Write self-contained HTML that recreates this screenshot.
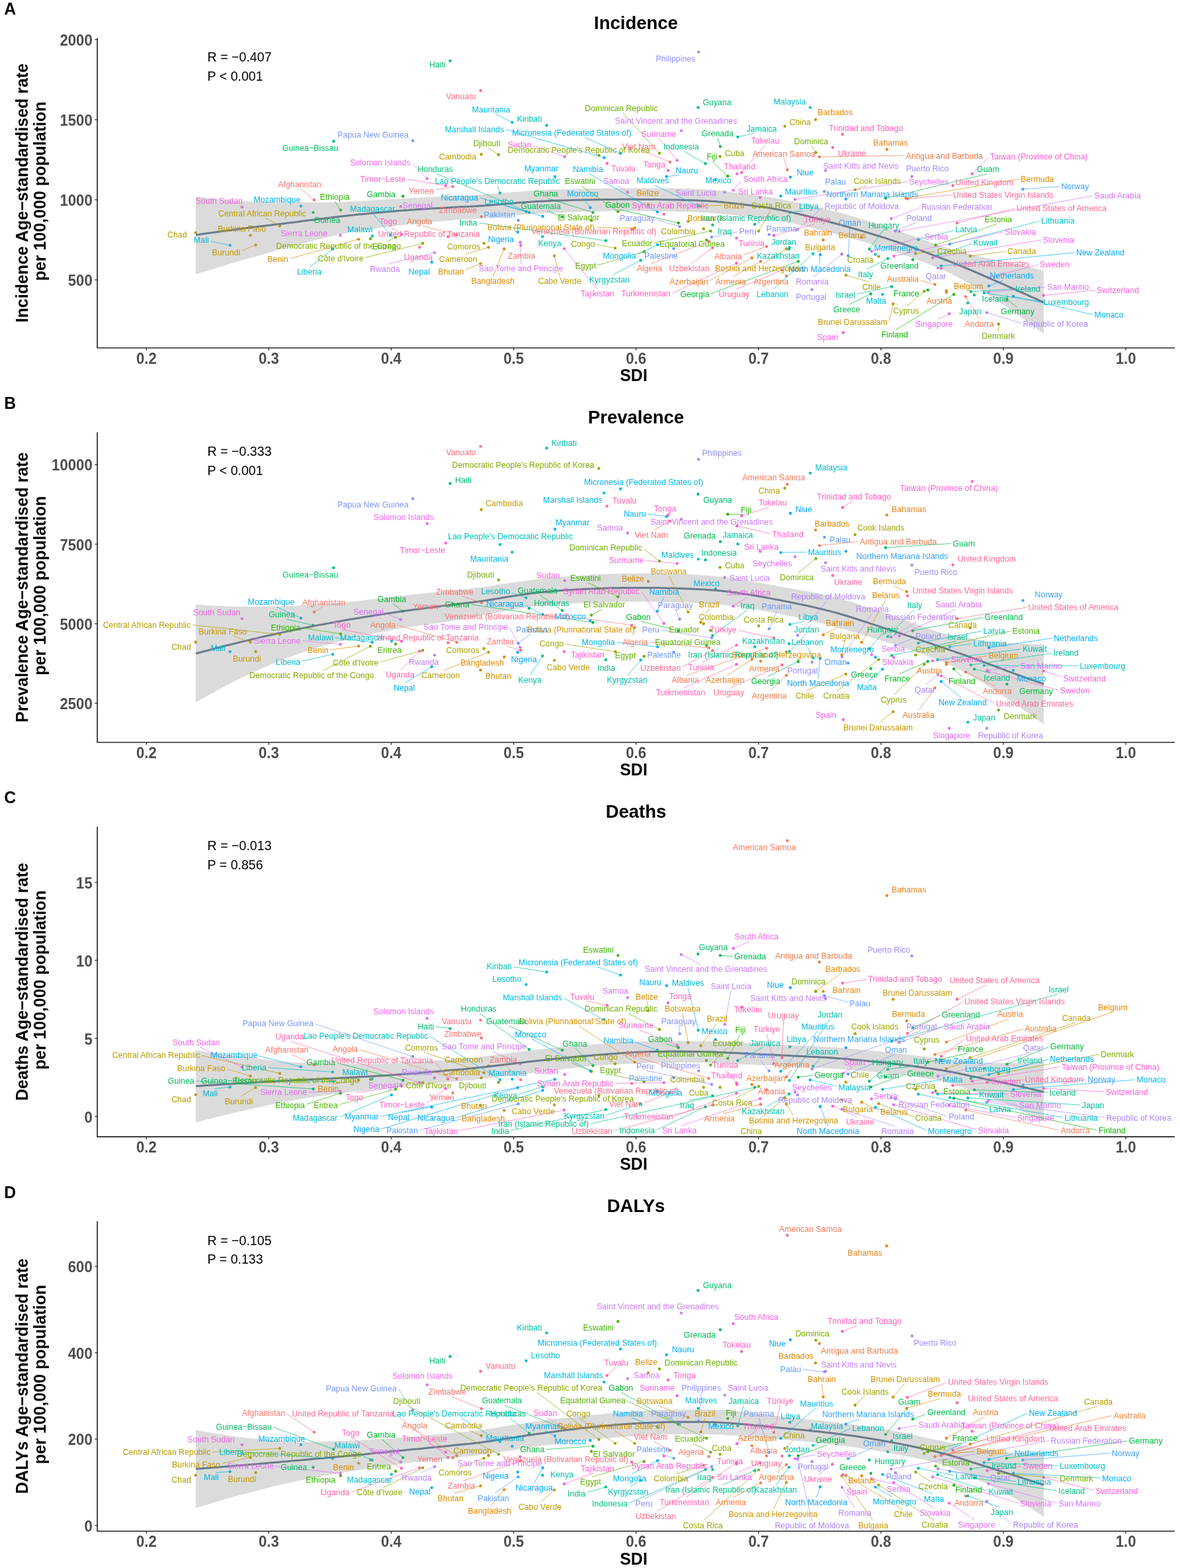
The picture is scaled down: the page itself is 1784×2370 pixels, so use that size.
<!DOCTYPE html>
<html lang="en"><head><meta charset="utf-8"><title>SDI vs age-standardised rates</title>
<style>html,body{margin:0;padding:0;background:#fff}svg{display:block}text{font-family:"Liberation Sans",Arial,Helvetica,sans-serif}.lb{font-size:12.38px}.ax{font-size:22.2px;font-weight:bold;fill:#4D4D4D}.tt{font-size:27.5px;font-weight:bold;text-anchor:middle}.at{font-size:25px;font-weight:bold;text-anchor:middle}.tg{font-size:24.8px;font-weight:bold}.an{font-size:19.6px}.sg{stroke-width:0.7;fill:none}</style></head><body>
<svg width="1784" height="2370" viewBox="0 0 1784 2370">
<rect width="1784" height="2370" fill="#fff"/>
<g id="panelA">
<g><circle cx="474.9" cy="302.2" r="2.2" fill="#F8766D"/><circle cx="1158.9" cy="372.4" r="2.2" fill="#F77768"/><circle cx="1071.6" cy="364.9" r="2.2" fill="#F67963"/><circle cx="1190.3" cy="256.8" r="2.2" fill="#F47A5E"/><circle cx="1460" cy="448.4" r="2.2" fill="#F37B59"/><circle cx="690.5" cy="354.9" r="2.2" fill="#F27D53"/><circle cx="1238.9" cy="237" r="2.2" fill="#F07E4E"/><circle cx="1188.9" cy="417" r="2.2" fill="#EF7F48"/><circle cx="1150" cy="395.1" r="2.2" fill="#ED8141"/><circle cx="1413.5" cy="430" r="2.2" fill="#EC823A"/><circle cx="1430.8" cy="441.9" r="2.2" fill="#EA8332"/><circle cx="1136.8" cy="389.7" r="2.2" fill="#E98429"/><circle cx="1340.8" cy="225.7" r="2.2" fill="#E7861D"/><circle cx="1244.6" cy="362.7" r="2.2" fill="#E5870A"/><circle cx="762.2" cy="376.2" r="2.2" fill="#E48800"/><circle cx="1233" cy="180.8" r="2.2" fill="#E28900"/><circle cx="1302.7" cy="358.6" r="2.2" fill="#E08B00"/><circle cx="1430.8" cy="439.5" r="2.2" fill="#DE8C00"/><circle cx="980" cy="308.9" r="2.2" fill="#DC8D00"/><circle cx="542.2" cy="361.6" r="2.2" fill="#DA8E00"/><circle cx="1369.7" cy="299.5" r="2.2" fill="#D88F00"/><circle cx="726.5" cy="398.4" r="2.2" fill="#D69100"/><circle cx="959.5" cy="344.6" r="2.2" fill="#D49200"/><circle cx="1188.9" cy="376.2" r="2.2" fill="#D29300"/><circle cx="1040.3" cy="334.6" r="2.2" fill="#D09400"/><circle cx="1058.6" cy="311.4" r="2.2" fill="#CD9500"/><circle cx="1350.3" cy="459.5" r="2.2" fill="#CB9600"/><circle cx="1272.7" cy="383.8" r="2.2" fill="#C99800"/><circle cx="378.6" cy="355.7" r="2.2" fill="#C69900"/><circle cx="386.5" cy="370.3" r="2.2" fill="#C49A00"/><circle cx="838.1" cy="386.8" r="2.2" fill="#C19B00"/><circle cx="727.6" cy="233.2" r="2.2" fill="#BE9C00"/><circle cx="738.6" cy="373.8" r="2.2" fill="#BC9D00"/><circle cx="1466.8" cy="387" r="2.2" fill="#B99E00"/><circle cx="423" cy="341.4" r="2.2" fill="#B69F00"/><circle cx="295.7" cy="351.6" r="2.2" fill="#B3A000"/><circle cx="1278.9" cy="415.9" r="2.2" fill="#B0A100"/><circle cx="1186.5" cy="190.8" r="2.2" fill="#ADA200"/><circle cx="1063.8" cy="345.7" r="2.2" fill="#AAA300"/><circle cx="731.6" cy="367.8" r="2.2" fill="#A7A400"/><circle cx="930" cy="374.9" r="2.2" fill="#A4A500"/><circle cx="1292.7" cy="286.8" r="2.2" fill="#A1A600"/><circle cx="1147" cy="349.2" r="2.2" fill="#9DA700"/><circle cx="1328.4" cy="387.6" r="2.2" fill="#9AA800"/><circle cx="1088.6" cy="236.5" r="2.2" fill="#96A900"/><circle cx="1397.3" cy="440.3" r="2.2" fill="#93AA00"/><circle cx="1384.3" cy="383" r="2.2" fill="#8FAA00"/><circle cx="639.2" cy="367.8" r="2.2" fill="#8BAB00"/><circle cx="905.4" cy="234.6" r="2.2" fill="#87AC00"/><circle cx="560" cy="360.8" r="2.2" fill="#82AD00"/><circle cx="1509.7" cy="489.7" r="2.2" fill="#7EAE00"/><circle cx="753.8" cy="233.8" r="2.2" fill="#79AF00"/><circle cx="1233.5" cy="230.5" r="2.2" fill="#74AF00"/><circle cx="997" cy="231.6" r="2.2" fill="#6FB000"/><circle cx="1074.3" cy="349.2" r="2.2" fill="#6AB100"/><circle cx="973.8" cy="380.3" r="2.2" fill="#64B200"/><circle cx="894.1" cy="333.2" r="2.2" fill="#5EB200"/><circle cx="1068.1" cy="362.7" r="2.2" fill="#58B300"/><circle cx="598.1" cy="358.6" r="2.2" fill="#51B400"/><circle cx="1414.6" cy="370.3" r="2.2" fill="#49B500"/><circle cx="934.3" cy="319.7" r="2.2" fill="#40B500"/><circle cx="514.9" cy="317.6" r="2.2" fill="#35B600"/><circle cx="1100.3" cy="266.2" r="2.2" fill="#27B700"/><circle cx="1442.2" cy="444.9" r="2.2" fill="#11B700"/><circle cx="1402.7" cy="438.4" r="2.2" fill="#00B816"/><circle cx="1025.7" cy="337" r="2.2" fill="#00B824"/><circle cx="609.2" cy="296.5" r="2.2" fill="#00B92E"/><circle cx="1206.8" cy="395.1" r="2.2" fill="#00B936"/><circle cx="1522.4" cy="452.7" r="2.2" fill="#00BA3D"/><circle cx="896.5" cy="321.1" r="2.2" fill="#00BB44"/><circle cx="1316.5" cy="444.3" r="2.2" fill="#00BB4A"/><circle cx="1380" cy="392.4" r="2.2" fill="#00BC4F"/><circle cx="1088.9" cy="221.4" r="2.2" fill="#00BC55"/><circle cx="1338.9" cy="299.5" r="2.2" fill="#00BC5A"/><circle cx="850" cy="327.8" r="2.2" fill="#00BD5F"/><circle cx="473.5" cy="321.1" r="2.2" fill="#00BD64"/><circle cx="504.3" cy="213.5" r="2.2" fill="#00BE69"/><circle cx="1055.4" cy="162.4" r="2.2" fill="#00BE6D"/><circle cx="680.5" cy="91.9" r="2.2" fill="#00BE71"/><circle cx="800" cy="321.1" r="2.2" fill="#00BF76"/><circle cx="1314.3" cy="376.5" r="2.2" fill="#00BF7A"/><circle cx="1473" cy="445.9" r="2.2" fill="#00BF7E"/><circle cx="915.9" cy="363.8" r="2.2" fill="#00C082"/><circle cx="1066.5" cy="247.3" r="2.2" fill="#00C086"/><circle cx="1141.1" cy="338.9" r="2.2" fill="#00C08A"/><circle cx="1077.3" cy="340" r="2.2" fill="#00C08E"/><circle cx="1467.8" cy="440.8" r="2.2" fill="#00C092"/><circle cx="1348.1" cy="433.2" r="2.2" fill="#00C095"/><circle cx="1342.2" cy="390.8" r="2.2" fill="#00C199"/><circle cx="1115.4" cy="207" r="2.2" fill="#00C19D"/><circle cx="1463.2" cy="457.8" r="2.2" fill="#00C1A0"/><circle cx="1193.5" cy="374.3" r="2.2" fill="#00C1A4"/><circle cx="1193" cy="376.5" r="2.2" fill="#00C1A7"/><circle cx="820.3" cy="357.6" r="2.2" fill="#00C1AB"/><circle cx="826.5" cy="189.5" r="2.2" fill="#00C0AE"/><circle cx="1417.6" cy="386.5" r="2.2" fill="#00C0B1"/><circle cx="968.6" cy="393.5" r="2.2" fill="#00C0B5"/><circle cx="755.9" cy="291.6" r="2.2" fill="#00C0B8"/><circle cx="1388.4" cy="362.2" r="2.2" fill="#00C0BB"/><circle cx="1229.2" cy="383.5" r="2.2" fill="#00C0BE"/><circle cx="795.4" cy="319.7" r="2.2" fill="#00BFC1"/><circle cx="503" cy="376.2" r="2.2" fill="#00BFC4"/><circle cx="1194.3" cy="321.1" r="2.2" fill="#00BFC7"/><circle cx="1435.9" cy="368.9" r="2.2" fill="#00BECA"/><circle cx="1487.8" cy="442.7" r="2.2" fill="#00BECD"/><circle cx="590.5" cy="354.9" r="2.2" fill="#00BDD0"/><circle cx="562.7" cy="356.8" r="2.2" fill="#00BDD3"/><circle cx="1224.9" cy="162.4" r="2.2" fill="#00BCD6"/><circle cx="1055.7" cy="311.1" r="2.2" fill="#00BCD8"/><circle cx="347.8" cy="370.8" r="2.2" fill="#00BBDB"/><circle cx="1334.3" cy="444.9" r="2.2" fill="#00BADE"/><circle cx="913.5" cy="238.4" r="2.2" fill="#00BAE0"/><circle cx="774.3" cy="184.9" r="2.2" fill="#00B9E3"/><circle cx="1180.3" cy="296.2" r="2.2" fill="#00B8E5"/><circle cx="1081.6" cy="271.1" r="2.2" fill="#00B7E7"/><circle cx="938.1" cy="231.9" r="2.2" fill="#00B6EA"/><circle cx="1531.9" cy="447.8" r="2.2" fill="#00B6EC"/><circle cx="994.1" cy="370" r="2.2" fill="#00B5EE"/><circle cx="1323.5" cy="384.6" r="2.2" fill="#00B4F0"/><circle cx="892.4" cy="313.8" r="2.2" fill="#00B2F2"/><circle cx="454.9" cy="311.4" r="2.2" fill="#00B1F4"/><circle cx="838.9" cy="267" r="2.2" fill="#00B0F6"/><circle cx="993.8" cy="320.3" r="2.2" fill="#00AFF8"/><circle cx="1007.8" cy="266.8" r="2.2" fill="#00AEFA"/><circle cx="652.7" cy="396.2" r="2.2" fill="#00ACFB"/><circle cx="1495.1" cy="432.2" r="2.2" fill="#00ABFD"/><circle cx="1423" cy="401.9" r="2.2" fill="#00AAFE"/><circle cx="820.5" cy="327" r="2.2" fill="#00A8FF"/><circle cx="782.7" cy="350.8" r="2.2" fill="#00A7FF"/><circle cx="1194.9" cy="267.6" r="2.2" fill="#00A5FF"/><circle cx="1240" cy="384.9" r="2.2" fill="#10A4FF"/><circle cx="1278.9" cy="300.8" r="2.2" fill="#2FA2FF"/><circle cx="1546.3" cy="285.9" r="2.2" fill="#41A0FF"/><circle cx="1282.2" cy="386.5" r="2.2" fill="#4F9FFF"/><circle cx="783.5" cy="333" r="2.2" fill="#5A9DFF"/><circle cx="1246.2" cy="289.5" r="2.2" fill="#649BFF"/><circle cx="1018.6" cy="375.7" r="2.2" fill="#6D9AFF"/><circle cx="1162.7" cy="354.6" r="2.2" fill="#7698FF"/><circle cx="624.1" cy="212.7" r="2.2" fill="#7E96FF"/><circle cx="1027.6" cy="342.4" r="2.2" fill="#8594FF"/><circle cx="1075.9" cy="358.4" r="2.2" fill="#8C92FF"/><circle cx="1056.2" cy="78.6" r="2.2" fill="#9290FF"/><circle cx="1353.8" cy="349.2" r="2.2" fill="#988EFF"/><circle cx="1227.6" cy="437.6" r="2.2" fill="#9E8CFF"/><circle cx="1378.6" cy="266.8" r="2.2" fill="#A48BFF"/><circle cx="1418.1" cy="405.1" r="2.2" fill="#A989FF"/><circle cx="1491.9" cy="472.4" r="2.2" fill="#AE87FF"/><circle cx="1205.9" cy="346.8" r="2.2" fill="#B385FF"/><circle cx="1272.7" cy="384.3" r="2.2" fill="#B883FF"/><circle cx="1347.3" cy="330.5" r="2.2" fill="#BD81FF"/><circle cx="657" cy="381.9" r="2.2" fill="#C17FFF"/><circle cx="1248.1" cy="257.8" r="2.2" fill="#C57DFF"/><circle cx="1095.7" cy="290.5" r="2.2" fill="#C97BFF"/><circle cx="1030" cy="197.6" r="2.2" fill="#CD79FF"/><circle cx="948.9" cy="290.5" r="2.2" fill="#D077FF"/><circle cx="1494.6" cy="441.6" r="2.2" fill="#D476FE"/><circle cx="786.5" cy="366.2" r="2.2" fill="#D774FD"/><circle cx="1359.5" cy="349.6" r="2.2" fill="#DA72FB"/><circle cx="605.9" cy="312.2" r="2.2" fill="#DD71FA"/><circle cx="1317.6" cy="379.7" r="2.2" fill="#E06FF8"/><circle cx="1201.9" cy="301.4" r="2.2" fill="#E36EF6"/><circle cx="514.6" cy="355.7" r="2.2" fill="#E66CF4"/><circle cx="1435.1" cy="474.3" r="2.2" fill="#E86BF2"/><circle cx="1351.4" cy="387" r="2.2" fill="#EA69F0"/><circle cx="1410" cy="389.7" r="2.2" fill="#ED68EE"/><circle cx="645.7" cy="270" r="2.2" fill="#EF67EC"/><circle cx="1108.6" cy="287.6" r="2.2" fill="#F166E9"/><circle cx="365.9" cy="313" r="2.2" fill="#F365E7"/><circle cx="1274.9" cy="502.7" r="2.2" fill="#F464E4"/><circle cx="1149.2" cy="298.4" r="2.2" fill="#F663E2"/><circle cx="853.8" cy="236.8" r="2.2" fill="#F763DF"/><circle cx="1023.8" cy="242.4" r="2.2" fill="#F962DC"/><circle cx="1494.6" cy="419.7" r="2.2" fill="#FA62DA"/><circle cx="1577.8" cy="446.5" r="2.2" fill="#FB61D7"/><circle cx="1003.8" cy="323.8" r="2.2" fill="#FC61D4"/><circle cx="1469.7" cy="262.7" r="2.2" fill="#FD61D1"/><circle cx="853" cy="375.9" r="2.2" fill="#FE61CE"/><circle cx="1114.1" cy="262.7" r="2.2" fill="#FF61CB"/><circle cx="673.8" cy="280.5" r="2.2" fill="#FF61C8"/><circle cx="607" cy="354.3" r="2.2" fill="#FF61C5"/><circle cx="1121.1" cy="260.8" r="2.2" fill="#FF61C2"/><circle cx="1010" cy="257.8" r="2.2" fill="#FF62BE"/><circle cx="1273.8" cy="203" r="2.2" fill="#FF62BB"/><circle cx="1113.5" cy="359.7" r="2.2" fill="#FF63B8"/><circle cx="1113.5" cy="397.8" r="2.2" fill="#FF63B4"/><circle cx="917.8" cy="247" r="2.2" fill="#FF64B1"/><circle cx="1170" cy="355.7" r="2.2" fill="#FF65AD"/><circle cx="634.3" cy="373.8" r="2.2" fill="#FF66AA"/><circle cx="1258.9" cy="223" r="2.2" fill="#FF66A6"/><circle cx="1423" cy="405.7" r="2.2" fill="#FF67A3"/><circle cx="1440.5" cy="280.5" r="2.2" fill="#FF689F"/><circle cx="677.3" cy="357.8" r="2.2" fill="#FF699B"/><circle cx="1371.9" cy="300.5" r="2.2" fill="#FF6A97"/><circle cx="1447" cy="337" r="2.2" fill="#FF6B93"/><circle cx="1182.4" cy="408.1" r="2.2" fill="#FF6D8F"/><circle cx="1077.3" cy="374.6" r="2.2" fill="#FE6E8B"/><circle cx="726.5" cy="137" r="2.2" fill="#FD6F87"/><circle cx="955.1" cy="346.8" r="2.2" fill="#FD7083"/><circle cx="1013" cy="244.9" r="2.2" fill="#FC717F"/><circle cx="684.6" cy="281.9" r="2.2" fill="#FB727A"/><circle cx="787.3" cy="370.8" r="2.2" fill="#FA7476"/><circle cx="727.8" cy="327.6" r="2.2" fill="#F97572"/></g>
<path d="M296 297 L299.1 297.3 L302.9 297.8 L307.3 298.3 L312.3 298.9 L317.7 299.6 L323.4 300.3 L329.5 301 L335.7 301.6 L342.1 302.3 L348.5 302.9 L354.8 303.4 L361 303.8 L367.2 304.1 L373.6 304.5 L380.2 304.7 L386.9 305 L393.7 305.2 L400.6 305.3 L407.6 305.5 L414.5 305.6 L421.5 305.7 L428.5 305.8 L435.4 305.8 L442.2 305.9 L449 305.9 L455.7 306 L462.5 306 L469.2 306 L476 306 L482.7 305.9 L489.5 305.9 L496.2 305.8 L502.9 305.6 L509.7 305.5 L516.4 305.3 L523.2 305.1 L530 304.8 L536.7 304.5 L543.5 304.2 L550.2 303.8 L557 303.3 L563.7 302.9 L570.5 302.5 L577.3 302 L584 301.5 L590.8 301.1 L597.5 300.7 L604.3 300.3 L611.2 299.9 L618.2 299.6 L625.4 299.2 L632.7 298.8 L639.9 298.4 L647.1 298.1 L654.2 297.7 L661.1 297.4 L667.7 297.1 L674 296.8 L679.9 296.5 L685.4 296.2 L690.3 296 L694.5 295.8 L698.3 295.6 L701.6 295.5 L704.7 295.4 L707.7 295.2 L710.7 295.1 L713.8 295 L717.1 294.8 L720.9 294.6 L725.1 294.3 L730 294 L735.5 293.6 L741.4 293.2 L747.7 292.6 L754.3 292.1 L761.2 291.5 L768.3 290.9 L775.5 290.3 L782.7 289.8 L790 289.2 L797.2 288.7 L804.2 288.2 L811.1 287.8 L817.9 287.4 L824.6 287.1 L831.4 286.8 L838.1 286.6 L844.9 286.3 L851.7 286.1 L858.4 285.9 L865.2 285.7 L871.9 285.5 L878.7 285.4 L885.4 285.2 L892.2 285.1 L899 285 L905.7 284.9 L912.5 284.8 L919.2 284.7 L926 284.7 L932.7 284.6 L939.4 284.6 L946.2 284.6 L952.9 284.6 L959.7 284.6 L966.4 284.6 L973.2 284.6 L980 284.6 L987 284.6 L994.1 284.7 L1001.2 284.7 L1008.4 284.8 L1015.4 284.8 L1022.4 284.9 L1029.3 285 L1035.9 285.1 L1042.3 285.3 L1048.5 285.5 L1054.3 285.7 L1059.7 286 L1064.7 286.2 L1069.3 286.5 L1073.7 286.8 L1077.9 287.1 L1081.9 287.5 L1086 287.9 L1090.1 288.3 L1094.3 288.8 L1098.7 289.3 L1103.4 289.9 L1108.4 290.5 L1113.7 291.2 L1119.2 291.8 L1124.8 292.5 L1130.6 293.3 L1136.5 294.1 L1142.5 294.9 L1148.6 295.8 L1154.8 296.7 L1161 297.7 L1167.3 298.7 L1173.6 299.8 L1180 301 L1186.4 302.2 L1193 303.5 L1199.6 304.9 L1206.3 306.3 L1213.1 307.7 L1220 309.2 L1226.8 310.8 L1233.7 312.4 L1240.6 314 L1247.5 315.7 L1254.3 317.4 L1261.1 319.2 L1267.9 321 L1274.6 322.8 L1281.4 324.8 L1288.1 326.7 L1294.9 328.7 L1301.7 330.7 L1308.4 332.8 L1315.2 334.9 L1321.9 337 L1328.7 339.1 L1335.4 341.3 L1342.2 343.5 L1349 345.8 L1356 348.2 L1363.1 350.6 L1370.2 353.2 L1377.3 355.7 L1384.4 358.3 L1391.4 360.8 L1398.2 363.3 L1404.8 365.7 L1411.3 367.9 L1417.4 370 L1423.2 371.9 L1428.7 373.6 L1433.8 375.2 L1438.6 376.7 L1443.2 378 L1447.6 379.2 L1451.9 380.4 L1456.1 381.5 L1460.3 382.6 L1464.4 383.6 L1468.6 384.7 L1472.9 385.7 L1477.3 386.8 L1481.8 387.9 L1486.4 388.9 L1491 389.9 L1495.6 390.8 L1500.2 391.8 L1504.8 392.7 L1509.4 393.6 L1513.9 394.5 L1518.4 395.4 L1522.8 396.3 L1527.2 397.2 L1531.4 398.1 L1535.7 399.1 L1540.1 400.1 L1544.7 401.1 L1549.2 402.2 L1553.7 403.3 L1558.1 404.4 L1562.3 405.4 L1566.2 406.3 L1569.8 407.2 L1573 408 L1575.8 408.7 L1578 409.2 L1578 504.6 L1575.8 503 L1573 500.9 L1569.8 498.5 L1566.2 495.8 L1562.3 492.9 L1558.1 489.7 L1553.7 486.5 L1549.2 483.2 L1544.7 479.9 L1540.1 476.6 L1535.7 473.5 L1531.4 470.5 L1527.2 467.6 L1522.8 464.6 L1518.4 461.6 L1513.9 458.6 L1509.4 455.6 L1504.8 452.6 L1500.2 449.6 L1495.6 446.6 L1491 443.7 L1486.4 440.9 L1481.8 438.1 L1477.3 435.4 L1472.9 432.8 L1468.6 430.3 L1464.4 427.9 L1460.3 425.5 L1456.1 423.2 L1451.9 420.9 L1447.6 418.6 L1443.2 416.4 L1438.6 414.1 L1433.8 411.8 L1428.7 409.4 L1423.2 407 L1417.4 404.5 L1411.3 402 L1404.8 399.4 L1398.2 396.8 L1391.4 394.2 L1384.4 391.6 L1377.3 389 L1370.2 386.5 L1363.1 383.9 L1356 381.5 L1349 379.1 L1342.2 376.8 L1335.4 374.6 L1328.7 372.4 L1321.9 370.3 L1315.2 368.2 L1308.4 366.2 L1301.7 364.2 L1294.9 362.3 L1288.1 360.3 L1281.4 358.5 L1274.6 356.6 L1267.9 354.8 L1261.1 353 L1254.3 351.2 L1247.5 349.4 L1240.6 347.7 L1233.7 345.9 L1226.8 344.2 L1220 342.6 L1213.1 341 L1206.3 339.4 L1199.6 337.9 L1193 336.5 L1186.4 335.2 L1180 334 L1173.6 332.9 L1167.3 331.9 L1161 331 L1154.8 330.1 L1148.6 329.3 L1142.5 328.6 L1136.5 328 L1130.6 327.4 L1124.8 326.8 L1119.2 326.2 L1113.7 325.6 L1108.4 325.1 L1103.4 324.6 L1098.7 324.1 L1094.3 323.6 L1090.1 323.2 L1086 322.9 L1081.9 322.5 L1077.9 322.2 L1073.7 321.9 L1069.3 321.6 L1064.7 321.3 L1059.7 321.1 L1054.3 320.8 L1048.5 320.5 L1042.3 320.3 L1035.9 320.1 L1029.3 319.9 L1022.4 319.7 L1015.4 319.5 L1008.4 319.4 L1001.2 319.2 L994.1 319.1 L987 319 L980 319 L973.2 318.9 L966.4 318.9 L959.7 318.8 L952.9 318.9 L946.2 318.9 L939.4 318.9 L932.7 319 L926 319.1 L919.2 319.1 L912.5 319.3 L905.7 319.4 L899 319.5 L892.2 319.7 L885.4 319.9 L878.7 320.1 L871.9 320.3 L865.2 320.5 L858.4 320.7 L851.7 321 L844.9 321.3 L838.1 321.5 L831.4 321.9 L824.6 322.2 L817.9 322.6 L811.1 323 L804.2 323.5 L797.2 324 L790 324.5 L782.7 325.2 L775.5 325.8 L768.3 326.4 L761.2 327.1 L754.3 327.7 L747.7 328.3 L741.4 328.9 L735.5 329.4 L730 329.8 L725.1 330.2 L720.9 330.4 L717.1 330.7 L713.8 330.9 L710.7 331 L707.7 331.2 L704.7 331.3 L701.6 331.5 L698.3 331.7 L694.5 332 L690.3 332.3 L685.4 332.7 L679.9 333.2 L674 333.7 L667.7 334.3 L661.1 334.9 L654.2 335.5 L647.1 336.2 L639.9 336.9 L632.7 337.6 L625.4 338.4 L618.2 339.2 L611.2 340 L604.3 340.8 L597.5 341.6 L590.8 342.4 L584 343.3 L577.3 344.1 L570.5 345 L563.7 345.9 L557 346.8 L550.2 347.8 L543.5 348.8 L536.7 350 L530 351.1 L523.2 352.4 L516.4 353.8 L509.7 355.2 L502.9 356.7 L496.2 358.3 L489.5 359.9 L482.7 361.6 L476 363.3 L469.2 365.1 L462.5 366.9 L455.7 368.6 L449 370.4 L442.2 372.2 L435.4 374 L428.5 375.9 L421.5 377.7 L414.5 379.7 L407.6 381.6 L400.6 383.6 L393.7 385.5 L386.9 387.4 L380.2 389.4 L373.6 391.3 L367.2 393.1 L361 394.9 L354.8 396.7 L348.5 398.6 L342.1 400.5 L335.7 402.4 L329.5 404.3 L323.4 406.2 L317.7 407.9 L312.3 409.6 L307.3 411.1 L302.9 412.5 L299.1 413.7 L296 414.6 Z" fill="#999999" fill-opacity="0.35"/>
<path d="M296 355.1 L299.1 354.7 L302.9 354.1 L307.3 353.5 L312.3 352.8 L317.7 352.1 L323.4 351.3 L329.5 350.4 L335.7 349.6 L342.1 348.7 L348.5 347.9 L354.8 347 L361 346.2 L367.2 345.4 L373.6 344.6 L380.2 343.8 L386.9 342.9 L393.7 342.1 L400.6 341.3 L407.6 340.4 L414.5 339.6 L421.5 338.7 L428.5 337.9 L435.4 337 L442.2 336.2 L449 335.4 L455.7 334.5 L462.5 333.6 L469.2 332.8 L476 331.9 L482.7 331 L489.5 330.2 L496.2 329.4 L502.9 328.5 L509.7 327.7 L516.4 326.9 L523.2 326.2 L530 325.5 L536.7 324.8 L543.5 324.1 L550.2 323.4 L557 322.8 L563.7 322.1 L570.5 321.5 L577.3 320.9 L584 320.3 L590.8 319.7 L597.5 319.1 L604.3 318.6 L611.2 318.1 L618.2 317.5 L625.4 317 L632.7 316.5 L639.9 316 L647.1 315.6 L654.2 315.1 L661.1 314.7 L667.7 314.3 L674 313.9 L679.9 313.5 L685.4 313.2 L690.3 312.9 L694.5 312.7 L698.3 312.5 L701.6 312.4 L704.7 312.3 L707.7 312.2 L710.7 312.1 L713.8 311.9 L717.1 311.8 L720.9 311.6 L725.1 311.3 L730 311 L735.5 310.6 L741.4 310.1 L747.7 309.6 L754.3 309 L761.2 308.4 L768.3 307.8 L775.5 307.2 L782.7 306.6 L790 306 L797.2 305.5 L804.2 305 L811.1 304.6 L817.9 304.2 L824.6 303.9 L831.4 303.6 L838.1 303.3 L844.9 303.1 L851.7 302.9 L858.4 302.7 L865.2 302.5 L871.9 302.3 L878.7 302.2 L885.4 302 L892.2 301.9 L899 301.8 L905.7 301.7 L912.5 301.6 L919.2 301.5 L926 301.4 L932.7 301.4 L939.4 301.3 L946.2 301.3 L952.9 301.3 L959.7 301.3 L966.4 301.4 L973.2 301.4 L980 301.5 L987 301.5 L994.1 301.6 L1001.2 301.7 L1008.4 301.8 L1015.4 301.9 L1022.4 302 L1029.3 302.2 L1035.9 302.4 L1042.3 302.6 L1048.5 302.8 L1054.3 303 L1059.7 303.2 L1064.7 303.5 L1069.3 303.7 L1073.7 304 L1077.9 304.3 L1081.9 304.6 L1086 305 L1090.1 305.3 L1094.3 305.8 L1098.7 306.2 L1103.4 306.7 L1108.4 307.3 L1113.7 307.9 L1119.2 308.5 L1124.8 309.2 L1130.6 309.9 L1136.5 310.6 L1142.5 311.4 L1148.6 312.2 L1154.8 313.1 L1161 314.1 L1167.3 315.1 L1173.6 316.2 L1180 317.4 L1186.4 318.7 L1193 320.1 L1199.6 321.6 L1206.3 323.2 L1213.1 324.8 L1220 326.5 L1226.8 328.2 L1233.7 330 L1240.6 331.8 L1247.5 333.6 L1254.3 335.5 L1261.1 337.3 L1267.9 339.1 L1274.6 341 L1281.4 342.8 L1288.1 344.7 L1294.9 346.7 L1301.7 348.6 L1308.4 350.6 L1315.2 352.6 L1321.9 354.7 L1328.7 356.8 L1335.4 358.9 L1342.2 361.1 L1349 363.4 L1356 365.7 L1363.1 368.2 L1370.2 370.7 L1377.3 373.2 L1384.4 375.8 L1391.4 378.4 L1398.2 380.9 L1404.8 383.4 L1411.3 385.8 L1417.4 388.1 L1423.2 390.3 L1428.7 392.4 L1433.8 394.4 L1438.6 396.3 L1443.2 398.1 L1447.6 399.9 L1451.9 401.7 L1456.1 403.4 L1460.3 405.2 L1464.4 406.9 L1468.6 408.7 L1472.9 410.5 L1477.3 412.4 L1481.8 414.3 L1486.4 416.3 L1491 418.3 L1495.6 420.3 L1500.2 422.3 L1504.8 424.4 L1509.4 426.4 L1513.9 428.4 L1518.4 430.4 L1522.8 432.4 L1527.2 434.3 L1531.4 436.2 L1535.7 438.1 L1540.1 440.1 L1544.7 442.1 L1549.2 444.1 L1553.7 446.1 L1558.1 448.1 L1562.3 450 L1566.2 451.7 L1569.8 453.3 L1573 454.8 L1575.8 456 L1578 457" fill="none" stroke="#6C7B8B" stroke-width="3.0" stroke-linejoin="round"/>
<g><line class="sg" x1="454.5" y1="285.1" x2="474.9" y2="302.2" stroke="#F8766D"/><line class="sg" x1="1124.2" y1="385.3" x2="1158.9" y2="372.4" stroke="#F77768"/><line class="sg" x1="983.9" y1="398.7" x2="1071.6" y2="364.9" stroke="#F67963"/><line class="sg" x1="1185.3" y1="239.4" x2="1190.3" y2="256.8" stroke="#F47A5E"/><line class="sg" x1="1480.3" y1="482.2" x2="1460" y2="448.4" stroke="#F37B59"/><line class="sg" x1="638.9" y1="341.6" x2="690.5" y2="354.9" stroke="#F27D53"/><line class="sg" x1="1367.1" y1="235.1" x2="1238.9" y2="237" stroke="#F07E4E"/><line class="sg" x1="1107.5" y1="418.4" x2="1150" y2="395.1" stroke="#ED8141"/><line class="sg" x1="1391.8" y1="423.8" x2="1413.5" y2="430" stroke="#EC823A"/><line class="sg" x1="1073.3" y1="424.1" x2="1136.8" y2="389.7" stroke="#E98429"/><line class="sg" x1="745.3" y1="417.9" x2="762.2" y2="376.2" stroke="#E48800"/><line class="sg" x1="438.6" y1="390.9" x2="542.2" y2="361.6" stroke="#DA8E00"/><line class="sg" x1="1540.6" y1="270.6" x2="1369.7" y2="299.5" stroke="#D88F00"/><line class="sg" x1="704" y1="407.8" x2="726.5" y2="398.4" stroke="#D69100"/><line class="sg" x1="901.7" y1="343.8" x2="959.5" y2="344.6" stroke="#D49200"/><line class="sg" x1="1153.4" y1="398.9" x2="1188.9" y2="376.2" stroke="#D29300"/><line class="sg" x1="1091.5" y1="310.3" x2="1058.6" y2="311.4" stroke="#CD9500"/><line class="sg" x1="1344.4" y1="484.7" x2="1350.3" y2="459.5" stroke="#CB9600"/><line class="sg" x1="365.8" y1="379" x2="386.5" y2="370.3" stroke="#C49A00"/><line class="sg" x1="846.2" y1="417.9" x2="838.1" y2="386.8" stroke="#C19B00"/><line class="sg" x1="703.6" y1="384.4" x2="738.6" y2="373.8" stroke="#BC9D00"/><line class="sg" x1="1520.4" y1="380.1" x2="1466.8" y2="387" stroke="#B99E00"/><line class="sg" x1="401" y1="329.4" x2="423" y2="341.4" stroke="#B69F00"/><line class="sg" x1="1314" y1="426.2" x2="1278.9" y2="415.9" stroke="#B0A100"/><line class="sg" x1="902.3" y1="369.7" x2="930" y2="374.9" stroke="#A4A500"/><line class="sg" x1="1309.7" y1="280.8" x2="1292.7" y2="286.8" stroke="#A1A600"/><line class="sg" x1="1165.6" y1="317.3" x2="1147" y2="349.2" stroke="#9DA700"/><line class="sg" x1="1371.2" y1="462.5" x2="1397.3" y2="440.3" stroke="#93AA00"/><line class="sg" x1="1414.2" y1="379.9" x2="1384.3" y2="383" stroke="#8FAA00"/><line class="sg" x1="552.2" y1="389.4" x2="639.2" y2="367.8" stroke="#8BAB00"/><line class="sg" x1="1509.4" y1="500.8" x2="1509.7" y2="489.7" stroke="#7EAE00"/><line class="sg" x1="738.1" y1="223.5" x2="753.8" y2="233.8" stroke="#79AF00"/><line class="sg" x1="1226.5" y1="220.2" x2="1233.5" y2="230.5" stroke="#74AF00"/><line class="sg" x1="941.6" y1="170.5" x2="997" y2="231.6" stroke="#6FB000"/><line class="sg" x1="989" y1="367.1" x2="1074.3" y2="349.2" stroke="#6AB100"/><line class="sg" x1="903.7" y1="400.8" x2="973.8" y2="380.3" stroke="#64B200"/><line class="sg" x1="584.1" y1="366" x2="598.1" y2="358.6" stroke="#51B400"/><line class="sg" x1="1506.9" y1="338.6" x2="1414.6" y2="370.3" stroke="#49B500"/><line class="sg" x1="878.6" y1="280.8" x2="934.3" y2="319.7" stroke="#40B500"/><line class="sg" x1="506.3" y1="304.3" x2="514.9" y2="317.6" stroke="#35B600"/><line class="sg" x1="1076.6" y1="244" x2="1100.3" y2="266.2" stroke="#27B700"/><line class="sg" x1="1353.8" y1="498.9" x2="1442.2" y2="444.9" stroke="#11B700"/><line class="sg" x1="936.5" y1="316.7" x2="1025.7" y2="337" stroke="#00B824"/><line class="sg" x1="1075" y1="443.7" x2="1206.8" y2="395.1" stroke="#00B936"/><line class="sg" x1="1537.1" y1="463.8" x2="1522.4" y2="452.7" stroke="#00BA3D"/><line class="sg" x1="828" y1="299.7" x2="896.5" y2="321.1" stroke="#00BB44"/><line class="sg" x1="1283.5" y1="460.3" x2="1316.5" y2="444.3" stroke="#00BB4A"/><line class="sg" x1="1084.9" y1="208.4" x2="1088.9" y2="221.4" stroke="#00BC55"/><line class="sg" x1="1492.4" y1="262.9" x2="1338.9" y2="299.5" stroke="#00BC5A"/><line class="sg" x1="827.2" y1="318.1" x2="850" y2="327.8" stroke="#00BD5F"/><line class="sg" x1="660.2" y1="262.7" x2="800" y2="321.1" stroke="#00BF76"/><line class="sg" x1="1335.6" y1="347.5" x2="1314.3" y2="376.5" stroke="#00BF7A"/><line class="sg" x1="724" y1="337" x2="915.9" y2="363.8" stroke="#00C082"/><line class="sg" x1="1033.8" y1="228.6" x2="1066.5" y2="247.3" stroke="#00C086"/><line class="sg" x1="1532.5" y1="436.8" x2="1467.8" y2="440.8" stroke="#00C092"/><line class="sg" x1="1295.6" y1="444.5" x2="1348.1" y2="433.2" stroke="#00C095"/><line class="sg" x1="1310" y1="407.3" x2="1342.2" y2="390.8" stroke="#00C199"/><line class="sg" x1="1139" y1="201.6" x2="1115.4" y2="207" stroke="#00C19D"/><line class="sg" x1="1468.8" y1="368.4" x2="1417.6" y2="386.5" stroke="#00C0B1"/><line class="sg" x1="926.2" y1="415.7" x2="968.6" y2="393.5" stroke="#00C0B5"/><line class="sg" x1="752" y1="280.8" x2="755.9" y2="291.6" stroke="#00C0B8"/><line class="sg" x1="1441.7" y1="348.3" x2="1388.4" y2="362.2" stroke="#00C0BB"/><line class="sg" x1="1168.9" y1="437.3" x2="1229.2" y2="383.5" stroke="#00C0BE"/><line class="sg" x1="763.1" y1="311.3" x2="795.4" y2="319.7" stroke="#00BFC1"/><line class="sg" x1="468.7" y1="403.5" x2="503" y2="376.2" stroke="#00BFC4"/><line class="sg" x1="1213.6" y1="318.6" x2="1194.3" y2="321.1" stroke="#00BFC7"/><line class="sg" x1="1571.7" y1="334.3" x2="1435.9" y2="368.9" stroke="#00BECA"/><line class="sg" x1="1575" y1="456.2" x2="1487.8" y2="442.7" stroke="#00BECD"/><line class="sg" x1="564.1" y1="322.9" x2="590.5" y2="354.9" stroke="#00BDD0"/><line class="sg" x1="989.6" y1="280" x2="1055.7" y2="311.1" stroke="#00BCD8"/><line class="sg" x1="318.3" y1="364.7" x2="347.8" y2="370.8" stroke="#00BBDB"/><line class="sg" x1="764.7" y1="195.9" x2="913.5" y2="238.4" stroke="#00BAE0"/><line class="sg" x1="748.8" y1="172.1" x2="774.3" y2="184.9" stroke="#00B9E3"/><line class="sg" x1="883.8" y1="207.5" x2="938.1" y2="231.9" stroke="#00B6EA"/><line class="sg" x1="1652" y1="475.4" x2="1531.9" y2="447.8" stroke="#00B6EC"/><line class="sg" x1="964.2" y1="384.6" x2="994.1" y2="370" stroke="#00B5EE"/><line class="sg" x1="881.4" y1="299.7" x2="892.4" y2="313.8" stroke="#00B2F2"/><line class="sg" x1="890.2" y1="262.1" x2="993.8" y2="320.3" stroke="#00AFF8"/><line class="sg" x1="1027.3" y1="264.6" x2="1007.8" y2="266.8" stroke="#00AEFA"/><line class="sg" x1="1516.4" y1="424" x2="1495.1" y2="432.2" stroke="#00ABFD"/><line class="sg" x1="1624.4" y1="381.8" x2="1423" y2="401.9" stroke="#00AAFE"/><line class="sg" x1="725.5" y1="298.9" x2="820.5" y2="327" stroke="#00A8FF"/><line class="sg" x1="1239" y1="399.2" x2="1240" y2="384.9" stroke="#10A4FF"/><line class="sg" x1="1601.8" y1="282" x2="1546.3" y2="285.9" stroke="#41A0FF"/><line class="sg" x1="1285" y1="343.8" x2="1282.2" y2="386.5" stroke="#4F9FFF"/><line class="sg" x1="992.6" y1="331.9" x2="1027.6" y2="342.4" stroke="#8594FF"/><line class="sg" x1="1115" y1="350.6" x2="1075.9" y2="358.4" stroke="#8C92FF"/><line class="sg" x1="1385.3" y1="336.2" x2="1353.8" y2="349.2" stroke="#988EFF"/><line class="sg" x1="1543.9" y1="488.4" x2="1491.9" y2="472.4" stroke="#AE87FF"/><line class="sg" x1="1244.2" y1="312.9" x2="1205.9" y2="346.8" stroke="#B385FF"/><line class="sg" x1="1229.6" y1="418.7" x2="1272.7" y2="384.3" stroke="#B883FF"/><line class="sg" x1="1390.1" y1="314.1" x2="1347.3" y2="330.5" stroke="#BD81FF"/><line class="sg" x1="586.9" y1="399.2" x2="657" y2="381.9" stroke="#C17FFF"/><line class="sg" x1="933.8" y1="280.8" x2="948.9" y2="290.5" stroke="#D077FF"/><line class="sg" x1="1580.6" y1="433.8" x2="1494.6" y2="441.6" stroke="#D476FE"/><line class="sg" x1="787.7" y1="398.9" x2="786.5" y2="366.2" stroke="#D774FD"/><line class="sg" x1="1652" y1="296" x2="1359.5" y2="349.6" stroke="#DA72FB"/><line class="sg" x1="1395" y1="358.2" x2="1317.6" y2="379.7" stroke="#E06FF8"/><line class="sg" x1="1371.7" y1="274.4" x2="1201.9" y2="301.4" stroke="#E36EF6"/><line class="sg" x1="1418" y1="482.2" x2="1435.1" y2="474.3" stroke="#E86BF2"/><line class="sg" x1="1516.6" y1="350.7" x2="1351.4" y2="387" stroke="#EA69F0"/><line class="sg" x1="1573.9" y1="362.8" x2="1410" y2="389.7" stroke="#ED68EE"/><line class="sg" x1="623.3" y1="247.2" x2="645.7" y2="270" stroke="#EF67EC"/><line class="sg" x1="1121.2" y1="273.2" x2="1108.6" y2="287.6" stroke="#F166E9"/><line class="sg" x1="806.2" y1="220.4" x2="853.8" y2="236.8" stroke="#F763DF"/><line class="sg" x1="996.8" y1="209.7" x2="1023.8" y2="242.4" stroke="#F962DC"/><line class="sg" x1="1569.5" y1="400.3" x2="1494.6" y2="419.7" stroke="#FA62DA"/><line class="sg" x1="1655.5" y1="438.5" x2="1577.8" y2="446.5" stroke="#FB61D7"/><line class="sg" x1="1494.2" y1="238.5" x2="1469.7" y2="262.7" stroke="#FD61D1"/><line class="sg" x1="902.6" y1="436.8" x2="853" y2="375.9" stroke="#FE61CE"/><line class="sg" x1="615.9" y1="271.1" x2="673.8" y2="280.5" stroke="#FF61C8"/><line class="sg" x1="588.4" y1="341.6" x2="607" y2="354.3" stroke="#FF61C5"/><line class="sg" x1="1156.3" y1="220" x2="1121.1" y2="260.8" stroke="#FF61C2"/><line class="sg" x1="1016.3" y1="443" x2="1113.5" y2="397.8" stroke="#FF63B4"/><line class="sg" x1="1231.5" y1="338.9" x2="1170" y2="355.7" stroke="#FF65AD"/><line class="sg" x1="1438.2" y1="294.6" x2="1371.9" y2="300.5" stroke="#FF6A97"/><line class="sg" x1="1534.2" y1="315.1" x2="1447" y2="337" stroke="#FF6B93"/><line class="sg" x1="1112.8" y1="437.3" x2="1182.4" y2="408.1" stroke="#FF6D8F"/><line class="sg" x1="1045" y1="398.9" x2="1077.3" y2="374.6" stroke="#FE6E8B"/><line class="sg" x1="971.3" y1="228.1" x2="1013" y2="244.9" stroke="#FC717F"/><line class="sg" x1="658.5" y1="287.1" x2="684.6" y2="281.9" stroke="#FB727A"/></g>
<g><text class="lb" x="420.3" y="282.5" fill="#F8766D">Afghanistan</text>
<text class="lb" x="1080.3" y="391.7" fill="#F77768">Albania</text>
<text class="lb" x="962.7" y="410.1" fill="#F67963">Algeria</text>
<text class="lb" x="1137.8" y="236.8" fill="#F47A5E">American Samoa</text>
<text class="lb" x="1458.6" y="493.6" fill="#F37B59">Andorra</text>
<text class="lb" x="614.9" y="339" fill="#F27D53">Angola</text>
<text class="lb" x="1369.7" y="239.5" fill="#F07E4E">Antigua and Barbuda</text>
<text class="lb" x="1139.2" y="429.8" fill="#EF7F48">Argentina</text>
<text class="lb" x="1081.6" y="429.8" fill="#ED8141">Armenia</text>
<text class="lb" x="1341.1" y="425.5" fill="#EC823A">Australia</text>
<text class="lb" x="1400.8" y="458.5" fill="#EA8332">Austria</text>
<text class="lb" x="1012.2" y="429.5" fill="#E98429">Azerbaijan</text>
<text class="lb" x="1320.3" y="220.3" fill="#E7861D">Bahamas</text>
<text class="lb" x="1215.4" y="356.3" fill="#E5870A">Bahrain</text>
<text class="lb" x="712.4" y="429.3" fill="#E48800">Bangladesh</text>
<text class="lb" x="1236.2" y="173.9" fill="#E28900">Barbados</text>
<text class="lb" x="1267.6" y="359.5" fill="#E08B00">Belarus</text>
<text class="lb" x="1441.9" y="436.6" fill="#DE8C00">Belgium</text>
<text class="lb" x="962.4" y="296.3" fill="#DC8D00">Belize</text>
<text class="lb" x="404.3" y="396" fill="#DA8E00">Benin</text>
<text class="lb" x="1543.2" y="274.7" fill="#D88F00">Bermuda</text>
<text class="lb" x="662.2" y="414.9" fill="#D69100">Bhutan</text>
<text class="lb" x="736.8" y="348.2" fill="#D49200">Bolivia (Plurinational State of)</text>
<text class="lb" x="1081.1" y="410.3" fill="#D29300">Bosnia and Herzegovina</text>
<text class="lb" x="1039.2" y="333.9" fill="#D09400">Botswana</text>
<text class="lb" x="1094.1" y="314.7" fill="#CD9500">Brazil</text>
<text class="lb" x="1236.5" y="490.9" fill="#CB9600">Brunei Darussalam</text>
<text class="lb" x="1217.3" y="377.9" fill="#C99800">Bulgaria</text>
<text class="lb" x="329.2" y="349.8" fill="#C69900">Burkina Faso</text>
<text class="lb" x="320.5" y="386.3" fill="#C49A00">Burundi</text>
<text class="lb" x="813.5" y="429.3" fill="#C19B00">Cabo Verde</text>
<text class="lb" x="663.8" y="240.6" fill="#BE9C00">Cambodia</text>
<text class="lb" x="663.8" y="395.8" fill="#BC9D00">Cameroon</text>
<text class="lb" x="1523" y="383.9" fill="#B99E00">Canada</text>
<text class="lb" x="330" y="326.8" fill="#B69F00">Central African Republic</text>
<text class="lb" x="253" y="358.5" fill="#B3A000">Chad</text>
<text class="lb" x="1303.5" y="437.6" fill="#B0A100">Chile</text>
<text class="lb" x="1193.5" y="189" fill="#ADA200">China</text>
<text class="lb" x="999.2" y="354.1" fill="#AAA300">Colombia</text>
<text class="lb" x="675.9" y="377.1" fill="#A7A400">Comoros</text>
<text class="lb" x="863.2" y="372.8" fill="#A4A500">Congo</text>
<text class="lb" x="1290.5" y="278.2" fill="#A1A600">Cook Islands</text>
<text class="lb" x="1135.7" y="314.7" fill="#9DA700">Costa Rica</text>
<text class="lb" x="1280.8" y="397.4" fill="#9AA800">Croatia</text>
<text class="lb" x="1095.9" y="236.3" fill="#96A900">Cuba</text>
<text class="lb" x="1350.3" y="473.9" fill="#93AA00">Cyprus</text>
<text class="lb" x="1416.8" y="384.1" fill="#8FAA00">Czechia</text>
<text class="lb" x="480.5" y="394.7" fill="#8BAB00">Côte d&#x27;Ivoire</text>
<text class="lb" x="767.6" y="230.9" fill="#87AC00">Democratic People&#x27;s Republic of Korea</text>
<text class="lb" x="417.6" y="376" fill="#82AD00">Democratic Republic of the Congo</text>
<text class="lb" x="1484.3" y="512.2" fill="#7EAE00">Denmark</text>
<text class="lb" x="715.4" y="220.9" fill="#79AF00">Djibouti</text>
<text class="lb" x="1200.5" y="217.6" fill="#74AF00">Dominica</text>
<text class="lb" x="884.3" y="167.9" fill="#6FB000">Dominican Republic</text>
<text class="lb" x="940.3" y="372.2" fill="#6AB100">Ecuador</text>
<text class="lb" x="869.5" y="406.3" fill="#64B200">Egypt</text>
<text class="lb" x="843.2" y="332.5" fill="#5EB200">El Salvador</text>
<text class="lb" x="996.8" y="372.8" fill="#58B300">Equatorial Guinea</text>
<text class="lb" x="562.7" y="377.4" fill="#51B400">Eritrea</text>
<text class="lb" x="1488.6" y="336" fill="#49B500">Estonia</text>
<text class="lb" x="854.1" y="278.2" fill="#40B500">Eswatini</text>
<text class="lb" x="483.8" y="301.7" fill="#35B600">Ethiopia</text>
<text class="lb" x="1068.4" y="241.4" fill="#27B700">Fiji</text>
<text class="lb" x="1332.4" y="510.3" fill="#11B700">Finland</text>
<text class="lb" x="1351.1" y="447.9" fill="#00B816">France</text>
<text class="lb" x="914.9" y="314.1" fill="#00B824">Gabon</text>
<text class="lb" x="554.6" y="297.9" fill="#00B92E">Gambia</text>
<text class="lb" x="1028.4" y="448.7" fill="#00B936">Georgia</text>
<text class="lb" x="1513" y="475.2" fill="#00BA3D">Germany</text>
<text class="lb" x="806.5" y="297.1" fill="#00BB44">Ghana</text>
<text class="lb" x="1259.7" y="471.7" fill="#00BB4A">Greece</text>
<text class="lb" x="1331.1" y="405.8" fill="#00BC4F">Greenland</text>
<text class="lb" x="1060.8" y="205.8" fill="#00BC55">Grenada</text>
<text class="lb" x="1477" y="260.3" fill="#00BC5A">Guam</text>
<text class="lb" x="787.3" y="315.5" fill="#00BD5F">Guatemala</text>
<text class="lb" x="474.6" y="337.4" fill="#00BD64">Guinea</text>
<text class="lb" x="427" y="228.2" fill="#00BE69">Guinea−Bissau</text>
<text class="lb" x="1062.4" y="159" fill="#00BE6D">Guyana</text>
<text class="lb" x="648.9" y="102" fill="#00BE71">Haiti</text>
<text class="lb" x="631.4" y="260.1" fill="#00BF76">Honduras</text>
<text class="lb" x="1312.7" y="344.9" fill="#00BF7A">Hungary</text>
<text class="lb" x="1484.6" y="456.3" fill="#00BF7E">Iceland</text>
<text class="lb" x="694.6" y="341.2" fill="#00C082">India</text>
<text class="lb" x="1003" y="226" fill="#00C086">Indonesia</text>
<text class="lb" x="1059.2" y="333.9" fill="#00C08A">Iran (Islamic Republic of)</text>
<text class="lb" x="1085.1" y="354.1" fill="#00C08E">Iraq</text>
<text class="lb" x="1535.1" y="441.2" fill="#00C092">Ireland</text>
<text class="lb" x="1262.7" y="450.1" fill="#00C095">Israel</text>
<text class="lb" x="1297.3" y="418.7" fill="#00C199">Italy</text>
<text class="lb" x="1128.4" y="199" fill="#00C19D">Jamaica</text>
<text class="lb" x="1450" y="474.7" fill="#00C1A0">Japan</text>
<text class="lb" x="1165.9" y="370.3" fill="#00C1A4">Jordan</text>
<text class="lb" x="1144.3" y="391.4" fill="#00C1A7">Kazakhstan</text>
<text class="lb" x="813.5" y="372.2" fill="#00C1AB">Kenya</text>
<text class="lb" x="781.6" y="184.1" fill="#00C0AE">Kiribati</text>
<text class="lb" x="1471.4" y="371.4" fill="#00C0B1">Kuwait</text>
<text class="lb" x="890.8" y="427.1" fill="#00C0B5">Kyrgyzstan</text>
<text class="lb" x="657.6" y="278.2" fill="#00C0B8">Lao People&#x27;s Democratic Republic</text>
<text class="lb" x="1444.3" y="351.4" fill="#00C0BB">Latvia</text>
<text class="lb" x="1143.8" y="448.7" fill="#00C0BE">Lebanon</text>
<text class="lb" x="732.4" y="308.7" fill="#00BFC1">Lesotho</text>
<text class="lb" x="448.9" y="414.9" fill="#00BFC4">Liberia</text>
<text class="lb" x="1208.1" y="316" fill="#00BFC7">Libya</text>
<text class="lb" x="1574.3" y="338.2" fill="#00BECA">Lithuania</text>
<text class="lb" x="1577.6" y="461.2" fill="#00BECD">Luxembourg</text>
<text class="lb" x="529.2" y="320.3" fill="#00BDD0">Madagascar</text>
<text class="lb" x="524.9" y="350.9" fill="#00BDD3">Malawi</text>
<text class="lb" x="1169.5" y="157.9" fill="#00BCD6">Malaysia</text>
<text class="lb" x="962.4" y="277.4" fill="#00BCD8">Maldives</text>
<text class="lb" x="293" y="367.4" fill="#00BBDB">Mali</text>
<text class="lb" x="1309.5" y="458.5" fill="#00BADE">Malta</text>
<text class="lb" x="672.7" y="199.8" fill="#00BAE0">Marshall Islands</text>
<text class="lb" x="713.5" y="169.5" fill="#00B9E3">Mauritania</text>
<text class="lb" x="1186.5" y="293.9" fill="#00B8E5">Mauritius</text>
<text class="lb" x="1066.5" y="276.8" fill="#00B7E7">Mexico</text>
<text class="lb" x="774.3" y="204.9" fill="#00B6EA">Micronesia (Federated States of)</text>
<text class="lb" x="1654.6" y="480.3" fill="#00B6EC">Monaco</text>
<text class="lb" x="911.4" y="391.2" fill="#00B5EE">Mongolia</text>
<text class="lb" x="1321.6" y="379" fill="#00B4F0">Montenegro</text>
<text class="lb" x="857.3" y="297.1" fill="#00B2F2">Morocco</text>
<text class="lb" x="383.5" y="306" fill="#00B1F4">Mozambique</text>
<text class="lb" x="792.7" y="259.3" fill="#00B0F6">Myanmar</text>
<text class="lb" x="866.2" y="259.5" fill="#00AFF8">Namibia</text>
<text class="lb" x="1021.6" y="262" fill="#00AEFA">Nauru</text>
<text class="lb" x="617.6" y="414.7" fill="#00ACFB">Nepal</text>
<text class="lb" x="1496.5" y="421.4" fill="#00ABFD">Netherlands</text>
<text class="lb" x="1627" y="386" fill="#00AAFE">New Zealand</text>
<text class="lb" x="666.5" y="302.5" fill="#00A8FF">Nicaragua</text>
<text class="lb" x="737.8" y="365.5" fill="#00A7FF">Nigeria</text>
<text class="lb" x="1204.6" y="265.2" fill="#00A5FF">Niue</text>
<text class="lb" x="1191.9" y="410.6" fill="#10A4FF">North Macedonia</text>
<text class="lb" x="1249.2" y="297.6" fill="#2FA2FF">Northern Mariana Islands</text>
<text class="lb" x="1604.4" y="286.3" fill="#41A0FF">Norway</text>
<text class="lb" x="1268.1" y="341.2" fill="#4F9FFF">Oman</text>
<text class="lb" x="731.6" y="329" fill="#5A9DFF">Pakistan</text>
<text class="lb" x="1247.3" y="278.5" fill="#649BFF">Palau</text>
<text class="lb" x="974.1" y="391.2" fill="#6D9AFF">Palestine</text>
<text class="lb" x="1158.6" y="350.3" fill="#7698FF">Panama</text>
<text class="lb" x="510.3" y="207.6" fill="#7E96FF">Papua New Guinea</text>
<text class="lb" x="937" y="334.4" fill="#8594FF">Paraguay</text>
<text class="lb" x="1117.6" y="353.6" fill="#8C92FF">Peru</text>
<text class="lb" x="991.6" y="93" fill="#9290FF">Philippines</text>
<text class="lb" x="1370.3" y="333.6" fill="#988EFF">Poland</text>
<text class="lb" x="1203.2" y="452.8" fill="#9E8CFF">Portugal</text>
<text class="lb" x="1369.7" y="259.3" fill="#A48BFF">Puerto Rico</text>
<text class="lb" x="1399.5" y="421.7" fill="#A989FF">Qatar</text>
<text class="lb" x="1546.5" y="494.1" fill="#AE87FF">Republic of Korea</text>
<text class="lb" x="1246.8" y="316" fill="#B385FF">Republic of Moldova</text>
<text class="lb" x="1203.2" y="430.1" fill="#B883FF">Romania</text>
<text class="lb" x="1392.7" y="316.8" fill="#BD81FF">Russian Federation</text>
<text class="lb" x="559.2" y="410.6" fill="#C17FFF">Rwanda</text>
<text class="lb" x="1244.6" y="255.2" fill="#C57DFF">Saint Kitts and Nevis</text>
<text class="lb" x="1021.6" y="296" fill="#C97BFF">Saint Lucia</text>
<text class="lb" x="929.5" y="186.6" fill="#CD79FF">Saint Vincent and the Grenadines</text>
<text class="lb" x="912.2" y="278.2" fill="#D077FF">Samoa</text>
<text class="lb" x="1583.2" y="437.9" fill="#D476FE">San Marino</text>
<text class="lb" x="723.8" y="410.3" fill="#D774FD">Sao Tome and Principe</text>
<text class="lb" x="1654.6" y="300.2" fill="#DA72FB">Saudi Arabia</text>
<text class="lb" x="608.6" y="315.2" fill="#DD71FA">Senegal</text>
<text class="lb" x="1397.6" y="361.7" fill="#E06FF8">Serbia</text>
<text class="lb" x="1374.3" y="278.5" fill="#E36EF6">Seychelles</text>
<text class="lb" x="424.3" y="356.6" fill="#E66CF4">Sierra Leone</text>
<text class="lb" x="1384.1" y="493.6" fill="#E86BF2">Singapore</text>
<text class="lb" x="1519.2" y="354.7" fill="#EA69F0">Slovakia</text>
<text class="lb" x="1576.5" y="366.8" fill="#ED68EE">Slovenia</text>
<text class="lb" x="529.2" y="249.8" fill="#EF67EC">Solomon Islands</text>
<text class="lb" x="1123.8" y="274.9" fill="#F166E9">South Africa</text>
<text class="lb" x="295.4" y="307.9" fill="#F365E7">South Sudan</text>
<text class="lb" x="1235.4" y="514.1" fill="#F464E4">Spain</text>
<text class="lb" x="1116.2" y="293.9" fill="#F663E2">Sri Lanka</text>
<text class="lb" x="767.8" y="223.3" fill="#F763DF">Sudan</text>
<text class="lb" x="969.5" y="207.1" fill="#F962DC">Suriname</text>
<text class="lb" x="1572.1" y="403.8" fill="#FA62DA">Sweden</text>
<text class="lb" x="1658.1" y="442.5" fill="#FB61D7">Switzerland</text>
<text class="lb" x="955.4" y="314.9" fill="#FC61D4">Syrian Arab Republic</text>
<text class="lb" x="1496.8" y="241.2" fill="#FD61D1">Taiwan (Province of China)</text>
<text class="lb" x="877.8" y="448.2" fill="#FE61CE">Tajikistan</text>
<text class="lb" x="1094.6" y="255.5" fill="#FF61CB">Thailand</text>
<text class="lb" x="544.6" y="274.7" fill="#FF61C8">Timor−Leste</text>
<text class="lb" x="573.5" y="339" fill="#FF61C5">Togo</text>
<text class="lb" x="1135.7" y="217.4" fill="#FF61C2">Tokelau</text>
<text class="lb" x="972.4" y="252.8" fill="#FF62BE">Tonga</text>
<text class="lb" x="1253.2" y="197.6" fill="#FF62BB">Trinidad and Tobago</text>
<text class="lb" x="1116.5" y="372.2" fill="#FF63B8">Tunisia</text>
<text class="lb" x="939.2" y="448.2" fill="#FF63B4">Turkmenistan</text>
<text class="lb" x="924.3" y="258.7" fill="#FF64B1">Tuvalu</text>
<text class="lb" x="1215.4" y="336.3" fill="#FF65AD">Türkiye</text>
<text class="lb" x="610.8" y="392.5" fill="#FF66AA">Uganda</text>
<text class="lb" x="1266.8" y="236" fill="#FF66A6">Ukraine</text>
<text class="lb" x="1440" y="403" fill="#FF67A3">United Arab Emirates</text>
<text class="lb" x="1444.3" y="280.1" fill="#FF689F">United Kingdom</text>
<text class="lb" x="571.6" y="357.9" fill="#FF699B">United Republic of Tanzania</text>
<text class="lb" x="1440.8" y="298.7" fill="#FF6A97">United States Virgin Islands</text>
<text class="lb" x="1536.8" y="318.7" fill="#FF6B93">United States of America</text>
<text class="lb" x="1086.5" y="448.7" fill="#FF6D8F">Uruguay</text>
<text class="lb" x="1011.6" y="410.3" fill="#FE6E8B">Uzbekistan</text>
<text class="lb" x="674.3" y="149.5" fill="#FD6F87">Vanuatu</text>
<text class="lb" x="803.2" y="353.6" fill="#FD7083">Venezuela (Bolivarian Republic of)</text>
<text class="lb" x="940.5" y="225.5" fill="#FC717F">Viet Nam</text>
<text class="lb" x="617.8" y="293.3" fill="#FB727A">Yemen</text>
<text class="lb" x="767.8" y="391.2" fill="#FA7476">Zambia</text>
<text class="lb" x="663.8" y="321.7" fill="#F97572">Zimbabwe</text></g>
<path d="M147.1 57.3 V525.9 H1776" fill="none" stroke="#000" stroke-width="1.4" stroke-linejoin="miter"/>
<line x1="221.3" y1="525.9" x2="221.3" y2="529.6" stroke="#333" stroke-width="1.4"/>
<text class="ax" text-anchor="middle" transform="translate(221.3 549.8) scale(1 1.05)">0.2</text>
<line x1="406.4" y1="525.9" x2="406.4" y2="529.6" stroke="#333" stroke-width="1.4"/>
<text class="ax" text-anchor="middle" transform="translate(406.4 549.8) scale(1 1.05)">0.3</text>
<line x1="591.5" y1="525.9" x2="591.5" y2="529.6" stroke="#333" stroke-width="1.4"/>
<text class="ax" text-anchor="middle" transform="translate(591.5 549.8) scale(1 1.05)">0.4</text>
<line x1="776.6" y1="525.9" x2="776.6" y2="529.6" stroke="#333" stroke-width="1.4"/>
<text class="ax" text-anchor="middle" transform="translate(776.6 549.8) scale(1 1.05)">0.5</text>
<line x1="961.7" y1="525.9" x2="961.7" y2="529.6" stroke="#333" stroke-width="1.4"/>
<text class="ax" text-anchor="middle" transform="translate(961.7 549.8) scale(1 1.05)">0.6</text>
<line x1="1146.8" y1="525.9" x2="1146.8" y2="529.6" stroke="#333" stroke-width="1.4"/>
<text class="ax" text-anchor="middle" transform="translate(1146.8 549.8) scale(1 1.05)">0.7</text>
<line x1="1331.9" y1="525.9" x2="1331.9" y2="529.6" stroke="#333" stroke-width="1.4"/>
<text class="ax" text-anchor="middle" transform="translate(1331.9 549.8) scale(1 1.05)">0.8</text>
<line x1="1517" y1="525.9" x2="1517" y2="529.6" stroke="#333" stroke-width="1.4"/>
<text class="ax" text-anchor="middle" transform="translate(1517 549.8) scale(1 1.05)">0.9</text>
<line x1="1702.1" y1="525.9" x2="1702.1" y2="529.6" stroke="#333" stroke-width="1.4"/>
<text class="ax" text-anchor="middle" transform="translate(1702.1 549.8) scale(1 1.05)">1.0</text>
<line x1="143.4" y1="59.8" x2="147.1" y2="59.8" stroke="#333" stroke-width="1.4"/>
<text class="ax" text-anchor="end" transform="translate(139.8 68.9) scale(1 1.05)">2000</text>
<line x1="143.4" y1="180.9" x2="147.1" y2="180.9" stroke="#333" stroke-width="1.4"/>
<text class="ax" text-anchor="end" transform="translate(139.8 190) scale(1 1.05)">1500</text>
<line x1="143.4" y1="301.9" x2="147.1" y2="301.9" stroke="#333" stroke-width="1.4"/>
<text class="ax" text-anchor="end" transform="translate(139.8 311) scale(1 1.05)">1000</text>
<line x1="143.4" y1="423" x2="147.1" y2="423" stroke="#333" stroke-width="1.4"/>
<text class="ax" text-anchor="end" transform="translate(139.8 432.1) scale(1 1.05)">500</text>
<text class="at" transform="translate(958 576) scale(1 1.04)">SDI</text>
<text class="tt" x="961.5" y="43.9">Incidence</text>
<text class="tg" transform="translate(6.2 22) scale(1 1.04)">A</text>
<text class="at" transform="translate(41.7 291.6) rotate(-90)">Incidence Age−standardised rate</text>
<text class="at" transform="translate(68.9 289) rotate(-90)">per 100,000 population</text>
<text class="an" transform="translate(313.6 93) scale(1 1.04)">R = −0.407</text>
<text class="an" transform="translate(313.6 121.5) scale(1 1.04)">P &lt; 0.001</text>
</g>
<g id="panelB">
<g><circle cx="474.9" cy="925.1" r="2.2" fill="#F8766D"/><circle cx="1158.9" cy="979.7" r="2.2" fill="#F77768"/><circle cx="1071.6" cy="979.2" r="2.2" fill="#F67963"/><circle cx="1190.3" cy="731.9" r="2.2" fill="#F47A5E"/><circle cx="1460" cy="1015.9" r="2.2" fill="#F37B59"/><circle cx="690.5" cy="970.8" r="2.2" fill="#F27D53"/><circle cx="1238.9" cy="824.6" r="2.2" fill="#F07E4E"/><circle cx="1188.9" cy="1020.8" r="2.2" fill="#EF7F48"/><circle cx="1150" cy="999.2" r="2.2" fill="#ED8141"/><circle cx="1413.5" cy="1039.7" r="2.2" fill="#EC823A"/><circle cx="1430.8" cy="1004.6" r="2.2" fill="#EA8332"/><circle cx="1136.8" cy="996.5" r="2.2" fill="#E98429"/><circle cx="1340.8" cy="778.4" r="2.2" fill="#E7861D"/><circle cx="1244.6" cy="959.5" r="2.2" fill="#E5870A"/><circle cx="762.2" cy="993" r="2.2" fill="#E48800"/><circle cx="1233" cy="801.1" r="2.2" fill="#E28900"/><circle cx="1302.7" cy="970.8" r="2.2" fill="#E08B00"/><circle cx="1430.8" cy="1001.6" r="2.2" fill="#DE8C00"/><circle cx="980" cy="878.6" r="2.2" fill="#DC8D00"/><circle cx="542.2" cy="976.5" r="2.2" fill="#DA8E00"/><circle cx="1370.8" cy="894.3" r="2.2" fill="#D88F00"/><circle cx="726.5" cy="1012.7" r="2.2" fill="#D69100"/><circle cx="959.5" cy="948.6" r="2.2" fill="#D49200"/><circle cx="1188.9" cy="985.4" r="2.2" fill="#D29300"/><circle cx="1040.3" cy="924.9" r="2.2" fill="#D09400"/><circle cx="1059.5" cy="940.5" r="2.2" fill="#CD9500"/><circle cx="1350.3" cy="1075.7" r="2.2" fill="#CB9600"/><circle cx="1272.7" cy="990" r="2.2" fill="#C99800"/><circle cx="378.6" cy="970.5" r="2.2" fill="#C69900"/><circle cx="386.5" cy="984.9" r="2.2" fill="#C49A00"/><circle cx="838.1" cy="998.1" r="2.2" fill="#C19B00"/><circle cx="727.6" cy="770.3" r="2.2" fill="#BE9C00"/><circle cx="738.6" cy="985.7" r="2.2" fill="#BC9D00"/><circle cx="1466.8" cy="948.9" r="2.2" fill="#B99E00"/><circle cx="423" cy="958.9" r="2.2" fill="#B69F00"/><circle cx="295.7" cy="970.5" r="2.2" fill="#B3A000"/><circle cx="1278.9" cy="1018.9" r="2.2" fill="#B0A100"/><circle cx="1186.5" cy="737.8" r="2.2" fill="#ADA200"/><circle cx="1063.8" cy="942.7" r="2.2" fill="#AAA300"/><circle cx="731.6" cy="980.3" r="2.2" fill="#A7A400"/><circle cx="930.3" cy="984.9" r="2.2" fill="#A4A500"/><circle cx="1292.7" cy="808.1" r="2.2" fill="#A1A600"/><circle cx="1147" cy="945.9" r="2.2" fill="#9DA700"/><circle cx="1328.4" cy="997" r="2.2" fill="#9AA800"/><circle cx="1088.6" cy="857.6" r="2.2" fill="#96A900"/><circle cx="1397.3" cy="1004.3" r="2.2" fill="#93AA00"/><circle cx="1384.3" cy="990" r="2.2" fill="#8FAA00"/><circle cx="639.2" cy="983" r="2.2" fill="#8BAB00"/><circle cx="905.4" cy="708.1" r="2.2" fill="#87AC00"/><circle cx="560" cy="976.8" r="2.2" fill="#82AD00"/><circle cx="1509.7" cy="1073.2" r="2.2" fill="#7EAE00"/><circle cx="753.8" cy="876.5" r="2.2" fill="#79AF00"/><circle cx="1233.5" cy="844.1" r="2.2" fill="#74AF00"/><circle cx="997" cy="848.1" r="2.2" fill="#6FB000"/><circle cx="1074.3" cy="952.7" r="2.2" fill="#6AB100"/><circle cx="973.8" cy="991.9" r="2.2" fill="#64B200"/><circle cx="894.1" cy="929.7" r="2.2" fill="#5EB200"/><circle cx="1068.1" cy="975.7" r="2.2" fill="#58B300"/><circle cx="598.1" cy="973.5" r="2.2" fill="#51B400"/><circle cx="1414.6" cy="979.5" r="2.2" fill="#49B500"/><circle cx="934.3" cy="901.9" r="2.2" fill="#40B500"/><circle cx="514.9" cy="958.1" r="2.2" fill="#35B600"/><circle cx="1100.3" cy="777.3" r="2.2" fill="#27B700"/><circle cx="1442.2" cy="1011.1" r="2.2" fill="#11B700"/><circle cx="1402.7" cy="999.7" r="2.2" fill="#00B816"/><circle cx="1025.7" cy="953.2" r="2.2" fill="#00B824"/><circle cx="609.2" cy="923.8" r="2.2" fill="#00B92E"/><circle cx="1206.8" cy="999.7" r="2.2" fill="#00B936"/><circle cx="1522.4" cy="1034.1" r="2.2" fill="#00BA3D"/><circle cx="896.5" cy="940.8" r="2.2" fill="#00BB44"/><circle cx="1316.5" cy="1010.5" r="2.2" fill="#00BB4A"/><circle cx="1380" cy="953.2" r="2.2" fill="#00BC4F"/><circle cx="1088.9" cy="818.6" r="2.2" fill="#00BC55"/><circle cx="1338.9" cy="827.8" r="2.2" fill="#00BC5A"/><circle cx="850" cy="922.7" r="2.2" fill="#00BD5F"/><circle cx="473.5" cy="944.9" r="2.2" fill="#00BD64"/><circle cx="504.3" cy="858.1" r="2.2" fill="#00BE69"/><circle cx="1055.4" cy="747" r="2.2" fill="#00BE6D"/><circle cx="680.5" cy="730.8" r="2.2" fill="#00BE71"/><circle cx="800" cy="919.5" r="2.2" fill="#00BF76"/><circle cx="1314.3" cy="980.5" r="2.2" fill="#00BF7A"/><circle cx="1473" cy="1011.4" r="2.2" fill="#00BF7E"/><circle cx="915.9" cy="997.3" r="2.2" fill="#00C082"/><circle cx="1066.5" cy="846.2" r="2.2" fill="#00C086"/><circle cx="1141.1" cy="977.6" r="2.2" fill="#00C08A"/><circle cx="1077.3" cy="960.8" r="2.2" fill="#00C08E"/><circle cx="1467.8" cy="1005.1" r="2.2" fill="#00C092"/><circle cx="1348.1" cy="990.8" r="2.2" fill="#00C095"/><circle cx="1342.2" cy="961.9" r="2.2" fill="#00C199"/><circle cx="1115.4" cy="822.2" r="2.2" fill="#00C19D"/><circle cx="1463.2" cy="1091.6" r="2.2" fill="#00C1A0"/><circle cx="1193.5" cy="984.6" r="2.2" fill="#00C1A4"/><circle cx="1193" cy="973" r="2.2" fill="#00C1A7"/><circle cx="820.3" cy="991.4" r="2.2" fill="#00C1AB"/><circle cx="826.5" cy="677.3" r="2.2" fill="#00C0AE"/><circle cx="1417.6" cy="997.3" r="2.2" fill="#00C0B1"/><circle cx="968.6" cy="997.8" r="2.2" fill="#00C0B5"/><circle cx="755.9" cy="823" r="2.2" fill="#00C0B8"/><circle cx="1388.4" cy="971.9" r="2.2" fill="#00C0BB"/><circle cx="1229.2" cy="994.3" r="2.2" fill="#00C0BE"/><circle cx="795.4" cy="903.5" r="2.2" fill="#00BFC1"/><circle cx="503" cy="988.9" r="2.2" fill="#00BFC4"/><circle cx="1194.3" cy="943.8" r="2.2" fill="#00BFC7"/><circle cx="1435.9" cy="977.6" r="2.2" fill="#00BECA"/><circle cx="1487.8" cy="1005.9" r="2.2" fill="#00BECD"/><circle cx="591.9" cy="968.9" r="2.2" fill="#00BDD0"/><circle cx="562.7" cy="970.8" r="2.2" fill="#00BDD3"/><circle cx="1224.9" cy="715.1" r="2.2" fill="#00BCD6"/><circle cx="1055.7" cy="845.1" r="2.2" fill="#00BCD8"/><circle cx="347.8" cy="984.9" r="2.2" fill="#00BBDB"/><circle cx="1334.3" cy="1011.4" r="2.2" fill="#00BADE"/><circle cx="913.2" cy="745.1" r="2.2" fill="#00BAE0"/><circle cx="774.3" cy="834.6" r="2.2" fill="#00B9E3"/><circle cx="1180.3" cy="835.1" r="2.2" fill="#00B8E5"/><circle cx="1081.6" cy="890" r="2.2" fill="#00B7E7"/><circle cx="938.1" cy="738.9" r="2.2" fill="#00B6EA"/><circle cx="1531.9" cy="1013" r="2.2" fill="#00B6EC"/><circle cx="994.1" cy="977.6" r="2.2" fill="#00B5EE"/><circle cx="1323.5" cy="993.2" r="2.2" fill="#00B4F0"/><circle cx="892.4" cy="938.1" r="2.2" fill="#00B2F2"/><circle cx="454.9" cy="934.3" r="2.2" fill="#00B1F4"/><circle cx="838.9" cy="799.7" r="2.2" fill="#00B0F6"/><circle cx="993.8" cy="923.8" r="2.2" fill="#00AFF8"/><circle cx="1007.8" cy="780.8" r="2.2" fill="#00AEFA"/><circle cx="652.7" cy="1007.8" r="2.2" fill="#00ACFB"/><circle cx="1495.1" cy="978.9" r="2.2" fill="#00ABFD"/><circle cx="1423" cy="1030" r="2.2" fill="#00AAFE"/><circle cx="820.5" cy="928.6" r="2.2" fill="#00A8FF"/><circle cx="782.7" cy="985.9" r="2.2" fill="#00A7FF"/><circle cx="1194.9" cy="775.7" r="2.2" fill="#00A5FF"/><circle cx="1240" cy="994.9" r="2.2" fill="#10A4FF"/><circle cx="1278.9" cy="833.2" r="2.2" fill="#2FA2FF"/><circle cx="1546.5" cy="907.6" r="2.2" fill="#41A0FF"/><circle cx="1282.2" cy="1002.2" r="2.2" fill="#4F9FFF"/><circle cx="783.5" cy="972.2" r="2.2" fill="#5A9DFF"/><circle cx="1246.5" cy="811.9" r="2.2" fill="#649BFF"/><circle cx="1018.6" cy="985.7" r="2.2" fill="#6D9AFF"/><circle cx="1162.7" cy="950.5" r="2.2" fill="#7698FF"/><circle cx="624.1" cy="753.8" r="2.2" fill="#7E96FF"/><circle cx="1027.6" cy="935.9" r="2.2" fill="#8594FF"/><circle cx="1075.9" cy="964.1" r="2.2" fill="#8C92FF"/><circle cx="1056.2" cy="694.3" r="2.2" fill="#9290FF"/><circle cx="1353.8" cy="975.4" r="2.2" fill="#988EFF"/><circle cx="1227.6" cy="1000.8" r="2.2" fill="#9E8CFF"/><circle cx="1378.6" cy="854.3" r="2.2" fill="#A48BFF"/><circle cx="1418.1" cy="1019.7" r="2.2" fill="#A989FF"/><circle cx="1491.9" cy="1100.8" r="2.2" fill="#AE87FF"/><circle cx="1205.9" cy="960.3" r="2.2" fill="#B385FF"/><circle cx="1273" cy="992.7" r="2.2" fill="#B883FF"/><circle cx="1347.3" cy="963" r="2.2" fill="#BD81FF"/><circle cx="657" cy="990.3" r="2.2" fill="#C17FFF"/><circle cx="1248.1" cy="850.5" r="2.2" fill="#C57DFF"/><circle cx="1095.7" cy="872.7" r="2.2" fill="#C97BFF"/><circle cx="1030" cy="784.6" r="2.2" fill="#CD79FF"/><circle cx="948.9" cy="805.7" r="2.2" fill="#D077FF"/><circle cx="1492.4" cy="1013.5" r="2.2" fill="#D476FE"/><circle cx="786.5" cy="978.6" r="2.2" fill="#D774FD"/><circle cx="1359.5" cy="961.1" r="2.2" fill="#DA72FB"/><circle cx="605.9" cy="936.5" r="2.2" fill="#DD71FA"/><circle cx="1317.6" cy="989.5" r="2.2" fill="#E06FF8"/><circle cx="1201.9" cy="841.4" r="2.2" fill="#E36EF6"/><circle cx="514.6" cy="973.8" r="2.2" fill="#E66CF4"/><circle cx="1435.1" cy="1100.8" r="2.2" fill="#E86BF2"/><circle cx="1351.1" cy="993.8" r="2.2" fill="#EA69F0"/><circle cx="1410" cy="998.6" r="2.2" fill="#ED68EE"/><circle cx="645.7" cy="791.4" r="2.2" fill="#EF67EC"/><circle cx="1108.6" cy="916.2" r="2.2" fill="#F166E9"/><circle cx="365.9" cy="935.1" r="2.2" fill="#F365E7"/><circle cx="1274.9" cy="1087.8" r="2.2" fill="#F464E4"/><circle cx="1149.2" cy="833.5" r="2.2" fill="#F663E2"/><circle cx="853.8" cy="877.6" r="2.2" fill="#F763DF"/><circle cx="1023.8" cy="851.6" r="2.2" fill="#F962DC"/><circle cx="1493.2" cy="1014.3" r="2.2" fill="#FA62DA"/><circle cx="1577.8" cy="1014.3" r="2.2" fill="#FB61D7"/><circle cx="1003.8" cy="942.2" r="2.2" fill="#FC61D4"/><circle cx="1469.7" cy="727.6" r="2.2" fill="#FD61D1"/><circle cx="853" cy="984.9" r="2.2" fill="#FE61CE"/><circle cx="1114.1" cy="794.9" r="2.2" fill="#FF61CB"/><circle cx="673.8" cy="820.8" r="2.2" fill="#FF61C8"/><circle cx="607" cy="969.2" r="2.2" fill="#FF61C5"/><circle cx="1121.1" cy="779.7" r="2.2" fill="#FF61C2"/><circle cx="1010" cy="778.4" r="2.2" fill="#FF62BE"/><circle cx="1273.8" cy="767" r="2.2" fill="#FF62BB"/><circle cx="1113.5" cy="975.1" r="2.2" fill="#FF63B8"/><circle cx="1113.5" cy="1004.3" r="2.2" fill="#FF63B4"/><circle cx="917.8" cy="765.1" r="2.2" fill="#FF64B1"/><circle cx="1170" cy="964.1" r="2.2" fill="#FF65AD"/><circle cx="634.3" cy="984.3" r="2.2" fill="#FF66AA"/><circle cx="1258.9" cy="869.7" r="2.2" fill="#FF66A6"/><circle cx="1423" cy="1021.6" r="2.2" fill="#FF67A3"/><circle cx="1440.5" cy="853.8" r="2.2" fill="#FF689F"/><circle cx="677.3" cy="971.6" r="2.2" fill="#FF699B"/><circle cx="1371.9" cy="900.5" r="2.2" fill="#FF6A97"/><circle cx="1447" cy="934.9" r="2.2" fill="#FF6B93"/><circle cx="1182.4" cy="1004.9" r="2.2" fill="#FF6D8F"/><circle cx="1077.3" cy="983.5" r="2.2" fill="#FE6E8B"/><circle cx="726.5" cy="674.6" r="2.2" fill="#FD6F87"/><circle cx="955.1" cy="944.9" r="2.2" fill="#FD7083"/><circle cx="1013" cy="787.8" r="2.2" fill="#FC717F"/><circle cx="684.6" cy="914.3" r="2.2" fill="#FB727A"/><circle cx="787.3" cy="983" r="2.2" fill="#FA7476"/><circle cx="727.8" cy="910.8" r="2.2" fill="#F97572"/></g>
<path d="M296 913.8 L299.1 914 L302.9 914.2 L307.3 914.5 L312.3 914.8 L317.7 915.1 L323.5 915.5 L329.5 915.8 L335.8 916.1 L342.2 916.4 L348.6 916.7 L354.9 916.9 L361.1 917 L367.3 917.1 L373.7 917.1 L380.3 917.1 L387 917.1 L393.8 917 L400.7 916.9 L407.6 916.8 L414.6 916.6 L421.6 916.4 L428.5 916.2 L435.4 916 L442.2 915.7 L449 915.4 L455.7 915.1 L462.5 914.7 L469.2 914.4 L476 913.9 L482.7 913.5 L489.4 913 L496.2 912.6 L502.9 912 L509.7 911.5 L516.4 910.9 L523.2 910.3 L530 909.6 L536.7 908.9 L543.5 908.2 L550.2 907.4 L557 906.6 L563.7 905.7 L570.5 904.9 L577.3 904.1 L584 903.2 L590.8 902.4 L597.5 901.6 L604.3 900.8 L611.2 900 L618.2 899.3 L625.4 898.5 L632.7 897.7 L639.9 897 L647.1 896.2 L654.2 895.5 L661.1 894.8 L667.7 894.1 L674 893.4 L679.9 892.8 L685.4 892.2 L690.3 891.7 L694.5 891.2 L698.3 890.8 L701.6 890.5 L704.7 890.2 L707.7 889.9 L710.7 889.6 L713.8 889.2 L717.1 888.8 L720.9 888.4 L725.1 887.8 L730 887.2 L735.5 886.5 L741.4 885.6 L747.7 884.7 L754.3 883.7 L761.2 882.6 L768.3 881.6 L775.5 880.5 L782.7 879.4 L790 878.4 L797.2 877.4 L804.2 876.5 L811.1 875.7 L817.9 875 L824.6 874.2 L831.4 873.6 L838.1 872.9 L844.9 872.3 L851.7 871.7 L858.4 871.2 L865.2 870.6 L871.9 870.2 L878.7 869.7 L885.4 869.3 L892.2 868.9 L899 868.5 L905.7 868.2 L912.5 867.9 L919.2 867.7 L926 867.5 L932.7 867.3 L939.4 867.1 L946.2 867 L952.9 866.9 L959.7 866.9 L966.4 866.8 L973.2 866.8 L980 866.8 L987 866.9 L994.1 867 L1001.2 867.1 L1008.4 867.2 L1015.4 867.4 L1022.4 867.6 L1029.3 867.8 L1035.9 868 L1042.3 868.3 L1048.5 868.6 L1054.3 868.9 L1059.7 869.2 L1064.7 869.5 L1069.3 869.9 L1073.7 870.2 L1077.9 870.6 L1081.9 871 L1086 871.4 L1090.1 871.9 L1094.3 872.4 L1098.7 873 L1103.4 873.6 L1108.4 874.3 L1113.7 875.1 L1119.2 875.9 L1124.8 876.8 L1130.6 877.8 L1136.5 878.8 L1142.5 879.8 L1148.6 880.9 L1154.8 882 L1161 883.1 L1167.3 884.3 L1173.6 885.4 L1180 886.6 L1186.4 887.8 L1193 888.9 L1199.6 890.1 L1206.3 891.2 L1213.1 892.4 L1220 893.7 L1226.8 894.9 L1233.7 896.3 L1240.6 897.7 L1247.5 899.2 L1254.3 900.7 L1261.1 902.4 L1267.9 904.2 L1274.6 906.1 L1281.4 908.1 L1288.1 910.1 L1294.9 912.3 L1301.7 914.5 L1308.4 916.7 L1315.2 919 L1321.9 921.3 L1328.7 923.5 L1335.4 925.8 L1342.2 928.1 L1349 930.4 L1356 932.9 L1363.1 935.4 L1370.2 938 L1377.3 940.7 L1384.4 943.3 L1391.4 945.8 L1398.2 948.3 L1404.8 950.6 L1411.3 952.8 L1417.4 954.8 L1423.2 956.5 L1428.7 958 L1433.8 959.3 L1438.6 960.5 L1443.2 961.5 L1447.6 962.3 L1451.9 963.1 L1456.1 963.8 L1460.3 964.4 L1464.4 965 L1468.6 965.6 L1472.9 966.2 L1477.3 966.8 L1481.8 967.4 L1486.4 968 L1491 968.6 L1495.6 969.1 L1500.2 969.6 L1504.8 970 L1509.4 970.5 L1513.9 970.8 L1518.4 971.2 L1522.8 971.6 L1527.2 971.9 L1531.4 972.2 L1535.7 972.5 L1540.1 972.7 L1544.7 972.9 L1549.2 973.1 L1553.7 973.3 L1558.1 973.4 L1562.3 973.6 L1566.2 973.7 L1569.8 973.8 L1573 973.8 L1575.8 973.9 L1578 974 L1578 1094.3 L1575.8 1092.7 L1573 1090.8 L1569.8 1088.5 L1566.2 1086 L1562.3 1083.2 L1558.1 1080.3 L1553.7 1077.2 L1549.2 1074.1 L1544.7 1070.9 L1540.1 1067.8 L1535.7 1064.8 L1531.4 1061.9 L1527.2 1059 L1522.8 1056.1 L1518.4 1053.1 L1513.9 1050.1 L1509.4 1047.1 L1504.8 1044 L1500.2 1041 L1495.6 1038 L1491 1035.1 L1486.4 1032.2 L1481.8 1029.5 L1477.3 1026.8 L1472.9 1024.3 L1468.6 1021.8 L1464.4 1019.5 L1460.3 1017.2 L1456.1 1015 L1451.9 1012.8 L1447.6 1010.7 L1443.2 1008.5 L1438.6 1006.4 L1433.8 1004.2 L1428.7 1002 L1423.2 999.7 L1417.4 997.4 L1411.3 995 L1404.8 992.6 L1398.2 990.2 L1391.4 987.8 L1384.4 985.4 L1377.3 983 L1370.2 980.6 L1363.1 978.2 L1356 975.9 L1349 973.6 L1342.2 971.4 L1335.4 969.2 L1328.7 967 L1321.9 964.9 L1315.2 962.8 L1308.4 960.7 L1301.7 958.6 L1294.9 956.6 L1288.1 954.6 L1281.4 952.6 L1274.6 950.7 L1267.9 948.8 L1261.1 947 L1254.3 945.2 L1247.5 943.5 L1240.6 941.7 L1233.7 940.1 L1226.8 938.4 L1220 936.8 L1213.1 935.3 L1206.3 933.8 L1199.6 932.3 L1193 930.9 L1186.4 929.5 L1180 928.2 L1173.6 926.9 L1167.3 925.7 L1161 924.5 L1154.8 923.4 L1148.6 922.3 L1142.5 921.3 L1136.5 920.3 L1130.6 919.4 L1124.8 918.5 L1119.2 917.7 L1113.7 916.9 L1108.4 916.2 L1103.4 915.5 L1098.7 915 L1094.3 914.5 L1090.1 914 L1086 913.6 L1081.9 913.3 L1077.9 913 L1073.7 912.7 L1069.3 912.4 L1064.7 912.1 L1059.7 911.9 L1054.3 911.6 L1048.5 911.3 L1042.3 911.1 L1035.9 910.8 L1029.3 910.6 L1022.4 910.4 L1015.4 910.2 L1008.4 910 L1001.2 909.9 L994.1 909.7 L987 909.6 L980 909.5 L973.2 909.5 L966.4 909.5 L959.7 909.5 L952.9 909.5 L946.2 909.5 L939.4 909.6 L932.7 909.7 L926 909.8 L919.2 909.9 L912.5 910.1 L905.7 910.3 L899 910.5 L892.2 910.8 L885.4 911.1 L878.7 911.4 L871.9 911.7 L865.2 912 L858.4 912.3 L851.7 912.7 L844.9 913.1 L838.1 913.6 L831.4 914.2 L824.6 914.8 L817.9 915.4 L811.1 916.2 L804.2 917.1 L797.2 918.1 L790 919.2 L782.7 920.4 L775.5 921.6 L768.3 922.9 L761.2 924.2 L754.3 925.5 L747.7 926.8 L741.4 927.9 L735.5 929 L730 930 L725.1 930.9 L720.9 931.6 L717.1 932.3 L713.8 933 L710.7 933.6 L707.7 934.2 L704.7 934.7 L701.6 935.3 L698.3 935.9 L694.5 936.6 L690.3 937.3 L685.4 938.1 L679.9 938.9 L674 939.8 L667.7 940.7 L661.1 941.6 L654.2 942.5 L647.1 943.5 L639.9 944.5 L632.7 945.5 L625.4 946.6 L618.2 947.7 L611.2 948.8 L604.3 950 L597.5 951.2 L590.8 952.5 L584 953.7 L577.3 955 L570.5 956.3 L563.7 957.7 L557 959.1 L550.2 960.6 L543.5 962.1 L536.7 963.7 L530 965.3 L523.2 967 L516.4 968.7 L509.7 970.5 L502.9 972.3 L496.2 974.2 L489.4 976.1 L482.7 978.1 L476 980.1 L469.2 982.2 L462.5 984.4 L455.7 986.6 L449 989 L442.2 991.4 L435.4 994 L428.5 996.6 L421.6 999.4 L414.6 1002.3 L407.6 1005.3 L400.7 1008.3 L393.8 1011.3 L387 1014.4 L380.3 1017.5 L373.7 1020.5 L367.3 1023.5 L361.1 1026.5 L354.9 1029.5 L348.6 1032.8 L342.2 1036.1 L335.8 1039.5 L329.5 1042.9 L323.5 1046.2 L317.7 1049.5 L312.3 1052.5 L307.3 1055.3 L302.9 1057.8 L299.1 1059.9 L296 1061.6 Z" fill="#999999" fill-opacity="0.35"/>
<path d="M296 987.8 L299.1 987 L302.9 986 L307.3 984.8 L312.3 983.5 L317.7 982.1 L323.5 980.6 L329.5 979 L335.8 977.4 L342.2 975.8 L348.6 974.2 L354.9 972.6 L361.1 971.1 L367.3 969.6 L373.7 968.1 L380.3 966.5 L387 965 L393.8 963.4 L400.7 961.8 L407.6 960.2 L414.6 958.7 L421.6 957.1 L428.5 955.6 L435.4 954.1 L442.2 952.7 L449 951.3 L455.7 949.9 L462.5 948.6 L469.2 947.2 L476 945.9 L482.7 944.6 L489.4 943.4 L496.2 942.1 L502.9 940.9 L509.7 939.7 L516.4 938.5 L523.2 937.3 L530 936.1 L536.7 935 L543.5 933.9 L550.2 932.8 L557 931.7 L563.7 930.7 L570.5 929.6 L577.3 928.6 L584 927.6 L590.8 926.6 L597.5 925.6 L604.3 924.6 L611.2 923.6 L618.2 922.6 L625.4 921.6 L632.7 920.7 L639.9 919.7 L647.1 918.8 L654.2 917.8 L661.1 916.9 L667.7 916.1 L674 915.3 L679.9 914.5 L685.4 913.8 L690.3 913.2 L694.5 912.6 L698.3 912.2 L701.6 911.8 L704.7 911.4 L707.7 911.1 L710.7 910.7 L713.8 910.4 L717.1 909.9 L720.9 909.5 L725.1 908.9 L730 908.2 L735.5 907.4 L741.4 906.5 L747.7 905.4 L754.3 904.4 L761.2 903.2 L768.3 902.1 L775.5 900.9 L782.7 899.8 L790 898.7 L797.2 897.7 L804.2 896.7 L811.1 895.9 L817.9 895.2 L824.6 894.5 L831.4 893.9 L838.1 893.3 L844.9 892.8 L851.7 892.3 L858.4 891.8 L865.2 891.4 L871.9 891 L878.7 890.7 L885.4 890.3 L892.2 890 L899 889.7 L905.7 889.4 L912.5 889.2 L919.2 889 L926 888.8 L932.7 888.7 L939.4 888.6 L946.2 888.5 L952.9 888.4 L959.7 888.4 L966.4 888.4 L973.2 888.4 L980 888.4 L987 888.5 L994.1 888.6 L1001.2 888.7 L1008.4 888.9 L1015.4 889 L1022.4 889.2 L1029.3 889.5 L1035.9 889.7 L1042.3 889.9 L1048.5 890.2 L1054.3 890.5 L1059.7 890.8 L1064.7 891.1 L1069.3 891.4 L1073.7 891.7 L1077.9 892 L1081.9 892.3 L1086 892.7 L1090.1 893.1 L1094.3 893.6 L1098.7 894.1 L1103.4 894.7 L1108.4 895.4 L1113.7 896.1 L1119.2 896.9 L1124.8 897.7 L1130.6 898.6 L1136.5 899.5 L1142.5 900.5 L1148.6 901.5 L1154.8 902.6 L1161 903.7 L1167.3 904.9 L1173.6 906.1 L1180 907.3 L1186.4 908.6 L1193 909.9 L1199.6 911.2 L1206.3 912.6 L1213.1 914 L1220 915.5 L1226.8 917 L1233.7 918.6 L1240.6 920.2 L1247.5 921.9 L1254.3 923.6 L1261.1 925.4 L1267.9 927.3 L1274.6 929.2 L1281.4 931.3 L1288.1 933.4 L1294.9 935.5 L1301.7 937.7 L1308.4 939.9 L1315.2 942.2 L1321.9 944.4 L1328.7 946.7 L1335.4 948.9 L1342.2 951.1 L1349 953.3 L1356 955.6 L1363.1 957.9 L1370.2 960.3 L1377.3 962.7 L1384.4 965 L1391.4 967.4 L1398.2 969.7 L1404.8 971.9 L1411.3 974.1 L1417.4 976.1 L1423.2 978.1 L1428.7 980 L1433.8 981.7 L1438.6 983.4 L1443.2 984.9 L1447.6 986.5 L1451.9 988 L1456.1 989.4 L1460.3 990.9 L1464.4 992.4 L1468.6 993.9 L1472.9 995.4 L1477.3 997 L1481.8 998.7 L1486.4 1000.3 L1491 1002.1 L1495.6 1003.8 L1500.2 1005.5 L1504.8 1007.3 L1509.4 1009 L1513.9 1010.7 L1518.4 1012.4 L1522.8 1014.1 L1527.2 1015.7 L1531.4 1017.3 L1535.7 1018.9 L1540.1 1020.5 L1544.7 1022.1 L1549.2 1023.8 L1553.7 1025.4 L1558.1 1026.9 L1562.3 1028.4 L1566.2 1029.8 L1569.8 1031.1 L1573 1032.2 L1575.8 1033.2 L1578 1034" fill="none" stroke="#6C7B8B" stroke-width="3.0" stroke-linejoin="round"/>
<g><line class="sg" x1="487.8" y1="917.3" x2="474.9" y2="925.1" stroke="#F8766D"/><line class="sg" x1="1037.9" y1="1020.8" x2="1158.9" y2="979.7" stroke="#F77768"/><line class="sg" x1="982.2" y1="970.9" x2="1071.6" y2="979.2" stroke="#F67963"/><line class="sg" x1="1504.5" y1="1037.3" x2="1460" y2="1015.9" stroke="#F37B59"/><line class="sg" x1="600.9" y1="944.9" x2="690.5" y2="970.8" stroke="#F27D53"/><line class="sg" x1="1297.4" y1="818.5" x2="1238.9" y2="824.6" stroke="#F07E4E"/><line class="sg" x1="1164.3" y1="1044.6" x2="1188.9" y2="1020.8" stroke="#EF7F48"/><line class="sg" x1="1389.3" y1="1073.3" x2="1413.5" y2="1039.7" stroke="#EC823A"/><line class="sg" x1="1099.3" y1="1020.8" x2="1136.8" y2="996.5" stroke="#E98429"/><line class="sg" x1="1265.9" y1="948.1" x2="1244.6" y2="959.5" stroke="#E5870A"/><line class="sg" x1="1339.1" y1="906.5" x2="1302.7" y2="970.8" stroke="#E08B00"/><line class="sg" x1="1492" y1="991.4" x2="1430.8" y2="1001.6" stroke="#DE8C00"/><line class="sg" x1="499.1" y1="982.3" x2="542.2" y2="976.5" stroke="#DA8E00"/><line class="sg" x1="1351.3" y1="885.4" x2="1370.8" y2="894.3" stroke="#D88F00"/><line class="sg" x1="1011.3" y1="870.2" x2="1040.3" y2="924.9" stroke="#D09400"/><line class="sg" x1="1072" y1="920.2" x2="1059.5" y2="940.5" stroke="#CD9500"/><line class="sg" x1="1329.3" y1="1092.2" x2="1350.3" y2="1075.7" stroke="#CB9600"/><line class="sg" x1="1277.3" y1="968.1" x2="1272.7" y2="990" stroke="#C99800"/><line class="sg" x1="352.3" y1="961.1" x2="378.6" y2="970.5" stroke="#C69900"/><line class="sg" x1="670.6" y1="1013.5" x2="738.6" y2="985.7" stroke="#BC9D00"/><line class="sg" x1="291.1" y1="944.6" x2="423" y2="958.9" stroke="#B69F00"/><line class="sg" x1="1218.3" y1="1044.1" x2="1278.9" y2="1018.9" stroke="#B0A100"/><line class="sg" x1="854.8" y1="973.6" x2="930.3" y2="984.9" stroke="#A4A500"/><line class="sg" x1="1265.5" y1="1044.1" x2="1328.4" y2="997" stroke="#9AA800"/><line class="sg" x1="1351.7" y1="1050.6" x2="1397.3" y2="1004.3" stroke="#93AA00"/><line class="sg" x1="575" y1="1000.5" x2="639.2" y2="983" stroke="#8BAB00"/><line class="sg" x1="488.4" y1="1013.5" x2="560" y2="976.8" stroke="#82AD00"/><line class="sg" x1="1206.7" y1="866" x2="1233.5" y2="844.1" stroke="#74AF00"/><line class="sg" x1="973.5" y1="829.9" x2="997" y2="848.1" stroke="#6FB000"/><line class="sg" x1="910.3" y1="920.8" x2="894.1" y2="929.7" stroke="#5EB200"/><line class="sg" x1="1527.9" y1="953.9" x2="1414.6" y2="979.5" stroke="#49B500"/><line class="sg" x1="888.7" y1="880.5" x2="934.3" y2="901.9" stroke="#40B500"/><line class="sg" x1="456.8" y1="948.9" x2="514.9" y2="958.1" stroke="#35B600"/><line class="sg" x1="1123.9" y1="777.3" x2="1100.3" y2="777.3" stroke="#27B700"/><line class="sg" x1="1453.8" y1="1022.5" x2="1442.2" y2="1011.1" stroke="#11B700"/><line class="sg" x1="1359.6" y1="1018.7" x2="1402.7" y2="999.7" stroke="#00B816"/><line class="sg" x1="969.4" y1="939.2" x2="1025.7" y2="953.2" stroke="#00B824"/><line class="sg" x1="594" y1="912.7" x2="609.2" y2="923.8" stroke="#00B92E"/><line class="sg" x1="1160.6" y1="1022.5" x2="1206.8" y2="999.7" stroke="#00B936"/><line class="sg" x1="712.2" y1="913.6" x2="896.5" y2="940.8" stroke="#00BB44"/><line class="sg" x1="1486" y1="933.3" x2="1380" y2="953.2" stroke="#00BC4F"/><line class="sg" x1="1437.7" y1="821.5" x2="1338.9" y2="827.8" stroke="#00BC5A"/><line class="sg" x1="815.9" y1="899.2" x2="850" y2="922.7" stroke="#00BD5F"/><line class="sg" x1="433.1" y1="935.9" x2="473.5" y2="944.9" stroke="#00BD64"/><line class="sg" x1="1333.5" y1="958.4" x2="1314.3" y2="980.5" stroke="#00BF7A"/><line class="sg" x1="1497.5" y1="1017.1" x2="1473" y2="1011.4" stroke="#00BF7E"/><line class="sg" x1="1129.7" y1="922.1" x2="1077.3" y2="960.8" stroke="#00C08E"/><line class="sg" x1="1590.1" y1="987.5" x2="1467.8" y2="1005.1" stroke="#00C092"/><line class="sg" x1="1445.6" y1="969.2" x2="1348.1" y2="990.8" stroke="#00C095"/><line class="sg" x1="1382.4" y1="921.1" x2="1342.2" y2="961.9" stroke="#00C199"/><line class="sg" x1="1218.6" y1="958.6" x2="1193.5" y2="984.6" stroke="#00C1A4"/><line class="sg" x1="801.4" y1="1020.6" x2="820.3" y2="991.4" stroke="#00C1AB"/><line class="sg" x1="1543.3" y1="981.2" x2="1417.6" y2="997.3" stroke="#00C0B1"/><line class="sg" x1="948.9" y1="1020.8" x2="968.6" y2="997.8" stroke="#00C0B5"/><line class="sg" x1="1483.9" y1="953.9" x2="1388.4" y2="971.9" stroke="#00C0BB"/><line class="sg" x1="1220.7" y1="977.8" x2="1229.2" y2="994.3" stroke="#00C0BE"/><line class="sg" x1="773.9" y1="896.3" x2="795.4" y2="903.5" stroke="#00BFC1"/><line class="sg" x1="456.8" y1="999.2" x2="503" y2="988.9" stroke="#00BFC4"/><line class="sg" x1="1214.6" y1="939.4" x2="1194.3" y2="943.8" stroke="#00BFC7"/><line class="sg" x1="1469" y1="973.2" x2="1435.9" y2="977.6" stroke="#00BECA"/><line class="sg" x1="1629.8" y1="1006.2" x2="1487.8" y2="1005.9" stroke="#00BECD"/><line class="sg" x1="506.8" y1="964.1" x2="562.7" y2="970.8" stroke="#00BDD3"/><line class="sg" x1="1311.5" y1="1031.1" x2="1334.3" y2="1011.4" stroke="#00BADE"/><line class="sg" x1="1218.8" y1="834.6" x2="1180.3" y2="835.1" stroke="#00B8E5"/><line class="sg" x1="932.3" y1="971" x2="994.1" y2="977.6" stroke="#00B5EE"/><line class="sg" x1="417.9" y1="917" x2="454.9" y2="934.3" stroke="#00B1F4"/><line class="sg" x1="1004" y1="901.9" x2="993.8" y2="923.8" stroke="#00AFF8"/><line class="sg" x1="979.3" y1="776.8" x2="1007.8" y2="780.8" stroke="#00AEFA"/><line class="sg" x1="612.5" y1="1032.2" x2="652.7" y2="1007.8" stroke="#00ACFB"/><line class="sg" x1="1590.6" y1="964.6" x2="1495.1" y2="978.9" stroke="#00ABFD"/><line class="sg" x1="1453" y1="1054.4" x2="1423" y2="1030" stroke="#00AAFE"/><line class="sg" x1="794.2" y1="915" x2="820.5" y2="928.6" stroke="#00A8FF"/><line class="sg" x1="1236.9" y1="1025.7" x2="1240" y2="994.9" stroke="#10A4FF"/><line class="sg" x1="802.3" y1="958.1" x2="783.5" y2="972.2" stroke="#5A9DFF"/><line class="sg" x1="1174.3" y1="924" x2="1162.7" y2="950.5" stroke="#7698FF"/><line class="sg" x1="1021.1" y1="921.3" x2="1027.6" y2="935.9" stroke="#8594FF"/><line class="sg" x1="999.6" y1="952.5" x2="1075.9" y2="964.1" stroke="#8C92FF"/><line class="sg" x1="1381.7" y1="964.2" x2="1353.8" y2="975.4" stroke="#988EFF"/><line class="sg" x1="1399.3" y1="1035.7" x2="1418.1" y2="1019.7" stroke="#A989FF"/><line class="sg" x1="1250.5" y1="908.1" x2="1205.9" y2="960.3" stroke="#B385FF"/><line class="sg" x1="1318.3" y1="927.5" x2="1273" y2="992.7" stroke="#B883FF"/><line class="sg" x1="1386.1" y1="939.7" x2="1347.3" y2="963" stroke="#BD81FF"/><line class="sg" x1="1539.8" y1="1007" x2="1492.4" y2="1013.5" stroke="#D476FE"/><line class="sg" x1="770.9" y1="949.1" x2="786.5" y2="978.6" stroke="#D774FD"/><line class="sg" x1="1445" y1="920.8" x2="1359.5" y2="961.1" stroke="#DA72FB"/><line class="sg" x1="582.6" y1="927" x2="605.9" y2="936.5" stroke="#DD71FA"/><line class="sg" x1="457" y1="968.6" x2="514.6" y2="973.8" stroke="#E66CF4"/><line class="sg" x1="1435.2" y1="996.6" x2="1410" y2="998.6" stroke="#ED68EE"/><line class="sg" x1="1129.3" y1="902.4" x2="1108.6" y2="916.2" stroke="#F166E9"/><line class="sg" x1="976.1" y1="847.2" x2="1023.8" y2="851.6" stroke="#F962DC"/><line class="sg" x1="1600.1" y1="1043.1" x2="1493.2" y2="1014.3" stroke="#FA62DA"/><line class="sg" x1="1605" y1="1022.8" x2="1577.8" y2="1014.3" stroke="#FB61D7"/><line class="sg" x1="969.6" y1="894.2" x2="1003.8" y2="942.2" stroke="#FC61D4"/><line class="sg" x1="1164.7" y1="806.6" x2="1114.1" y2="794.9" stroke="#FF61CB"/><line class="sg" x1="518.6" y1="951.6" x2="607" y2="969.2" stroke="#FF61C5"/><line class="sg" x1="1162.9" y1="766.5" x2="1121.1" y2="779.7" stroke="#FF61C2"/><line class="sg" x1="1289" y1="757.5" x2="1273.8" y2="767" stroke="#FF62BB"/><line class="sg" x1="1062.2" y1="1001.1" x2="1113.5" y2="975.1" stroke="#FF63B8"/><line class="sg" x1="1034.2" y1="1039.5" x2="1113.5" y2="1004.3" stroke="#FF63B4"/><line class="sg" x1="1116.4" y1="952.8" x2="1170" y2="964.1" stroke="#FF65AD"/><line class="sg" x1="606" y1="1012.7" x2="634.3" y2="984.3" stroke="#FF66AA"/><line class="sg" x1="1503.1" y1="1062.7" x2="1423" y2="1021.6" stroke="#FF67A3"/><line class="sg" x1="1552" y1="918.1" x2="1447" y2="934.9" stroke="#FF6B93"/><line class="sg" x1="1104.2" y1="1040" x2="1182.4" y2="1004.9" stroke="#FF6D8F"/><line class="sg" x1="1031.9" y1="1007.8" x2="1077.3" y2="983.5" stroke="#FE6E8B"/><line class="sg" x1="863.7" y1="932.1" x2="955.1" y2="944.9" stroke="#FD7083"/><line class="sg" x1="989.2" y1="801.1" x2="1013" y2="787.8" stroke="#FC717F"/><line class="sg" x1="664.7" y1="916.1" x2="684.6" y2="914.3" stroke="#FB727A"/><line class="sg" x1="765.5" y1="976.5" x2="787.3" y2="983" stroke="#FA7476"/><line class="sg" x1="698.4" y1="901.1" x2="727.8" y2="910.8" stroke="#F97572"/></g>
<g><text class="lb" x="457" y="914.7" fill="#F8766D">Afghanistan</text>
<text class="lb" x="1015.4" y="1032.2" fill="#F77768">Albania</text>
<text class="lb" x="941.1" y="974.9" fill="#F67963">Algeria</text>
<text class="lb" x="1122.2" y="726.3" fill="#F47A5E">American Samoa</text>
<text class="lb" x="1485.7" y="1048.7" fill="#F37B59">Andorra</text>
<text class="lb" x="559.7" y="948.5" fill="#F27D53">Angola</text>
<text class="lb" x="1300" y="822.5" fill="#F07E4E">Antigua and Barbuda</text>
<text class="lb" x="1136.5" y="1056" fill="#EF7F48">Argentina</text>
<text class="lb" x="1132.4" y="1014.7" fill="#ED8141">Armenia</text>
<text class="lb" x="1364.6" y="1084.7" fill="#EC823A">Australia</text>
<text class="lb" x="1385.9" y="1017.9" fill="#EA8332">Austria</text>
<text class="lb" x="1066.8" y="1032.2" fill="#E98429">Azerbaijan</text>
<text class="lb" x="1348.1" y="774.1" fill="#E7861D">Bahamas</text>
<text class="lb" x="1248.6" y="945.5" fill="#E5870A">Bahrain</text>
<text class="lb" x="696.5" y="1006.3" fill="#E48800">Bangladesh</text>
<text class="lb" x="1231.4" y="795.8" fill="#E28900">Barbados</text>
<text class="lb" x="1318.4" y="903.9" fill="#E08B00">Belarus</text>
<text class="lb" x="1494.6" y="994.9" fill="#DE8C00">Belgium</text>
<text class="lb" x="940" y="878.5" fill="#DC8D00">Belize</text>
<text class="lb" x="464.9" y="987.4" fill="#DA8E00">Benin</text>
<text class="lb" x="1319.7" y="882.8" fill="#D88F00">Bermuda</text>
<text class="lb" x="733.8" y="1025.5" fill="#D69100">Bhutan</text>
<text class="lb" x="797.3" y="956" fill="#D49200">Bolivia (Plurinational State of)</text>
<text class="lb" x="1106.5" y="994.4" fill="#D29300">Bosnia and Herzegovina</text>
<text class="lb" x="983.8" y="867.6" fill="#D09400">Botswana</text>
<text class="lb" x="1056.8" y="917.6" fill="#CD9500">Brazil</text>
<text class="lb" x="1274.9" y="1103.6" fill="#CB9600">Brunei Darussalam</text>
<text class="lb" x="1254.6" y="965.5" fill="#C99800">Bulgaria</text>
<text class="lb" x="300.3" y="958.5" fill="#C69900">Burkina Faso</text>
<text class="lb" x="351.9" y="999.5" fill="#C49A00">Burundi</text>
<text class="lb" x="826.5" y="1013" fill="#C19B00">Cabo Verde</text>
<text class="lb" x="734.1" y="764.7" fill="#BE9C00">Cambodia</text>
<text class="lb" x="637.3" y="1024.9" fill="#BC9D00">Cameroon</text>
<text class="lb" x="1433.5" y="948.7" fill="#B99E00">Canada</text>
<text class="lb" x="155.7" y="948.7" fill="#B69F00">Central African Republic</text>
<text class="lb" x="259.2" y="982" fill="#B3A000">Chad</text>
<text class="lb" x="1202.7" y="1055.5" fill="#B0A100">Chile</text>
<text class="lb" x="1146.8" y="745.8" fill="#ADA200">China</text>
<text class="lb" x="1056.5" y="936.6" fill="#AAA300">Colombia</text>
<text class="lb" x="674.6" y="987.1" fill="#A7A400">Comoros</text>
<text class="lb" x="815.7" y="977.4" fill="#A4A500">Congo</text>
<text class="lb" x="1295.9" y="802.2" fill="#A1A600">Cook Islands</text>
<text class="lb" x="1124.3" y="940.6" fill="#9DA700">Costa Rica</text>
<text class="lb" x="1244.6" y="1055.5" fill="#9AA800">Croatia</text>
<text class="lb" x="1095.9" y="859" fill="#96A900">Cuba</text>
<text class="lb" x="1331.4" y="1062" fill="#93AA00">Cyprus</text>
<text class="lb" x="1384.3" y="985.8" fill="#8FAA00">Czechia</text>
<text class="lb" x="503.2" y="1006" fill="#8BAB00">Côte d&#x27;Ivoire</text>
<text class="lb" x="683.5" y="706.8" fill="#87AC00">Democratic People&#x27;s Republic of Korea</text>
<text class="lb" x="377" y="1024.9" fill="#82AD00">Democratic Republic of the Congo</text>
<text class="lb" x="1517.6" y="1087.1" fill="#7EAE00">Denmark</text>
<text class="lb" x="705.9" y="873" fill="#79AF00">Djibouti</text>
<text class="lb" x="1178.9" y="877.4" fill="#74AF00">Dominica</text>
<text class="lb" x="860.8" y="832.2" fill="#6FB000">Dominican Republic</text>
<text class="lb" x="1011.4" y="956.3" fill="#6AB100">Ecuador</text>
<text class="lb" x="929.7" y="994.7" fill="#64B200">Egypt</text>
<text class="lb" x="881.9" y="918.2" fill="#5EB200">El Salvador</text>
<text class="lb" x="990.3" y="974.9" fill="#58B300">Equatorial Guinea</text>
<text class="lb" x="570.8" y="987.1" fill="#51B400">Eritrea</text>
<text class="lb" x="1530.5" y="957.6" fill="#49B500">Estonia</text>
<text class="lb" x="862.2" y="877.9" fill="#40B500">Eswatini</text>
<text class="lb" x="409.5" y="952.5" fill="#35B600">Ethiopia</text>
<text class="lb" x="1120" y="774.7" fill="#27B700">Fiji</text>
<text class="lb" x="1434.1" y="1033.9" fill="#11B700">Finland</text>
<text class="lb" x="1337.3" y="1030.1" fill="#00B816">France</text>
<text class="lb" x="946.5" y="936.6" fill="#00B824">Gabon</text>
<text class="lb" x="570.8" y="910.1" fill="#00B92E">Gambia</text>
<text class="lb" x="1135.7" y="1033.9" fill="#00B936">Georgia</text>
<text class="lb" x="1541.1" y="1048.5" fill="#00BA3D">Germany</text>
<text class="lb" x="672.4" y="917.6" fill="#00BB44">Ghana</text>
<text class="lb" x="1286.5" y="1023.9" fill="#00BB4A">Greece</text>
<text class="lb" x="1488.6" y="937.1" fill="#00BC4F">Greenland</text>
<text class="lb" x="1033.8" y="814.1" fill="#00BC55">Grenada</text>
<text class="lb" x="1440.3" y="825.8" fill="#00BC5A">Guam</text>
<text class="lb" x="782.4" y="896.6" fill="#00BD5F">Guatemala</text>
<text class="lb" x="406.2" y="933.3" fill="#00BD64">Guinea</text>
<text class="lb" x="427" y="873" fill="#00BE69">Guinea−Bissau</text>
<text class="lb" x="1063.2" y="760.3" fill="#00BE6D">Guyana</text>
<text class="lb" x="688.1" y="729.8" fill="#00BE71">Haiti</text>
<text class="lb" x="807.3" y="916.3" fill="#00BF76">Honduras</text>
<text class="lb" x="1310.8" y="955.8" fill="#00BF7A">Hungary</text>
<text class="lb" x="1487.3" y="1028.5" fill="#00BF7E">Iceland</text>
<text class="lb" x="903.2" y="1013.6" fill="#00C082">India</text>
<text class="lb" x="1060.3" y="839.5" fill="#00C086">Indonesia</text>
<text class="lb" x="1040.3" y="994.4" fill="#00C08A">Iran (Islamic Republic of)</text>
<text class="lb" x="1119.5" y="919.5" fill="#00C08E">Iraq</text>
<text class="lb" x="1592.7" y="991.4" fill="#00C092">Ireland</text>
<text class="lb" x="1432.4" y="966.6" fill="#00C095">Israel</text>
<text class="lb" x="1371.4" y="918.5" fill="#00C199">Italy</text>
<text class="lb" x="1092.4" y="812.5" fill="#00C19D">Jamaica</text>
<text class="lb" x="1471.1" y="1089" fill="#00C1A0">Japan</text>
<text class="lb" x="1200.5" y="956" fill="#00C1A4">Jordan</text>
<text class="lb" x="1121.9" y="973" fill="#00C1A7">Kazakhstan</text>
<text class="lb" x="783.5" y="1032" fill="#00C1AB">Kenya</text>
<text class="lb" x="834.1" y="674.1" fill="#00C0AE">Kiribati</text>
<text class="lb" x="1545.9" y="985.2" fill="#00C0B1">Kuwait</text>
<text class="lb" x="917.6" y="1032.2" fill="#00C0B5">Kyrgyzstan</text>
<text class="lb" x="677.3" y="814.7" fill="#00C0B8">Lao People&#x27;s Democratic Republic</text>
<text class="lb" x="1486.5" y="957.6" fill="#00C0BB">Latvia</text>
<text class="lb" x="1196.5" y="975.2" fill="#00C0BE">Lebanon</text>
<text class="lb" x="727.3" y="897.9" fill="#00BFC1">Lesotho</text>
<text class="lb" x="417" y="1004.9" fill="#00BFC4">Liberia</text>
<text class="lb" x="1207.3" y="936.8" fill="#00BFC7">Libya</text>
<text class="lb" x="1471.6" y="977.1" fill="#00BECA">Lithuania</text>
<text class="lb" x="1632.4" y="1010.6" fill="#00BECD">Luxembourg</text>
<text class="lb" x="514.1" y="968.2" fill="#00BDD0">Madagascar</text>
<text class="lb" x="465.7" y="967.9" fill="#00BDD3">Malawi</text>
<text class="lb" x="1232.4" y="710.6" fill="#00BCD6">Malaysia</text>
<text class="lb" x="1000" y="842.5" fill="#00BCD8">Maldives</text>
<text class="lb" x="318.4" y="983.9" fill="#00BBDB">Mali</text>
<text class="lb" x="1295.4" y="1042.5" fill="#00BADE">Malta</text>
<text class="lb" x="821.1" y="760.1" fill="#00BAE0">Marshall Islands</text>
<text class="lb" x="710.8" y="849.3" fill="#00B9E3">Mauritania</text>
<text class="lb" x="1221.4" y="839" fill="#00B8E5">Mauritius</text>
<text class="lb" x="1048.6" y="886.3" fill="#00B7E7">Mexico</text>
<text class="lb" x="883" y="733.3" fill="#00B6EA">Micronesia (Federated States of)</text>
<text class="lb" x="1537.3" y="1029.5" fill="#00B6EC">Monaco</text>
<text class="lb" x="879.5" y="974.9" fill="#00B5EE">Mongolia</text>
<text class="lb" x="1255.4" y="985.8" fill="#00B4F0">Montenegro</text>
<text class="lb" x="838.4" y="936.3" fill="#00B2F2">Morocco</text>
<text class="lb" x="374.6" y="914.4" fill="#00B1F4">Mozambique</text>
<text class="lb" x="839.7" y="794.4" fill="#00B0F6">Myanmar</text>
<text class="lb" x="981.4" y="899.3" fill="#00AFF8">Namibia</text>
<text class="lb" x="943" y="780.6" fill="#00AEFA">Nauru</text>
<text class="lb" x="594.9" y="1043.6" fill="#00ACFB">Nepal</text>
<text class="lb" x="1593.2" y="968.5" fill="#00ABFD">Netherlands</text>
<text class="lb" x="1418.9" y="1065.8" fill="#00AAFE">New Zealand</text>
<text class="lb" x="735.1" y="917.1" fill="#00A8FF">Nicaragua</text>
<text class="lb" x="772.4" y="1001.2" fill="#00A7FF">Nigeria</text>
<text class="lb" x="1202.4" y="774.4" fill="#00A5FF">Niue</text>
<text class="lb" x="1189.7" y="1037.1" fill="#10A4FF">North Macedonia</text>
<text class="lb" x="1294.6" y="844.7" fill="#2FA2FF">Northern Mariana Islands</text>
<text class="lb" x="1564.6" y="902.5" fill="#41A0FF">Norway</text>
<text class="lb" x="1246.5" y="1005.2" fill="#4F9FFF">Oman</text>
<text class="lb" x="780.3" y="955.5" fill="#5A9DFF">Pakistan</text>
<text class="lb" x="1254.3" y="820.3" fill="#649BFF">Palau</text>
<text class="lb" x="978.4" y="994.4" fill="#6D9AFF">Palestine</text>
<text class="lb" x="1151.4" y="921.4" fill="#7698FF">Panama</text>
<text class="lb" x="510.3" y="766.8" fill="#7E96FF">Papua New Guinea</text>
<text class="lb" x="994.6" y="918.7" fill="#8594FF">Paraguay</text>
<text class="lb" x="970.8" y="956.3" fill="#8C92FF">Peru</text>
<text class="lb" x="1061.6" y="689" fill="#9290FF">Philippines</text>
<text class="lb" x="1384.3" y="966.3" fill="#988EFF">Poland</text>
<text class="lb" x="1190.3" y="1017.9" fill="#9E8CFF">Portugal</text>
<text class="lb" x="1382.4" y="869" fill="#A48BFF">Puerto Rico</text>
<text class="lb" x="1382.7" y="1047.1" fill="#A989FF">Qatar</text>
<text class="lb" x="1478.4" y="1115.8" fill="#AE87FF">Republic of Korea</text>
<text class="lb" x="1195.9" y="905.5" fill="#B385FF">Republic of Moldova</text>
<text class="lb" x="1294.1" y="924.9" fill="#B883FF">Romania</text>
<text class="lb" x="1338.6" y="937.1" fill="#BD81FF">Russian Federation</text>
<text class="lb" x="618.1" y="1004.9" fill="#C17FFF">Rwanda</text>
<text class="lb" x="1240.8" y="863.6" fill="#C57DFF">Saint Kitts and Nevis</text>
<text class="lb" x="1102.7" y="878.2" fill="#C97BFF">Saint Lucia</text>
<text class="lb" x="983.5" y="793.3" fill="#CD79FF">Saint Vincent and the Grenadines</text>
<text class="lb" x="902.7" y="802" fill="#D077FF">Samoa</text>
<text class="lb" x="1542.4" y="1010.6" fill="#D476FE">San Marino</text>
<text class="lb" x="640.5" y="952" fill="#D774FD">Sao Tome and Principe</text>
<text class="lb" x="1414.1" y="918.2" fill="#DA72FB">Saudi Arabia</text>
<text class="lb" x="534.6" y="928.7" fill="#DD71FA">Senegal</text>
<text class="lb" x="1332.4" y="985.2" fill="#E06FF8">Serbia</text>
<text class="lb" x="1137.6" y="856" fill="#E36EF6">Seychelles</text>
<text class="lb" x="383.5" y="972.8" fill="#E66CF4">Sierra Leone</text>
<text class="lb" x="1410.5" y="1115.5" fill="#E86BF2">Singapore</text>
<text class="lb" x="1333.8" y="1004.7" fill="#EA69F0">Slovakia</text>
<text class="lb" x="1437.8" y="1000.9" fill="#ED68EE">Slovenia</text>
<text class="lb" x="564.6" y="785.8" fill="#EF67EC">Solomon Islands</text>
<text class="lb" x="1098.4" y="899.8" fill="#F166E9">South Africa</text>
<text class="lb" x="291.9" y="929.8" fill="#F365E7">South Sudan</text>
<text class="lb" x="1233" y="1084.9" fill="#F464E4">Spain</text>
<text class="lb" x="1124.9" y="830.9" fill="#F663E2">Sri Lanka</text>
<text class="lb" x="810.8" y="873.6" fill="#F763DF">Sudan</text>
<text class="lb" x="920.5" y="851.4" fill="#F962DC">Suriname</text>
<text class="lb" x="1602.7" y="1048.2" fill="#FA62DA">Sweden</text>
<text class="lb" x="1607.6" y="1029.5" fill="#FB61D7">Switzerland</text>
<text class="lb" x="851.4" y="897.6" fill="#FC61D4">Syrian Arab Republic</text>
<text class="lb" x="1360.8" y="742" fill="#FD61D1">Taiwan (Province of China)</text>
<text class="lb" x="863" y="994.4" fill="#FE61CE">Tajikistan</text>
<text class="lb" x="1167.3" y="812.2" fill="#FF61CB">Thailand</text>
<text class="lb" x="604.6" y="835.5" fill="#FF61C8">Timor−Leste</text>
<text class="lb" x="503.2" y="949" fill="#FF61C5">Togo</text>
<text class="lb" x="1147" y="763.9" fill="#FF61C2">Tokelau</text>
<text class="lb" x="988.6" y="773" fill="#FF62BE">Tonga</text>
<text class="lb" x="1235.1" y="754.9" fill="#FF62BB">Trinidad and Tobago</text>
<text class="lb" x="1040.3" y="1012.5" fill="#FF63B8">Tunisia</text>
<text class="lb" x="991.6" y="1050.9" fill="#FF63B4">Turkmenistan</text>
<text class="lb" x="925.7" y="761.4" fill="#FF64B1">Tuvalu</text>
<text class="lb" x="1073.2" y="956" fill="#FF65AD">Türkiye</text>
<text class="lb" x="583.2" y="1024.1" fill="#FF66AA">Uganda</text>
<text class="lb" x="1261.1" y="884.4" fill="#FF66A6">Ukraine</text>
<text class="lb" x="1505.7" y="1067.9" fill="#FF67A3">United Arab Emirates</text>
<text class="lb" x="1447.8" y="848.5" fill="#FF689F">United Kingdom</text>
<text class="lb" x="569.7" y="967.6" fill="#FF699B">United Republic of Tanzania</text>
<text class="lb" x="1379.7" y="897.1" fill="#FF6A97">United States Virgin Islands</text>
<text class="lb" x="1554.6" y="922" fill="#FF6B93">United States of America</text>
<text class="lb" x="1078.4" y="1051.4" fill="#FF6D8F">Uruguay</text>
<text class="lb" x="968.1" y="1013.6" fill="#FE6E8B">Uzbekistan</text>
<text class="lb" x="674.3" y="687.6" fill="#FD6F87">Vanuatu</text>
<text class="lb" x="671.9" y="936" fill="#FD7083">Venezuela (Bolivarian Republic of)</text>
<text class="lb" x="959.5" y="812.5" fill="#FC717F">Viet Nam</text>
<text class="lb" x="624.1" y="920.6" fill="#FB727A">Yemen</text>
<text class="lb" x="735.7" y="973.9" fill="#FA7476">Zambia</text>
<text class="lb" x="658.9" y="898.5" fill="#F97572">Zimbabwe</text></g>
<path d="M147.1 653.5 V1122.1 H1776" fill="none" stroke="#000" stroke-width="1.4" stroke-linejoin="miter"/>
<line x1="221.3" y1="1122.1" x2="221.3" y2="1125.8" stroke="#333" stroke-width="1.4"/>
<text class="ax" text-anchor="middle" transform="translate(221.3 1146) scale(1 1.05)">0.2</text>
<line x1="406.4" y1="1122.1" x2="406.4" y2="1125.8" stroke="#333" stroke-width="1.4"/>
<text class="ax" text-anchor="middle" transform="translate(406.4 1146) scale(1 1.05)">0.3</text>
<line x1="591.5" y1="1122.1" x2="591.5" y2="1125.8" stroke="#333" stroke-width="1.4"/>
<text class="ax" text-anchor="middle" transform="translate(591.5 1146) scale(1 1.05)">0.4</text>
<line x1="776.6" y1="1122.1" x2="776.6" y2="1125.8" stroke="#333" stroke-width="1.4"/>
<text class="ax" text-anchor="middle" transform="translate(776.6 1146) scale(1 1.05)">0.5</text>
<line x1="961.7" y1="1122.1" x2="961.7" y2="1125.8" stroke="#333" stroke-width="1.4"/>
<text class="ax" text-anchor="middle" transform="translate(961.7 1146) scale(1 1.05)">0.6</text>
<line x1="1146.8" y1="1122.1" x2="1146.8" y2="1125.8" stroke="#333" stroke-width="1.4"/>
<text class="ax" text-anchor="middle" transform="translate(1146.8 1146) scale(1 1.05)">0.7</text>
<line x1="1331.9" y1="1122.1" x2="1331.9" y2="1125.8" stroke="#333" stroke-width="1.4"/>
<text class="ax" text-anchor="middle" transform="translate(1331.9 1146) scale(1 1.05)">0.8</text>
<line x1="1517" y1="1122.1" x2="1517" y2="1125.8" stroke="#333" stroke-width="1.4"/>
<text class="ax" text-anchor="middle" transform="translate(1517 1146) scale(1 1.05)">0.9</text>
<line x1="1702.1" y1="1122.1" x2="1702.1" y2="1125.8" stroke="#333" stroke-width="1.4"/>
<text class="ax" text-anchor="middle" transform="translate(1702.1 1146) scale(1 1.05)">1.0</text>
<line x1="143.4" y1="702.3" x2="147.1" y2="702.3" stroke="#333" stroke-width="1.4"/>
<text class="ax" text-anchor="end" transform="translate(139.8 711.4) scale(1 1.05)">10000</text>
<line x1="143.4" y1="822.5" x2="147.1" y2="822.5" stroke="#333" stroke-width="1.4"/>
<text class="ax" text-anchor="end" transform="translate(139.8 831.6) scale(1 1.05)">7500</text>
<line x1="143.4" y1="942.7" x2="147.1" y2="942.7" stroke="#333" stroke-width="1.4"/>
<text class="ax" text-anchor="end" transform="translate(139.8 951.8) scale(1 1.05)">5000</text>
<line x1="143.4" y1="1062.9" x2="147.1" y2="1062.9" stroke="#333" stroke-width="1.4"/>
<text class="ax" text-anchor="end" transform="translate(139.8 1072) scale(1 1.05)">2500</text>
<text class="at" transform="translate(958 1172.2) scale(1 1.04)">SDI</text>
<text class="tt" x="961.5" y="640.1">Prevalence</text>
<text class="tg" transform="translate(6.2 618.2) scale(1 1.04)">B</text>
<text class="at" transform="translate(41.7 887.8) rotate(-90)">Prevalence Age−standardised rate</text>
<text class="at" transform="translate(68.9 885.2) rotate(-90)">per 100,000 population</text>
<text class="an" transform="translate(313.6 689.2) scale(1 1.04)">R = −0.333</text>
<text class="an" transform="translate(313.6 717.7) scale(1 1.04)">P &lt; 0.001</text>
</g>
<g id="panelC">
<g><circle cx="474.9" cy="1609.5" r="2.2" fill="#F8766D"/><circle cx="1158.9" cy="1647.3" r="2.2" fill="#F77768"/><circle cx="1071.6" cy="1630" r="2.2" fill="#F67963"/><circle cx="1190.3" cy="1270.8" r="2.2" fill="#F47A5E"/><circle cx="1460" cy="1677.8" r="2.2" fill="#F37B59"/><circle cx="690.5" cy="1630.5" r="2.2" fill="#F27D53"/><circle cx="1238.9" cy="1454.1" r="2.2" fill="#F07E4E"/><circle cx="1188.9" cy="1627.8" r="2.2" fill="#EF7F48"/><circle cx="1150" cy="1669.2" r="2.2" fill="#ED8141"/><circle cx="1413.5" cy="1593.8" r="2.2" fill="#EC823A"/><circle cx="1430.8" cy="1575.1" r="2.2" fill="#EA8332"/><circle cx="1136.8" cy="1639.2" r="2.2" fill="#E98429"/><circle cx="1340.8" cy="1353.8" r="2.2" fill="#E7861D"/><circle cx="1244.6" cy="1498.4" r="2.2" fill="#E5870A"/><circle cx="762.2" cy="1678.4" r="2.2" fill="#E48800"/><circle cx="1233" cy="1498.1" r="2.2" fill="#E28900"/><circle cx="1302.7" cy="1665.9" r="2.2" fill="#E08B00"/><circle cx="1430.8" cy="1615.1" r="2.2" fill="#DE8C00"/><circle cx="980" cy="1527.6" r="2.2" fill="#DC8D00"/><circle cx="542.2" cy="1632.7" r="2.2" fill="#DA8E00"/><circle cx="1370.8" cy="1543" r="2.2" fill="#D88F00"/><circle cx="726.5" cy="1670.5" r="2.2" fill="#D69100"/><circle cx="959.5" cy="1605.4" r="2.2" fill="#D49200"/><circle cx="1188.9" cy="1668.9" r="2.2" fill="#D29300"/><circle cx="1040.3" cy="1575.9" r="2.2" fill="#D09400"/><circle cx="1059.5" cy="1580.8" r="2.2" fill="#CD9500"/><circle cx="1350.3" cy="1510.5" r="2.2" fill="#CB9600"/><circle cx="1272.7" cy="1662.4" r="2.2" fill="#C99800"/><circle cx="378.6" cy="1626.5" r="2.2" fill="#C69900"/><circle cx="386.5" cy="1643.8" r="2.2" fill="#C49A00"/><circle cx="838.1" cy="1670" r="2.2" fill="#C19B00"/><circle cx="727.6" cy="1629.2" r="2.2" fill="#BE9C00"/><circle cx="738.6" cy="1611.1" r="2.2" fill="#BC9D00"/><circle cx="1466.8" cy="1598.6" r="2.2" fill="#B99E00"/><circle cx="423" cy="1622.4" r="2.2" fill="#B69F00"/><circle cx="295.7" cy="1654.6" r="2.2" fill="#B3A000"/><circle cx="1278.9" cy="1635.7" r="2.2" fill="#B0A100"/><circle cx="1186.5" cy="1659.5" r="2.2" fill="#ADA200"/><circle cx="1063.8" cy="1643.5" r="2.2" fill="#AAA300"/><circle cx="731.6" cy="1621.4" r="2.2" fill="#A7A400"/><circle cx="930" cy="1607.8" r="2.2" fill="#A4A500"/><circle cx="1292.7" cy="1562.2" r="2.2" fill="#A1A600"/><circle cx="1147" cy="1641.9" r="2.2" fill="#9DA700"/><circle cx="1328.4" cy="1668.1" r="2.2" fill="#9AA800"/><circle cx="1088.6" cy="1643.5" r="2.2" fill="#96A900"/><circle cx="1397.3" cy="1585.4" r="2.2" fill="#93AA00"/><circle cx="1384.3" cy="1646.2" r="2.2" fill="#8FAA00"/><circle cx="639.2" cy="1636.2" r="2.2" fill="#8BAB00"/><circle cx="905.4" cy="1655.9" r="2.2" fill="#87AC00"/><circle cx="560" cy="1631.4" r="2.2" fill="#82AD00"/><circle cx="1509.7" cy="1623" r="2.2" fill="#7EAE00"/><circle cx="753.8" cy="1635.9" r="2.2" fill="#79AF00"/><circle cx="1233.5" cy="1498.6" r="2.2" fill="#74AF00"/><circle cx="997" cy="1555.9" r="2.2" fill="#6FB000"/><circle cx="1074.3" cy="1609.7" r="2.2" fill="#6AB100"/><circle cx="973.8" cy="1635.1" r="2.2" fill="#64B200"/><circle cx="894.1" cy="1619.5" r="2.2" fill="#5EB200"/><circle cx="1068.1" cy="1603" r="2.2" fill="#58B300"/><circle cx="598.1" cy="1646.2" r="2.2" fill="#51B400"/><circle cx="1414.6" cy="1648.9" r="2.2" fill="#49B500"/><circle cx="934.3" cy="1444.1" r="2.2" fill="#40B500"/><circle cx="514.9" cy="1652.4" r="2.2" fill="#35B600"/><circle cx="1100.3" cy="1599.7" r="2.2" fill="#27B700"/><circle cx="1442.2" cy="1660" r="2.2" fill="#11B700"/><circle cx="1402.7" cy="1605.4" r="2.2" fill="#00B816"/><circle cx="1025.7" cy="1583.5" r="2.2" fill="#00B824"/><circle cx="609.2" cy="1632.7" r="2.2" fill="#00B92E"/><circle cx="1206.8" cy="1628.1" r="2.2" fill="#00B936"/><circle cx="1522.4" cy="1608.4" r="2.2" fill="#00BA3D"/><circle cx="896.5" cy="1610.5" r="2.2" fill="#00BB44"/><circle cx="1316.5" cy="1643" r="2.2" fill="#00BB4A"/><circle cx="1380" cy="1553.5" r="2.2" fill="#00BC4F"/><circle cx="1088.9" cy="1444.1" r="2.2" fill="#00BC55"/><circle cx="1338.9" cy="1627.6" r="2.2" fill="#00BC5A"/><circle cx="850" cy="1587.3" r="2.2" fill="#00BD5F"/><circle cx="473.5" cy="1645.9" r="2.2" fill="#00BD64"/><circle cx="504.3" cy="1634.6" r="2.2" fill="#00BE69"/><circle cx="1055.4" cy="1441.9" r="2.2" fill="#00BE6D"/><circle cx="680.5" cy="1554.6" r="2.2" fill="#00BE71"/><circle cx="800" cy="1586.2" r="2.2" fill="#00BF76"/><circle cx="1314.3" cy="1634.3" r="2.2" fill="#00BF7A"/><circle cx="1473" cy="1647.3" r="2.2" fill="#00BF7E"/><circle cx="915.9" cy="1677" r="2.2" fill="#00C082"/><circle cx="1066.5" cy="1673" r="2.2" fill="#00C086"/><circle cx="1141.1" cy="1643.5" r="2.2" fill="#00C08A"/><circle cx="1077.3" cy="1656.2" r="2.2" fill="#00C08E"/><circle cx="1467.8" cy="1630" r="2.2" fill="#00C092"/><circle cx="1348.1" cy="1573.8" r="2.2" fill="#00C095"/><circle cx="1342.2" cy="1616.2" r="2.2" fill="#00C199"/><circle cx="1115.4" cy="1603" r="2.2" fill="#00C19D"/><circle cx="1463.2" cy="1659.5" r="2.2" fill="#00C1A0"/><circle cx="1193.5" cy="1633" r="2.2" fill="#00C1A4"/><circle cx="1193" cy="1653.5" r="2.2" fill="#00C1A7"/><circle cx="820.3" cy="1642.7" r="2.2" fill="#00C1AB"/><circle cx="826.5" cy="1469.2" r="2.2" fill="#00C0AE"/><circle cx="1417.6" cy="1653.5" r="2.2" fill="#00C0B1"/><circle cx="968.6" cy="1668.6" r="2.2" fill="#00C0B5"/><circle cx="755.9" cy="1631.9" r="2.2" fill="#00C0B8"/><circle cx="1388.4" cy="1653.8" r="2.2" fill="#00C0BB"/><circle cx="1229.2" cy="1611.6" r="2.2" fill="#00C0BE"/><circle cx="795.4" cy="1488.1" r="2.2" fill="#00BFC1"/><circle cx="503" cy="1620.3" r="2.2" fill="#00BFC4"/><circle cx="1194.3" cy="1582.2" r="2.2" fill="#00BFC7"/><circle cx="1435.9" cy="1658.9" r="2.2" fill="#00BECA"/><circle cx="1487.8" cy="1614.9" r="2.2" fill="#00BECD"/><circle cx="591.9" cy="1654.9" r="2.2" fill="#00BDD0"/><circle cx="562.7" cy="1630.8" r="2.2" fill="#00BDD3"/><circle cx="1224.9" cy="1632.2" r="2.2" fill="#00BCD6"/><circle cx="1055.7" cy="1557.3" r="2.2" fill="#00BCD8"/><circle cx="347.8" cy="1643" r="2.2" fill="#00BBDB"/><circle cx="1334.3" cy="1646.5" r="2.2" fill="#00BADE"/><circle cx="913.2" cy="1541.1" r="2.2" fill="#00BAE0"/><circle cx="774.3" cy="1631.1" r="2.2" fill="#00B9E3"/><circle cx="1180.3" cy="1619.2" r="2.2" fill="#00B8E5"/><circle cx="1081.6" cy="1571.1" r="2.2" fill="#00B7E7"/><circle cx="938.1" cy="1473.8" r="2.2" fill="#00B6EA"/><circle cx="1531.9" cy="1646.7" r="2.2" fill="#00B6EC"/><circle cx="994.1" cy="1649.2" r="2.2" fill="#00B5EE"/><circle cx="1323.5" cy="1673.8" r="2.2" fill="#00B4F0"/><circle cx="892.4" cy="1618.4" r="2.2" fill="#00B2F2"/><circle cx="454.9" cy="1612.4" r="2.2" fill="#00B1F4"/><circle cx="838.9" cy="1631.4" r="2.2" fill="#00B0F6"/><circle cx="993.8" cy="1587.3" r="2.2" fill="#00AFF8"/><circle cx="1007.8" cy="1489.7" r="2.2" fill="#00AEFA"/><circle cx="652.7" cy="1673.2" r="2.2" fill="#00ACFB"/><circle cx="1495.1" cy="1624.1" r="2.2" fill="#00ABFD"/><circle cx="1423" cy="1603" r="2.2" fill="#00AAFE"/><circle cx="820.5" cy="1648.1" r="2.2" fill="#00A8FF"/><circle cx="782.7" cy="1644.1" r="2.2" fill="#00A7FF"/><circle cx="1194.9" cy="1492.7" r="2.2" fill="#00A5FF"/><circle cx="1240" cy="1672.2" r="2.2" fill="#10A4FF"/><circle cx="1278.9" cy="1583.5" r="2.2" fill="#2FA2FF"/><circle cx="1546.5" cy="1640" r="2.2" fill="#41A0FF"/><circle cx="1282.2" cy="1623.5" r="2.2" fill="#4F9FFF"/><circle cx="783.5" cy="1668.4" r="2.2" fill="#5A9DFF"/><circle cx="1246.2" cy="1504.9" r="2.2" fill="#649BFF"/><circle cx="1018.6" cy="1629.2" r="2.2" fill="#6D9AFF"/><circle cx="1162.7" cy="1618.6" r="2.2" fill="#7698FF"/><circle cx="624.1" cy="1597" r="2.2" fill="#7E96FF"/><circle cx="1027.6" cy="1562.4" r="2.2" fill="#8594FF"/><circle cx="1075.9" cy="1638.9" r="2.2" fill="#8C92FF"/><circle cx="1056.2" cy="1618.6" r="2.2" fill="#9290FF"/><circle cx="1353.8" cy="1660.8" r="2.2" fill="#988EFF"/><circle cx="1227.6" cy="1615.7" r="2.2" fill="#9E8CFF"/><circle cx="1378.6" cy="1444.9" r="2.2" fill="#A48BFF"/><circle cx="1418.1" cy="1626.5" r="2.2" fill="#A989FF"/><circle cx="1491.9" cy="1665.9" r="2.2" fill="#AE87FF"/><circle cx="1205.9" cy="1654.9" r="2.2" fill="#B385FF"/><circle cx="1273" cy="1676.5" r="2.2" fill="#B883FF"/><circle cx="1347.3" cy="1658.9" r="2.2" fill="#BD81FF"/><circle cx="657" cy="1629.2" r="2.2" fill="#C17FFF"/><circle cx="1248.1" cy="1509.2" r="2.2" fill="#C57DFF"/><circle cx="1095.7" cy="1548.4" r="2.2" fill="#C97BFF"/><circle cx="1030" cy="1442.7" r="2.2" fill="#CD79FF"/><circle cx="948.9" cy="1507.8" r="2.2" fill="#D077FF"/><circle cx="1494.6" cy="1663.2" r="2.2" fill="#D476FE"/><circle cx="786.5" cy="1608.4" r="2.2" fill="#D774FD"/><circle cx="1359.5" cy="1575.7" r="2.2" fill="#DA72FB"/><circle cx="605.9" cy="1639.5" r="2.2" fill="#DD71FA"/><circle cx="1317.6" cy="1660.8" r="2.2" fill="#E06FF8"/><circle cx="1201.9" cy="1650.8" r="2.2" fill="#E36EF6"/><circle cx="514.6" cy="1649.5" r="2.2" fill="#E66CF4"/><circle cx="1435.1" cy="1670.5" r="2.2" fill="#E86BF2"/><circle cx="1351.1" cy="1669.7" r="2.2" fill="#EA69F0"/><circle cx="1410" cy="1651.6" r="2.2" fill="#ED68EE"/><circle cx="645.7" cy="1539.2" r="2.2" fill="#EF67EC"/><circle cx="1108.6" cy="1433.5" r="2.2" fill="#F166E9"/><circle cx="365.9" cy="1613" r="2.2" fill="#F365E7"/><circle cx="1274.6" cy="1622.2" r="2.2" fill="#F464E4"/><circle cx="1149.2" cy="1660.5" r="2.2" fill="#F663E2"/><circle cx="853.8" cy="1624.1" r="2.2" fill="#F763DF"/><circle cx="1023.8" cy="1580" r="2.2" fill="#F962DC"/><circle cx="1492.4" cy="1635.9" r="2.2" fill="#FA62DA"/><circle cx="1577.8" cy="1645.1" r="2.2" fill="#FB61D7"/><circle cx="1003.8" cy="1636.5" r="2.2" fill="#FC61D4"/><circle cx="1469.7" cy="1634.3" r="2.2" fill="#FD61D1"/><circle cx="853" cy="1677.8" r="2.2" fill="#FE61CE"/><circle cx="1114.1" cy="1639.2" r="2.2" fill="#FF61CB"/><circle cx="673.8" cy="1645.4" r="2.2" fill="#FF61C8"/><circle cx="607" cy="1641.6" r="2.2" fill="#FF61C5"/><circle cx="1121.1" cy="1522.2" r="2.2" fill="#FF61C2"/><circle cx="1010" cy="1515.7" r="2.2" fill="#FF62BE"/><circle cx="1273.8" cy="1485.9" r="2.2" fill="#FF62BB"/><circle cx="1113.5" cy="1636.8" r="2.2" fill="#FF63B8"/><circle cx="1113.5" cy="1652.4" r="2.2" fill="#FF63B4"/><circle cx="917.8" cy="1519.5" r="2.2" fill="#FF64B1"/><circle cx="1170" cy="1607.6" r="2.2" fill="#FF65AD"/><circle cx="634.3" cy="1636.2" r="2.2" fill="#FF66AA"/><circle cx="1258.9" cy="1671.9" r="2.2" fill="#FF66A6"/><circle cx="1423" cy="1596.5" r="2.2" fill="#FF67A3"/><circle cx="1440.5" cy="1640.8" r="2.2" fill="#FF689F"/><circle cx="677.3" cy="1630.8" r="2.2" fill="#FF699B"/><circle cx="1371.9" cy="1561.9" r="2.2" fill="#FF6A97"/><circle cx="1447" cy="1510.3" r="2.2" fill="#FF6B93"/><circle cx="1182.4" cy="1598.6" r="2.2" fill="#FF6D8F"/><circle cx="1077.3" cy="1670.5" r="2.2" fill="#FE6E8B"/><circle cx="726.5" cy="1541.9" r="2.2" fill="#FD6F87"/><circle cx="955.1" cy="1637.6" r="2.2" fill="#FD7083"/><circle cx="1013" cy="1651.6" r="2.2" fill="#FC717F"/><circle cx="684.6" cy="1651.9" r="2.2" fill="#FB727A"/><circle cx="787.3" cy="1631.9" r="2.2" fill="#FA7476"/><circle cx="727.8" cy="1568.9" r="2.2" fill="#F97572"/></g>
<path d="M296 1587.6 L299.1 1588 L302.9 1588.6 L307.3 1589.2 L312.3 1589.9 L317.7 1590.7 L323.5 1591.5 L329.5 1592.3 L335.8 1593.2 L342.2 1594 L348.6 1594.9 L354.9 1595.7 L361.1 1596.5 L367.3 1597.3 L373.7 1598.1 L380.3 1598.9 L387 1599.8 L393.8 1600.7 L400.7 1601.5 L407.6 1602.4 L414.6 1603.1 L421.6 1603.9 L428.5 1604.6 L435.4 1605.2 L442.2 1605.7 L449 1606.1 L455.7 1606.5 L462.5 1606.8 L469.2 1607.1 L476 1607.3 L482.7 1607.4 L489.4 1607.5 L496.2 1607.6 L502.9 1607.7 L509.7 1607.7 L516.4 1607.8 L523.2 1607.8 L530 1607.8 L536.7 1607.8 L543.5 1607.8 L550.2 1607.8 L557 1607.7 L563.7 1607.6 L570.5 1607.5 L577.3 1607.4 L584 1607.2 L590.8 1607 L597.5 1606.8 L604.3 1606.5 L611.2 1606.2 L618.2 1605.8 L625.4 1605.4 L632.7 1605 L639.9 1604.5 L647.1 1604 L654.2 1603.5 L661.1 1603 L667.7 1602.5 L674 1602 L679.9 1601.5 L685.4 1601.1 L690.3 1600.7 L694.5 1600.4 L698.3 1600.1 L701.6 1599.8 L704.7 1599.6 L707.7 1599.3 L710.7 1599 L713.8 1598.7 L717.1 1598.4 L720.9 1597.9 L725.1 1597.5 L730 1596.9 L735.5 1596.2 L741.4 1595.5 L747.7 1594.7 L754.3 1593.8 L761.2 1592.8 L768.3 1591.9 L775.5 1590.9 L782.7 1590 L790 1589 L797.2 1588.1 L804.2 1587.3 L811.1 1586.5 L817.9 1585.8 L824.6 1585.1 L831.4 1584.4 L838.1 1583.8 L844.9 1583.1 L851.7 1582.5 L858.4 1582 L865.2 1581.4 L871.9 1580.8 L878.7 1580.3 L885.4 1579.7 L892.2 1579.2 L899 1578.7 L905.7 1578.1 L912.5 1577.6 L919.2 1577.1 L926 1576.5 L932.7 1576 L939.4 1575.6 L946.2 1575.1 L952.9 1574.7 L959.7 1574.4 L966.4 1574.1 L973.2 1573.8 L980 1573.6 L987 1573.5 L994.1 1573.4 L1001.2 1573.4 L1008.4 1573.4 L1015.4 1573.4 L1022.4 1573.4 L1029.3 1573.5 L1035.9 1573.6 L1042.3 1573.7 L1048.5 1573.7 L1054.3 1573.8 L1059.7 1573.9 L1064.7 1573.9 L1069.3 1574 L1073.7 1574 L1077.9 1574.1 L1081.9 1574.2 L1086 1574.3 L1090.1 1574.4 L1094.3 1574.5 L1098.7 1574.7 L1103.4 1574.9 L1108.4 1575.1 L1113.7 1575.3 L1119.2 1575.6 L1124.8 1575.9 L1130.6 1576.3 L1136.5 1576.6 L1142.5 1577 L1148.6 1577.4 L1154.8 1577.8 L1161 1578.1 L1167.3 1578.5 L1173.6 1578.9 L1180 1579.2 L1186.4 1579.5 L1193 1579.8 L1199.6 1580.1 L1206.3 1580.4 L1213.1 1580.6 L1220 1580.9 L1226.8 1581.2 L1233.7 1581.5 L1240.6 1581.8 L1247.5 1582.2 L1254.3 1582.6 L1261.1 1583 L1267.9 1583.5 L1274.6 1584 L1281.4 1584.6 L1288.1 1585.2 L1294.9 1585.8 L1301.7 1586.4 L1308.4 1587 L1315.2 1587.7 L1321.9 1588.4 L1328.7 1589.1 L1335.4 1589.8 L1342.2 1590.5 L1349 1591.2 L1356 1592 L1363.1 1592.8 L1370.2 1593.7 L1377.3 1594.5 L1384.4 1595.4 L1391.4 1596.2 L1398.2 1597.1 L1404.8 1597.9 L1411.3 1598.6 L1417.4 1599.3 L1423.2 1600 L1428.7 1600.6 L1433.8 1601.2 L1438.6 1601.7 L1443.2 1602.3 L1447.6 1602.7 L1451.9 1603.2 L1456.1 1603.6 L1460.3 1604 L1464.4 1604.4 L1468.6 1604.8 L1472.9 1605.1 L1477.3 1605.4 L1481.8 1605.7 L1486.4 1605.9 L1491 1606.1 L1495.6 1606.3 L1500.2 1606.4 L1504.8 1606.5 L1509.4 1606.6 L1513.9 1606.7 L1518.4 1606.7 L1522.8 1606.8 L1527.2 1606.8 L1531.4 1606.8 L1535.7 1606.8 L1540.1 1606.7 L1544.7 1606.7 L1549.2 1606.5 L1553.7 1606.4 L1558.1 1606.3 L1562.3 1606.1 L1566.2 1606 L1569.8 1605.9 L1573 1605.8 L1575.8 1605.7 L1578 1605.6 L1578 1695.4 L1575.8 1694.3 L1573 1693 L1569.8 1691.4 L1566.2 1689.6 L1562.3 1687.6 L1558.1 1685.5 L1553.7 1683.4 L1549.2 1681.2 L1544.7 1679.1 L1540.1 1676.9 L1535.7 1674.9 L1531.4 1673 L1527.2 1671.2 L1522.8 1669.3 L1518.4 1667.5 L1513.9 1665.6 L1509.4 1663.7 L1504.8 1661.9 L1500.2 1660.1 L1495.6 1658.3 L1491 1656.5 L1486.4 1654.8 L1481.8 1653.1 L1477.3 1651.4 L1472.9 1649.8 L1468.6 1648.2 L1464.4 1646.6 L1460.3 1645 L1456.1 1643.5 L1451.9 1642 L1447.6 1640.5 L1443.2 1639.1 L1438.6 1637.7 L1433.8 1636.3 L1428.7 1635 L1423.2 1633.8 L1417.4 1632.6 L1411.3 1631.5 L1404.8 1630.4 L1398.2 1629.4 L1391.4 1628.4 L1384.4 1627.4 L1377.3 1626.5 L1370.2 1625.6 L1363.1 1624.8 L1356 1624 L1349 1623.2 L1342.2 1622.4 L1335.4 1621.7 L1328.7 1620.9 L1321.9 1620.3 L1315.2 1619.6 L1308.4 1619 L1301.7 1618.5 L1294.9 1617.9 L1288.1 1617.4 L1281.4 1616.9 L1274.6 1616.4 L1267.9 1615.9 L1261.1 1615.4 L1254.3 1614.9 L1247.5 1614.5 L1240.6 1614.1 L1233.7 1613.8 L1226.8 1613.4 L1220 1613.1 L1213.1 1612.7 L1206.3 1612.4 L1199.6 1612.1 L1193 1611.8 L1186.4 1611.5 L1180 1611.2 L1173.6 1610.9 L1167.3 1610.6 L1161 1610.3 L1154.8 1610 L1148.6 1609.8 L1142.5 1609.5 L1136.5 1609.3 L1130.6 1609 L1124.8 1608.8 L1119.2 1608.5 L1113.7 1608.3 L1108.4 1608.1 L1103.4 1607.9 L1098.7 1607.7 L1094.3 1607.5 L1090.1 1607.3 L1086 1607.1 L1081.9 1606.9 L1077.9 1606.7 L1073.7 1606.6 L1069.3 1606.5 L1064.7 1606.3 L1059.7 1606.3 L1054.3 1606.2 L1048.5 1606.2 L1042.3 1606.1 L1035.9 1606.1 L1029.3 1606.1 L1022.4 1606.1 L1015.4 1606.2 L1008.4 1606.3 L1001.2 1606.4 L994.1 1606.5 L987 1606.6 L980 1606.8 L973.2 1607 L966.4 1607.2 L959.7 1607.5 L952.9 1607.8 L946.2 1608.1 L939.4 1608.4 L932.7 1608.8 L926 1609.1 L919.2 1609.6 L912.5 1610 L905.7 1610.5 L899 1611 L892.2 1611.6 L885.4 1612.2 L878.7 1612.9 L871.9 1613.6 L865.2 1614.4 L858.4 1615.2 L851.7 1616 L844.9 1616.9 L838.1 1617.8 L831.4 1618.6 L824.6 1619.5 L817.9 1620.3 L811.1 1621.1 L804.2 1621.9 L797.2 1622.7 L790 1623.6 L782.7 1624.5 L775.5 1625.3 L768.3 1626.2 L761.2 1627 L754.3 1627.8 L747.7 1628.6 L741.4 1629.3 L735.5 1630 L730 1630.6 L725.1 1631.1 L720.9 1631.6 L717.1 1632 L713.8 1632.3 L710.7 1632.6 L707.7 1632.8 L704.7 1633.1 L701.6 1633.4 L698.3 1633.7 L694.5 1634 L690.3 1634.4 L685.4 1634.9 L679.9 1635.4 L674 1636 L667.7 1636.6 L661.1 1637.3 L654.2 1638 L647.1 1638.7 L639.9 1639.4 L632.7 1640.1 L625.4 1640.9 L618.2 1641.6 L611.2 1642.3 L604.3 1643 L597.5 1643.7 L590.8 1644.4 L584 1645 L577.3 1645.7 L570.5 1646.4 L563.7 1647.1 L557 1647.8 L550.2 1648.5 L543.5 1649.2 L536.7 1650 L530 1650.8 L523.2 1651.6 L516.4 1652.4 L509.7 1653.3 L502.9 1654.2 L496.2 1655 L489.4 1655.9 L482.7 1656.9 L476 1657.8 L469.2 1658.8 L462.5 1659.8 L455.7 1660.9 L449 1662 L442.2 1663.2 L435.4 1664.4 L428.5 1665.7 L421.6 1667.1 L414.6 1668.5 L407.6 1670 L400.7 1671.5 L393.8 1673 L387 1674.5 L380.3 1676 L373.7 1677.4 L367.3 1678.9 L361.1 1680.3 L354.9 1681.7 L348.6 1683.2 L342.2 1684.8 L335.8 1686.4 L329.5 1687.9 L323.5 1689.5 L317.7 1690.9 L312.3 1692.3 L307.3 1693.6 L302.9 1694.7 L299.1 1695.7 L296 1696.5 Z" fill="#999999" fill-opacity="0.35"/>
<path d="M296 1641.6 L299.1 1641.4 L302.9 1641.2 L307.3 1640.9 L312.3 1640.6 L317.7 1640.2 L323.5 1639.9 L329.5 1639.5 L335.8 1639.1 L342.2 1638.7 L348.6 1638.3 L354.9 1638 L361.1 1637.6 L367.3 1637.2 L373.7 1636.9 L380.3 1636.5 L387 1636.1 L393.8 1635.7 L400.7 1635.3 L407.6 1634.9 L414.6 1634.5 L421.6 1634.1 L428.5 1633.7 L435.4 1633.4 L442.2 1633 L449 1632.6 L455.7 1632.3 L462.5 1632 L469.2 1631.6 L476 1631.3 L482.7 1631 L489.4 1630.6 L496.2 1630.3 L502.9 1630 L509.7 1629.6 L516.4 1629.3 L523.2 1628.9 L530 1628.5 L536.7 1628.2 L543.5 1627.8 L550.2 1627.4 L557 1627.1 L563.7 1626.7 L570.5 1626.3 L577.3 1625.9 L584 1625.5 L590.8 1625 L597.5 1624.6 L604.3 1624.1 L611.2 1623.6 L618.2 1623.1 L625.4 1622.5 L632.7 1621.9 L639.9 1621.3 L647.1 1620.7 L654.2 1620.1 L661.1 1619.4 L667.7 1618.9 L674 1618.3 L679.9 1617.8 L685.4 1617.3 L690.3 1616.9 L694.5 1616.5 L698.3 1616.2 L701.6 1615.9 L704.7 1615.6 L707.7 1615.4 L710.7 1615.1 L713.8 1614.8 L717.1 1614.5 L720.9 1614.1 L725.1 1613.6 L730 1613.1 L735.5 1612.5 L741.4 1611.8 L747.7 1611 L754.3 1610.2 L761.2 1609.4 L768.3 1608.5 L775.5 1607.7 L782.7 1606.8 L790 1605.9 L797.2 1605.1 L804.2 1604.3 L811.1 1603.5 L817.9 1602.8 L824.6 1602 L831.4 1601.3 L838.1 1600.6 L844.9 1599.9 L851.7 1599.2 L858.4 1598.5 L865.2 1597.8 L871.9 1597.2 L878.7 1596.6 L885.4 1596 L892.2 1595.4 L899 1594.8 L905.7 1594.3 L912.5 1593.7 L919.2 1593.2 L926 1592.7 L932.7 1592.2 L939.4 1591.8 L946.2 1591.3 L952.9 1590.9 L959.7 1590.6 L966.4 1590.3 L973.2 1590 L980 1589.8 L987 1589.6 L994.1 1589.5 L1001.2 1589.4 L1008.4 1589.3 L1015.4 1589.3 L1022.4 1589.3 L1029.3 1589.3 L1035.9 1589.3 L1042.3 1589.4 L1048.5 1589.4 L1054.3 1589.5 L1059.7 1589.6 L1064.7 1589.7 L1069.3 1589.8 L1073.7 1589.9 L1077.9 1590 L1081.9 1590.2 L1086 1590.4 L1090.1 1590.6 L1094.3 1590.7 L1098.7 1591 L1103.4 1591.2 L1108.4 1591.4 L1113.7 1591.6 L1119.2 1591.9 L1124.8 1592.2 L1130.6 1592.5 L1136.5 1592.7 L1142.5 1593.1 L1148.6 1593.4 L1154.8 1593.7 L1161 1594 L1167.3 1594.3 L1173.6 1594.7 L1180 1595 L1186.4 1595.3 L1193 1595.6 L1199.6 1595.9 L1206.3 1596.2 L1213.1 1596.5 L1220 1596.9 L1226.8 1597.2 L1233.7 1597.5 L1240.6 1597.9 L1247.5 1598.3 L1254.3 1598.7 L1261.1 1599.2 L1267.9 1599.7 L1274.6 1600.2 L1281.4 1600.8 L1288.1 1601.4 L1294.9 1602 L1301.7 1602.6 L1308.4 1603.2 L1315.2 1603.9 L1321.9 1604.6 L1328.7 1605.3 L1335.4 1606 L1342.2 1606.8 L1349 1607.6 L1356 1608.4 L1363.1 1609.3 L1370.2 1610.2 L1377.3 1611.1 L1384.4 1612 L1391.4 1612.9 L1398.2 1613.9 L1404.8 1614.8 L1411.3 1615.8 L1417.4 1616.7 L1423.2 1617.6 L1428.7 1618.5 L1433.8 1619.4 L1438.6 1620.3 L1443.2 1621.2 L1447.6 1622.1 L1451.9 1623 L1456.1 1623.9 L1460.3 1624.8 L1464.4 1625.7 L1468.6 1626.6 L1472.9 1627.5 L1477.3 1628.4 L1481.8 1629.3 L1486.4 1630.3 L1491 1631.2 L1495.6 1632.2 L1500.2 1633.1 L1504.8 1634.1 L1509.4 1635 L1513.9 1636 L1518.4 1636.9 L1522.8 1637.8 L1527.2 1638.8 L1531.4 1639.7 L1535.7 1640.6 L1540.1 1641.6 L1544.7 1642.7 L1549.2 1643.7 L1553.7 1644.7 L1558.1 1645.8 L1562.3 1646.7 L1566.2 1647.6 L1569.8 1648.5 L1573 1649.2 L1575.8 1649.9 L1578 1650.4" fill="none" stroke="#6C7B8B" stroke-width="3.0" stroke-linejoin="round"/>
<g><line class="sg" x1="441.2" y1="1593.8" x2="474.9" y2="1609.5" stroke="#F8766D"/><line class="sg" x1="966.6" y1="1599.2" x2="1071.6" y2="1630" stroke="#F67963"/><line class="sg" x1="1600.9" y1="1708.1" x2="1460" y2="1677.8" stroke="#F37B59"/><line class="sg" x1="543.8" y1="1586.5" x2="690.5" y2="1630.5" stroke="#F27D53"/><line class="sg" x1="1197.1" y1="1616.2" x2="1188.9" y2="1627.8" stroke="#EF7F48"/><line class="sg" x1="1093.8" y1="1683.3" x2="1150" y2="1669.2" stroke="#ED8141"/><line class="sg" x1="1546.6" y1="1555.4" x2="1413.5" y2="1593.8" stroke="#EC823A"/><line class="sg" x1="1525.5" y1="1540" x2="1430.8" y2="1575.1" stroke="#EA8332"/><line class="sg" x1="1271.8" y1="1471.3" x2="1233" y2="1498.1" stroke="#E28900"/><line class="sg" x1="1328.2" y1="1678.1" x2="1302.7" y2="1665.9" stroke="#E08B00"/><line class="sg" x1="1681.3" y1="1530" x2="1430.8" y2="1615.1" stroke="#DE8C00"/><line class="sg" x1="977.9" y1="1513.2" x2="980" y2="1527.6" stroke="#DC8D00"/><line class="sg" x1="502.2" y1="1638.9" x2="542.2" y2="1632.7" stroke="#DA8E00"/><line class="sg" x1="875" y1="1550.5" x2="959.5" y2="1605.4" stroke="#D49200"/><line class="sg" x1="1199.7" y1="1686.5" x2="1188.9" y2="1668.9" stroke="#D29300"/><line class="sg" x1="1032.1" y1="1531.3" x2="1040.3" y2="1575.9" stroke="#D09400"/><line class="sg" x1="1083.7" y1="1546.7" x2="1059.5" y2="1580.8" stroke="#CD9500"/><line class="sg" x1="1289.9" y1="1669.8" x2="1272.7" y2="1662.4" stroke="#C99800"/><line class="sg" x1="343.4" y1="1615.9" x2="378.6" y2="1626.5" stroke="#C69900"/><line class="sg" x1="364.3" y1="1657.1" x2="386.5" y2="1643.8" stroke="#C49A00"/><line class="sg" x1="1625.8" y1="1545.6" x2="1466.8" y2="1598.6" stroke="#B99E00"/><line class="sg" x1="305.1" y1="1595.5" x2="423" y2="1622.4" stroke="#B69F00"/><line class="sg" x1="1136.3" y1="1702.2" x2="1186.5" y2="1659.5" stroke="#ADA200"/><line class="sg" x1="640.7" y1="1590.2" x2="731.6" y2="1621.4" stroke="#A7A400"/><line class="sg" x1="1112.6" y1="1659.5" x2="1147" y2="1641.9" stroke="#9DA700"/><line class="sg" x1="1380.9" y1="1687.8" x2="1328.4" y2="1668.1" stroke="#9AA800"/><line class="sg" x1="1661.7" y1="1593.7" x2="1509.7" y2="1623" stroke="#7EAE00"/><line class="sg" x1="950" y1="1531.9" x2="997" y2="1555.9" stroke="#6FB000"/><line class="sg" x1="1099.5" y1="1583.5" x2="1074.3" y2="1609.7" stroke="#6AB100"/><line class="sg" x1="927.1" y1="1624.8" x2="973.8" y2="1635.1" stroke="#64B200"/><line class="sg" x1="864.3" y1="1606.5" x2="894.1" y2="1619.5" stroke="#5EB200"/><line class="sg" x1="513.4" y1="1669.4" x2="598.1" y2="1646.2" stroke="#51B400"/><line class="sg" x1="463.6" y1="1669.1" x2="514.9" y2="1652.4" stroke="#35B600"/><line class="sg" x1="1119.2" y1="1563.8" x2="1100.3" y2="1599.7" stroke="#27B700"/><line class="sg" x1="1658.5" y1="1708.3" x2="1442.2" y2="1660" stroke="#11B700"/><line class="sg" x1="1462.7" y1="1592.1" x2="1402.7" y2="1605.4" stroke="#00B816"/><line class="sg" x1="1006.9" y1="1577.8" x2="1025.7" y2="1583.5" stroke="#00B824"/><line class="sg" x1="509.2" y1="1606.4" x2="609.2" y2="1632.7" stroke="#00B92E"/><line class="sg" x1="1228.8" y1="1625.2" x2="1206.8" y2="1628.1" stroke="#00B936"/><line class="sg" x1="1585.2" y1="1582.8" x2="1522.4" y2="1608.4" stroke="#00BA3D"/><line class="sg" x1="870.1" y1="1584.6" x2="896.5" y2="1610.5" stroke="#00BB44"/><line class="sg" x1="1368.8" y1="1623.8" x2="1316.5" y2="1643" stroke="#00BB4A"/><line class="sg" x1="1421.2" y1="1534.9" x2="1380" y2="1553.5" stroke="#00BC4F"/><line class="sg" x1="1107.4" y1="1445.4" x2="1088.9" y2="1444.1" stroke="#00BC55"/><line class="sg" x1="769" y1="1550.5" x2="850" y2="1587.3" stroke="#00BD5F"/><line class="sg" x1="296.3" y1="1633.9" x2="473.5" y2="1645.9" stroke="#00BD64"/><line class="sg" x1="391" y1="1633.2" x2="504.3" y2="1634.6" stroke="#00BE69"/><line class="sg" x1="659" y1="1551.7" x2="680.5" y2="1554.6" stroke="#00BE71"/><line class="sg" x1="725" y1="1531.6" x2="800" y2="1586.2" stroke="#00BF76"/><line class="sg" x1="1340.1" y1="1612.1" x2="1314.3" y2="1634.3" stroke="#00BF7A"/><line class="sg" x1="1583.9" y1="1651.1" x2="1473" y2="1647.3" stroke="#00BF7E"/><line class="sg" x1="772.1" y1="1708.7" x2="915.9" y2="1677" stroke="#00C082"/><line class="sg" x1="992.8" y1="1707.7" x2="1066.5" y2="1673" stroke="#00C086"/><line class="sg" x1="892.7" y1="1698.6" x2="1141.1" y2="1643.5" stroke="#00C08A"/><line class="sg" x1="1041.9" y1="1663.3" x2="1077.3" y2="1656.2" stroke="#00C08E"/><line class="sg" x1="1554.2" y1="1609.7" x2="1467.8" y2="1630" stroke="#00C092"/><line class="sg" x1="1599.9" y1="1502.4" x2="1348.1" y2="1573.8" stroke="#00C095"/><line class="sg" x1="1389.2" y1="1610.2" x2="1342.2" y2="1616.2" stroke="#00C199"/><line class="sg" x1="1153.2" y1="1583.2" x2="1115.4" y2="1603" stroke="#00C19D"/><line class="sg" x1="1633.1" y1="1670.1" x2="1463.2" y2="1659.5" stroke="#00C1A0"/><line class="sg" x1="1254.6" y1="1540.5" x2="1193.5" y2="1633" stroke="#00C1A4"/><line class="sg" x1="1159" y1="1672.5" x2="1193" y2="1653.5" stroke="#00C1A7"/><line class="sg" x1="784.2" y1="1654.1" x2="820.3" y2="1642.7" stroke="#00C1AB"/><line class="sg" x1="776.1" y1="1461.4" x2="826.5" y2="1469.2" stroke="#00C0AE"/><line class="sg" x1="1477.7" y1="1654.3" x2="1417.6" y2="1653.5" stroke="#00C0B1"/><line class="sg" x1="916.5" y1="1685.4" x2="968.6" y2="1668.6" stroke="#00C0B5"/><line class="sg" x1="649.8" y1="1566.3" x2="755.9" y2="1631.9" stroke="#00C0B8"/><line class="sg" x1="1492.8" y1="1675.8" x2="1388.4" y2="1653.8" stroke="#00C0BB"/><line class="sg" x1="1242.5" y1="1596.5" x2="1229.2" y2="1611.6" stroke="#00C0BE"/><line class="sg" x1="405.4" y1="1613.7" x2="503" y2="1620.3" stroke="#00BFC4"/><line class="sg" x1="1606.9" y1="1688.8" x2="1435.9" y2="1658.9" stroke="#00BECA"/><line class="sg" x1="513.2" y1="1688.5" x2="591.9" y2="1654.9" stroke="#00BDD0"/><line class="sg" x1="1265" y1="1641.9" x2="1224.9" y2="1632.2" stroke="#00BCD6"/><line class="sg" x1="1040.1" y1="1492.4" x2="1055.7" y2="1557.3" stroke="#00BCD8"/><line class="sg" x1="323.6" y1="1645.7" x2="347.8" y2="1643" stroke="#00BBDB"/><line class="sg" x1="1422.5" y1="1632" x2="1334.3" y2="1646.5" stroke="#00BADE"/><line class="sg" x1="852.3" y1="1508.7" x2="913.2" y2="1541.1" stroke="#00BAE0"/><line class="sg" x1="1235.7" y1="1558.9" x2="1180.3" y2="1619.2" stroke="#00B8E5"/><line class="sg" x1="903.5" y1="1461.3" x2="938.1" y2="1473.8" stroke="#00B6EA"/><line class="sg" x1="1715.6" y1="1632.1" x2="1531.9" y2="1646.7" stroke="#00B6EC"/><line class="sg" x1="1400.4" y1="1708.3" x2="1323.5" y2="1673.8" stroke="#00B4F0"/><line class="sg" x1="803.8" y1="1570.2" x2="892.4" y2="1618.4" stroke="#00B2F2"/><line class="sg" x1="392.1" y1="1596" x2="454.9" y2="1612.4" stroke="#00B1F4"/><line class="sg" x1="575.3" y1="1687.6" x2="838.9" y2="1631.4" stroke="#00B0F6"/><line class="sg" x1="960.2" y1="1575" x2="993.8" y2="1587.3" stroke="#00AFF8"/><line class="sg" x1="607.8" y1="1681.4" x2="652.7" y2="1673.2" stroke="#00ACFB"/><line class="sg" x1="1584.7" y1="1601.3" x2="1495.1" y2="1624.1" stroke="#00ABFD"/><line class="sg" x1="690.1" y1="1689.4" x2="820.5" y2="1648.1" stroke="#00A8FF"/><line class="sg" x1="576.1" y1="1706.4" x2="782.7" y2="1644.1" stroke="#00A7FF"/><line class="sg" x1="1251.6" y1="1702.2" x2="1240" y2="1672.2" stroke="#10A4FF"/><line class="sg" x1="1641.7" y1="1632.1" x2="1546.5" y2="1640" stroke="#41A0FF"/><line class="sg" x1="1353" y1="1593.5" x2="1282.2" y2="1623.5" stroke="#4F9FFF"/><line class="sg" x1="634.4" y1="1708.4" x2="783.5" y2="1668.4" stroke="#5A9DFF"/><line class="sg" x1="1281.7" y1="1514.7" x2="1246.2" y2="1504.9" stroke="#649BFF"/><line class="sg" x1="1148.9" y1="1601.9" x2="1162.7" y2="1618.6" stroke="#7698FF"/><line class="sg" x1="476.4" y1="1547.6" x2="624.1" y2="1597" stroke="#7E96FF"/><line class="sg" x1="1026" y1="1550.2" x2="1027.6" y2="1562.4" stroke="#8594FF"/><line class="sg" x1="976.6" y1="1618.1" x2="1075.9" y2="1638.9" stroke="#8C92FF"/><line class="sg" x1="1431.7" y1="1686.9" x2="1353.8" y2="1660.8" stroke="#988EFF"/><line class="sg" x1="1391.7" y1="1558.4" x2="1227.6" y2="1615.7" stroke="#9E8CFF"/><line class="sg" x1="1560.9" y1="1590.8" x2="1418.1" y2="1626.5" stroke="#A989FF"/><line class="sg" x1="1669.8" y1="1688.9" x2="1491.9" y2="1665.9" stroke="#AE87FF"/><line class="sg" x1="1353.2" y1="1702.2" x2="1273" y2="1676.5" stroke="#B883FF"/><line class="sg" x1="1105.2" y1="1497.3" x2="1095.7" y2="1548.4" stroke="#C97BFF"/><line class="sg" x1="1059.9" y1="1457.6" x2="1030" y2="1442.7" stroke="#CD79FF"/><line class="sg" x1="1538.5" y1="1669.9" x2="1494.6" y2="1663.2" stroke="#D476FE"/><line class="sg" x1="744.9" y1="1588.9" x2="786.5" y2="1608.4" stroke="#D774FD"/><line class="sg" x1="1423.9" y1="1553" x2="1359.5" y2="1575.7" stroke="#DA72FB"/><line class="sg" x1="466.7" y1="1650.8" x2="514.6" y2="1649.5" stroke="#E66CF4"/><line class="sg" x1="1535.2" y1="1689.1" x2="1435.1" y2="1670.5" stroke="#E86BF2"/><line class="sg" x1="1476" y1="1707.5" x2="1351.1" y2="1669.7" stroke="#EA69F0"/><line class="sg" x1="1524.4" y1="1653.8" x2="1410" y2="1651.6" stroke="#ED68EE"/><line class="sg" x1="1133.8" y1="1422.7" x2="1108.6" y2="1433.5" stroke="#F166E9"/><line class="sg" x1="301.9" y1="1582.4" x2="365.9" y2="1613" stroke="#F365E7"/><line class="sg" x1="1289.9" y1="1612.4" x2="1274.6" y2="1622.2" stroke="#F464E4"/><line class="sg" x1="1030" y1="1701.9" x2="1149.2" y2="1660.5" stroke="#F663E2"/><line class="sg" x1="965.8" y1="1556.5" x2="1023.8" y2="1580" stroke="#F962DC"/><line class="sg" x1="1669" y1="1650.2" x2="1577.8" y2="1645.1" stroke="#FB61D7"/><line class="sg" x1="930.4" y1="1637.3" x2="1003.8" y2="1636.5" stroke="#FC61D4"/><line class="sg" x1="1602.3" y1="1612.6" x2="1469.7" y2="1634.3" stroke="#FD61D1"/><line class="sg" x1="695.1" y1="1708.8" x2="853" y2="1677.8" stroke="#FE61CE"/><line class="sg" x1="644.8" y1="1668" x2="673.8" y2="1645.4" stroke="#FF61C8"/><line class="sg" x1="538.7" y1="1651.6" x2="607" y2="1641.6" stroke="#FF61C5"/><line class="sg" x1="1309.8" y1="1480.7" x2="1273.8" y2="1485.9" stroke="#FF62BB"/><line class="sg" x1="1097" y1="1617" x2="1113.5" y2="1636.8" stroke="#FF63B8"/><line class="sg" x1="1020.4" y1="1686.5" x2="1113.5" y2="1652.4" stroke="#FF63B4"/><line class="sg" x1="888.2" y1="1513.2" x2="917.8" y2="1519.5" stroke="#FF64B1"/><line class="sg" x1="1159.2" y1="1562.4" x2="1170" y2="1607.6" stroke="#FF65AD"/><line class="sg" x1="439.3" y1="1574" x2="634.3" y2="1636.2" stroke="#FF66AA"/><line class="sg" x1="1296.5" y1="1688.1" x2="1258.9" y2="1671.9" stroke="#FF66A6"/><line class="sg" x1="1457.7" y1="1571.3" x2="1423" y2="1596.5" stroke="#FF67A3"/><line class="sg" x1="1546.9" y1="1632.1" x2="1440.5" y2="1640.8" stroke="#FF689F"/><line class="sg" x1="657.2" y1="1603.8" x2="677.3" y2="1630.8" stroke="#FF699B"/><line class="sg" x1="1455.5" y1="1514.6" x2="1371.9" y2="1561.9" stroke="#FF6A97"/><line class="sg" x1="1491.3" y1="1488.6" x2="1447" y2="1510.3" stroke="#FF6B93"/><line class="sg" x1="1184.5" y1="1541.3" x2="1182.4" y2="1598.6" stroke="#FF6D8F"/><line class="sg" x1="928.4" y1="1708.7" x2="1077.3" y2="1670.5" stroke="#FE6E8B"/><line class="sg" x1="974.1" y1="1666.9" x2="1013" y2="1651.6" stroke="#FC717F"/><line class="sg" x1="762.1" y1="1608.1" x2="787.3" y2="1631.9" stroke="#FA7476"/></g>
<g><text class="lb" x="401.1" y="1591.2" fill="#F8766D">Afghanistan</text>
<text class="lb" x="1145.9" y="1653.9" fill="#F77768">Albania</text>
<text class="lb" x="945.1" y="1596.6" fill="#F67963">Algeria</text>
<text class="lb" x="1108.1" y="1285.2" fill="#F47A5E">American Samoa</text>
<text class="lb" x="1603.5" y="1713" fill="#F37B59">Andorra</text>
<text class="lb" x="502.7" y="1590.3" fill="#F27D53">Angola</text>
<text class="lb" x="1171.9" y="1449" fill="#F07E4E">Antigua and Barbuda</text>
<text class="lb" x="1170.8" y="1613.6" fill="#EF7F48">Argentina</text>
<text class="lb" x="1064.6" y="1694.7" fill="#ED8141">Armenia</text>
<text class="lb" x="1549.2" y="1559.3" fill="#EC823A">Australia</text>
<text class="lb" x="1508.1" y="1537.4" fill="#EA8332">Austria</text>
<text class="lb" x="1128.6" y="1634.4" fill="#E98429">Azerbaijan</text>
<text class="lb" x="1348.1" y="1349" fill="#E7861D">Bahamas</text>
<text class="lb" x="1258.6" y="1501.4" fill="#E5870A">Bahrain</text>
<text class="lb" x="698.1" y="1694.7" fill="#E48800">Bangladesh</text>
<text class="lb" x="1247.8" y="1468.7" fill="#E28900">Barbados</text>
<text class="lb" x="1330.8" y="1684.9" fill="#E08B00">Belarus</text>
<text class="lb" x="1660" y="1527.4" fill="#DE8C00">Belgium</text>
<text class="lb" x="961.1" y="1510.6" fill="#DC8D00">Belize</text>
<text class="lb" x="480.5" y="1650.3" fill="#DA8E00">Benin</text>
<text class="lb" x="1348.4" y="1537.4" fill="#D88F00">Bermuda</text>
<text class="lb" x="697" y="1675.5" fill="#D69100">Bhutan</text>
<text class="lb" x="784.6" y="1547.9" fill="#D49200">Bolivia (Plurinational State of)</text>
<text class="lb" x="1132.4" y="1697.9" fill="#D29300">Bosnia and Herzegovina</text>
<text class="lb" x="1004.9" y="1528.7" fill="#D09400">Botswana</text>
<text class="lb" x="1068.6" y="1544.1" fill="#CD9500">Brazil</text>
<text class="lb" x="1334.3" y="1504.9" fill="#CB9600">Brunei Darussalam</text>
<text class="lb" x="1274.3" y="1681.2" fill="#C99800">Bulgaria</text>
<text class="lb" x="267.8" y="1618.5" fill="#C69900">Burkina Faso</text>
<text class="lb" x="339.7" y="1668.5" fill="#C49A00">Burundi</text>
<text class="lb" x="773.5" y="1683.9" fill="#C19B00">Cabo Verde</text>
<text class="lb" x="669.5" y="1624.9" fill="#BE9C00">Cambodia</text>
<text class="lb" x="672.2" y="1606" fill="#BC9D00">Cameroon</text>
<text class="lb" x="1605.7" y="1543" fill="#B99E00">Canada</text>
<text class="lb" x="169.7" y="1599.3" fill="#B69F00">Central African Republic</text>
<text class="lb" x="259.2" y="1665.5" fill="#B3A000">Chad</text>
<text class="lb" x="1285.9" y="1629.3" fill="#B0A100">Chile</text>
<text class="lb" x="1119.5" y="1713.6" fill="#ADA200">China</text>
<text class="lb" x="1013" y="1636.3" fill="#AAA300">Colombia</text>
<text class="lb" x="612.2" y="1587.6" fill="#A7A400">Comoros</text>
<text class="lb" x="897.6" y="1602.2" fill="#A4A500">Congo</text>
<text class="lb" x="1286.8" y="1555.8" fill="#A1A600">Cook Islands</text>
<text class="lb" x="1076.8" y="1670.9" fill="#9DA700">Costa Rica</text>
<text class="lb" x="1383.5" y="1693.6" fill="#9AA800">Croatia</text>
<text class="lb" x="1041.6" y="1655.5" fill="#96A900">Cuba</text>
<text class="lb" x="1381.6" y="1575.5" fill="#93AA00">Cyprus</text>
<text class="lb" x="1369.5" y="1645.8" fill="#8FAA00">Czechia</text>
<text class="lb" x="613.5" y="1644.9" fill="#8BAB00">Côte d&#x27;Ivoire</text>
<text class="lb" x="743.2" y="1664.9" fill="#87AC00">Democratic People&#x27;s Republic of Korea</text>
<text class="lb" x="354.3" y="1636.6" fill="#82AD00">Democratic Republic of the Congo</text>
<text class="lb" x="1664.3" y="1597.6" fill="#7EAE00">Denmark</text>
<text class="lb" x="693.8" y="1644.9" fill="#79AF00">Djibouti</text>
<text class="lb" x="1196.5" y="1487.6" fill="#74AF00">Dominica</text>
<text class="lb" x="883.8" y="1529.3" fill="#6FB000">Dominican Republic</text>
<text class="lb" x="1077.6" y="1580.9" fill="#6AB100">Ecuador</text>
<text class="lb" x="907" y="1622.2" fill="#64B200">Egypt</text>
<text class="lb" x="824.1" y="1603.9" fill="#5EB200">El Salvador</text>
<text class="lb" x="994.3" y="1596.6" fill="#58B300">Equatorial Guinea</text>
<text class="lb" x="474.3" y="1674.7" fill="#51B400">Eritrea</text>
<text class="lb" x="1425.9" y="1654.1" fill="#49B500">Estonia</text>
<text class="lb" x="881.6" y="1439.8" fill="#40B500">Eswatini</text>
<text class="lb" x="416.2" y="1674.9" fill="#35B600">Ethiopia</text>
<text class="lb" x="1111.4" y="1561.2" fill="#27B700">Fiji</text>
<text class="lb" x="1661.1" y="1713" fill="#11B700">Finland</text>
<text class="lb" x="1448.1" y="1589.5" fill="#00B816">France</text>
<text class="lb" x="979.7" y="1575.2" fill="#00B824">Gabon</text>
<text class="lb" x="463.2" y="1610.1" fill="#00B92E">Gambia</text>
<text class="lb" x="1231.4" y="1629.3" fill="#00B936">Georgia</text>
<text class="lb" x="1587.8" y="1586" fill="#00BA3D">Germany</text>
<text class="lb" x="850.5" y="1582" fill="#00BB44">Ghana</text>
<text class="lb" x="1371.4" y="1626.8" fill="#00BB4A">Greece</text>
<text class="lb" x="1423.8" y="1537.6" fill="#00BC4F">Greenland</text>
<text class="lb" x="1110" y="1449.8" fill="#00BC55">Grenada</text>
<text class="lb" x="1325.7" y="1630.3" fill="#00BC5A">Guam</text>
<text class="lb" x="735.1" y="1547.9" fill="#00BD5F">Guatemala</text>
<text class="lb" x="253.8" y="1638.2" fill="#00BD64">Guinea</text>
<text class="lb" x="304.1" y="1637.6" fill="#00BE69">Guinea−Bissau</text>
<text class="lb" x="1056.8" y="1436" fill="#00BE6D">Guyana</text>
<text class="lb" x="631.6" y="1555.8" fill="#00BE71">Haiti</text>
<text class="lb" x="696.8" y="1529" fill="#00BF76">Honduras</text>
<text class="lb" x="1318.4" y="1609.5" fill="#00BF7A">Hungary</text>
<text class="lb" x="1586.5" y="1655.5" fill="#00BF7E">Iceland</text>
<text class="lb" x="742.7" y="1713.6" fill="#00C082">India</text>
<text class="lb" x="936.5" y="1713" fill="#00C086">Indonesia</text>
<text class="lb" x="753.2" y="1703.3" fill="#00C08A">Iran (Islamic Republic of)</text>
<text class="lb" x="1028.1" y="1674.7" fill="#00C08E">Iraq</text>
<text class="lb" x="1538.4" y="1607.1" fill="#00C092">Ireland</text>
<text class="lb" x="1585.4" y="1499.8" fill="#00C095">Israel</text>
<text class="lb" x="1381.1" y="1607.6" fill="#00C199">Italy</text>
<text class="lb" x="1133.5" y="1580.6" fill="#00C19D">Jamaica</text>
<text class="lb" x="1635.7" y="1674.7" fill="#00C1A0">Japan</text>
<text class="lb" x="1235.9" y="1537.9" fill="#00C1A4">Jordan</text>
<text class="lb" x="1121.4" y="1683.9" fill="#00C1A7">Kazakhstan</text>
<text class="lb" x="746.5" y="1660.3" fill="#00C1AB">Kenya</text>
<text class="lb" x="735.7" y="1464.9" fill="#00C0AE">Kiribati</text>
<text class="lb" x="1480.3" y="1658.7" fill="#00C0B1">Kuwait</text>
<text class="lb" x="852.7" y="1691.2" fill="#00C0B5">Kyrgyzstan</text>
<text class="lb" x="458.4" y="1570.1" fill="#00C0B8">Lao People&#x27;s Democratic Republic</text>
<text class="lb" x="1495.4" y="1680.9" fill="#00C0BB">Latvia</text>
<text class="lb" x="1218.9" y="1593.9" fill="#00C0BE">Lebanon</text>
<text class="lb" x="744.3" y="1484.1" fill="#00BFC1">Lesotho</text>
<text class="lb" x="365.7" y="1617.9" fill="#00BFC4">Liberia</text>
<text class="lb" x="1189.2" y="1575.2" fill="#00BFC7">Libya</text>
<text class="lb" x="1609.5" y="1693.6" fill="#00BECA">Lithuania</text>
<text class="lb" x="1458.9" y="1620.3" fill="#00BECD">Luxembourg</text>
<text class="lb" x="442.4" y="1693.9" fill="#00BDD0">Madagascar</text>
<text class="lb" x="517.6" y="1625.2" fill="#00BDD3">Malawi</text>
<text class="lb" x="1267.6" y="1647.9" fill="#00BCD6">Malaysia</text>
<text class="lb" x="1015.7" y="1489.8" fill="#00BCD8">Maldives</text>
<text class="lb" x="306.5" y="1657.1" fill="#00BBDB">Mali</text>
<text class="lb" x="1425.1" y="1635.8" fill="#00BADE">Malta</text>
<text class="lb" x="760.3" y="1512" fill="#00BAE0">Marshall Islands</text>
<text class="lb" x="738.4" y="1625.8" fill="#00B9E3">Mauritania</text>
<text class="lb" x="1211.4" y="1556.3" fill="#00B8E5">Mauritius</text>
<text class="lb" x="1060.8" y="1562.8" fill="#00B7E7">Mexico</text>
<text class="lb" x="784.1" y="1458.7" fill="#00B6EA">Micronesia (Federated States of)</text>
<text class="lb" x="1718.2" y="1636.3" fill="#00B6EC">Monaco</text>
<text class="lb" x="981.1" y="1656" fill="#00B5EE">Mongolia</text>
<text class="lb" x="1403" y="1713.6" fill="#00B4F0">Montenegro</text>
<text class="lb" x="778.4" y="1567.6" fill="#00B2F2">Morocco</text>
<text class="lb" x="318.6" y="1599.3" fill="#00B1F4">Mozambique</text>
<text class="lb" x="521.1" y="1692.2" fill="#00B0F6">Myanmar</text>
<text class="lb" x="912.2" y="1577.4" fill="#00AFF8">Namibia</text>
<text class="lb" x="966.5" y="1488.5" fill="#00AEFA">Nauru</text>
<text class="lb" x="586.5" y="1692.8" fill="#00ACFB">Nepal</text>
<text class="lb" x="1587.3" y="1604.9" fill="#00ABFD">Netherlands</text>
<text class="lb" x="1413.2" y="1607.9" fill="#00AAFE">New Zealand</text>
<text class="lb" x="631.1" y="1694.4" fill="#00A8FF">Nicaragua</text>
<text class="lb" x="534.3" y="1711.2" fill="#00A7FF">Nigeria</text>
<text class="lb" x="1159.5" y="1493.3" fill="#00A5FF">Niue</text>
<text class="lb" x="1204.6" y="1713.6" fill="#10A4FF">North Macedonia</text>
<text class="lb" x="1229.5" y="1575.2" fill="#2FA2FF">Northern Mariana Islands</text>
<text class="lb" x="1644.3" y="1636.3" fill="#41A0FF">Norway</text>
<text class="lb" x="1337.8" y="1590.9" fill="#4F9FFF">Oman</text>
<text class="lb" x="584.3" y="1713.3" fill="#5A9DFF">Pakistan</text>
<text class="lb" x="1284.3" y="1520.9" fill="#649BFF">Palau</text>
<text class="lb" x="950.8" y="1633.9" fill="#6D9AFF">Palestine</text>
<text class="lb" x="1125.4" y="1599.3" fill="#7698FF">Panama</text>
<text class="lb" x="366.5" y="1551.4" fill="#7E96FF">Papua New Guinea</text>
<text class="lb" x="999.5" y="1547.6" fill="#8594FF">Paraguay</text>
<text class="lb" x="961.9" y="1615.5" fill="#8C92FF">Peru</text>
<text class="lb" x="998.9" y="1615.2" fill="#9290FF">Philippines</text>
<text class="lb" x="1434.3" y="1692.2" fill="#988EFF">Poland</text>
<text class="lb" x="1370.3" y="1555.8" fill="#9E8CFF">Portugal</text>
<text class="lb" x="1311.6" y="1439.5" fill="#A48BFF">Puerto Rico</text>
<text class="lb" x="1546.8" y="1588.2" fill="#A989FF">Qatar</text>
<text class="lb" x="1672.4" y="1693.6" fill="#AE87FF">Republic of Korea</text>
<text class="lb" x="1176.2" y="1667.1" fill="#B385FF">Republic of Moldova</text>
<text class="lb" x="1332.4" y="1713.6" fill="#B883FF">Romania</text>
<text class="lb" x="1358.6" y="1673.6" fill="#BD81FF">Russian Federation</text>
<text class="lb" x="607.3" y="1625.2" fill="#C17FFF">Rwanda</text>
<text class="lb" x="1134.3" y="1513.3" fill="#C57DFF">Saint Kitts and Nevis</text>
<text class="lb" x="1074.6" y="1494.7" fill="#C97BFF">Saint Lucia</text>
<text class="lb" x="975.1" y="1469" fill="#CD79FF">Saint Vincent and the Grenadines</text>
<text class="lb" x="910.8" y="1502" fill="#D077FF">Samoa</text>
<text class="lb" x="1541.1" y="1675.2" fill="#D476FE">San Marino</text>
<text class="lb" x="668.1" y="1586.3" fill="#D774FD">Sao Tome and Principe</text>
<text class="lb" x="1426.5" y="1556.3" fill="#DA72FB">Saudi Arabia</text>
<text class="lb" x="556.8" y="1644.9" fill="#DD71FA">Senegal</text>
<text class="lb" x="1321.1" y="1660.9" fill="#E06FF8">Serbia</text>
<text class="lb" x="1197.6" y="1647.6" fill="#E36EF6">Seychelles</text>
<text class="lb" x="393.2" y="1655.2" fill="#E66CF4">Sierra Leone</text>
<text class="lb" x="1537.8" y="1694.1" fill="#E86BF2">Singapore</text>
<text class="lb" x="1478.6" y="1712.5" fill="#EA69F0">Slovakia</text>
<text class="lb" x="1527" y="1658.2" fill="#ED68EE">Slovenia</text>
<text class="lb" x="564.6" y="1533.3" fill="#EF67EC">Solomon Islands</text>
<text class="lb" x="1110.5" y="1420.1" fill="#F166E9">South Africa</text>
<text class="lb" x="260.8" y="1579.8" fill="#F365E7">South Sudan</text>
<text class="lb" x="1276.2" y="1609.8" fill="#F464E4">Spain</text>
<text class="lb" x="1001.1" y="1713.3" fill="#F663E2">Sri Lanka</text>
<text class="lb" x="808.1" y="1622.8" fill="#F763DF">Sudan</text>
<text class="lb" x="934.9" y="1553.9" fill="#F962DC">Suriname</text>
<text class="lb" x="1498.6" y="1638.5" fill="#FA62DA">Sweden</text>
<text class="lb" x="1671.6" y="1654.7" fill="#FB61D7">Switzerland</text>
<text class="lb" x="812.2" y="1641.7" fill="#FC61D4">Syrian Arab Republic</text>
<text class="lb" x="1604.9" y="1616.6" fill="#FD61D1">Taiwan (Province of China)</text>
<text class="lb" x="641.6" y="1713.6" fill="#FE61CE">Tajikistan</text>
<text class="lb" x="1075.1" y="1630.1" fill="#FF61CB">Thailand</text>
<text class="lb" x="573.5" y="1674.1" fill="#FF61C8">Timor−Leste</text>
<text class="lb" x="522.4" y="1663" fill="#FF61C5">Togo</text>
<text class="lb" x="1109.5" y="1530.1" fill="#FF61C2">Tokelau</text>
<text class="lb" x="1011.6" y="1509.8" fill="#FF62BE">Tonga</text>
<text class="lb" x="1312.4" y="1484.4" fill="#FF62BB">Trinidad and Tobago</text>
<text class="lb" x="1076.8" y="1614.4" fill="#FF63B8">Tunisia</text>
<text class="lb" x="943.2" y="1691.7" fill="#FF63B4">Turkmenistan</text>
<text class="lb" x="861.9" y="1510.6" fill="#FF64B1">Tuvalu</text>
<text class="lb" x="1138.9" y="1559.8" fill="#FF65AD">Türkiye</text>
<text class="lb" x="416.2" y="1571.4" fill="#FF66AA">Uganda</text>
<text class="lb" x="1279.2" y="1699.5" fill="#FF66A6">Ukraine</text>
<text class="lb" x="1460.3" y="1574.1" fill="#FF67A3">United Arab Emirates</text>
<text class="lb" x="1549.5" y="1636.3" fill="#FF689F">United Kingdom</text>
<text class="lb" x="500.7" y="1606.6" fill="#FF699B">United Republic of Tanzania</text>
<text class="lb" x="1458.1" y="1518.2" fill="#FF6A97">United States Virgin Islands</text>
<text class="lb" x="1435.4" y="1486" fill="#FF6B93">United States of America</text>
<text class="lb" x="1161.1" y="1538.7" fill="#FF6D8F">Uruguay</text>
<text class="lb" x="864.6" y="1713.6" fill="#FE6E8B">Uzbekistan</text>
<text class="lb" x="667.8" y="1547.9" fill="#FD6F87">Vanuatu</text>
<text class="lb" x="837.3" y="1653" fill="#FD7083">Venezuela (Bolivarian Republic of)</text>
<text class="lb" x="920.8" y="1673" fill="#FC717F">Viet Nam</text>
<text class="lb" x="648.9" y="1663.3" fill="#FB727A">Yemen</text>
<text class="lb" x="740.3" y="1605.5" fill="#FA7476">Zambia</text>
<text class="lb" x="671.4" y="1567.1" fill="#F97572">Zimbabwe</text></g>
<path d="M147.1 1249.6 V1718.2 H1776" fill="none" stroke="#000" stroke-width="1.4" stroke-linejoin="miter"/>
<line x1="221.3" y1="1718.2" x2="221.3" y2="1721.9" stroke="#333" stroke-width="1.4"/>
<text class="ax" text-anchor="middle" transform="translate(221.3 1742.1) scale(1 1.05)">0.2</text>
<line x1="406.4" y1="1718.2" x2="406.4" y2="1721.9" stroke="#333" stroke-width="1.4"/>
<text class="ax" text-anchor="middle" transform="translate(406.4 1742.1) scale(1 1.05)">0.3</text>
<line x1="591.5" y1="1718.2" x2="591.5" y2="1721.9" stroke="#333" stroke-width="1.4"/>
<text class="ax" text-anchor="middle" transform="translate(591.5 1742.1) scale(1 1.05)">0.4</text>
<line x1="776.6" y1="1718.2" x2="776.6" y2="1721.9" stroke="#333" stroke-width="1.4"/>
<text class="ax" text-anchor="middle" transform="translate(776.6 1742.1) scale(1 1.05)">0.5</text>
<line x1="961.7" y1="1718.2" x2="961.7" y2="1721.9" stroke="#333" stroke-width="1.4"/>
<text class="ax" text-anchor="middle" transform="translate(961.7 1742.1) scale(1 1.05)">0.6</text>
<line x1="1146.8" y1="1718.2" x2="1146.8" y2="1721.9" stroke="#333" stroke-width="1.4"/>
<text class="ax" text-anchor="middle" transform="translate(1146.8 1742.1) scale(1 1.05)">0.7</text>
<line x1="1331.9" y1="1718.2" x2="1331.9" y2="1721.9" stroke="#333" stroke-width="1.4"/>
<text class="ax" text-anchor="middle" transform="translate(1331.9 1742.1) scale(1 1.05)">0.8</text>
<line x1="1517" y1="1718.2" x2="1517" y2="1721.9" stroke="#333" stroke-width="1.4"/>
<text class="ax" text-anchor="middle" transform="translate(1517 1742.1) scale(1 1.05)">0.9</text>
<line x1="1702.1" y1="1718.2" x2="1702.1" y2="1721.9" stroke="#333" stroke-width="1.4"/>
<text class="ax" text-anchor="middle" transform="translate(1702.1 1742.1) scale(1 1.05)">1.0</text>
<line x1="143.4" y1="1333.5" x2="147.1" y2="1333.5" stroke="#333" stroke-width="1.4"/>
<text class="ax" text-anchor="end" transform="translate(139.8 1342.6) scale(1 1.05)">15</text>
<line x1="143.4" y1="1451.5" x2="147.1" y2="1451.5" stroke="#333" stroke-width="1.4"/>
<text class="ax" text-anchor="end" transform="translate(139.8 1460.6) scale(1 1.05)">10</text>
<line x1="143.4" y1="1569.5" x2="147.1" y2="1569.5" stroke="#333" stroke-width="1.4"/>
<text class="ax" text-anchor="end" transform="translate(139.8 1578.6) scale(1 1.05)">5</text>
<line x1="143.4" y1="1687.5" x2="147.1" y2="1687.5" stroke="#333" stroke-width="1.4"/>
<text class="ax" text-anchor="end" transform="translate(139.8 1696.6) scale(1 1.05)">0</text>
<text class="at" transform="translate(958 1768.3) scale(1 1.04)">SDI</text>
<text class="tt" x="961.5" y="1236.2">Deaths</text>
<text class="tg" transform="translate(6.2 1214.3) scale(1 1.04)">C</text>
<text class="at" transform="translate(41.7 1483.9) rotate(-90)">Deaths Age−standardised rate</text>
<text class="at" transform="translate(68.9 1481.3) rotate(-90)">per 100,000 population</text>
<text class="an" transform="translate(313.6 1285.3) scale(1 1.04)">R = −0.013</text>
<text class="an" transform="translate(313.6 1313.8) scale(1 1.04)">P = 0.856</text>
</g>
<g id="panelD">
<g><circle cx="474.9" cy="2164.6" r="2.2" fill="#F8766D"/><circle cx="1158.9" cy="2200.5" r="2.2" fill="#F77768"/><circle cx="1071.6" cy="2201.4" r="2.2" fill="#F67963"/><circle cx="1190.3" cy="1867" r="2.2" fill="#F47A5E"/><circle cx="1460" cy="2261.1" r="2.2" fill="#F37B59"/><circle cx="690.5" cy="2200.3" r="2.2" fill="#F27D53"/><circle cx="1238.9" cy="2030.8" r="2.2" fill="#F07E4E"/><circle cx="1188.9" cy="2213.8" r="2.2" fill="#EF7F48"/><circle cx="1150" cy="2241.4" r="2.2" fill="#ED8141"/><circle cx="1413.5" cy="2201.6" r="2.2" fill="#EC823A"/><circle cx="1430.8" cy="2173.8" r="2.2" fill="#EA8332"/><circle cx="1136.8" cy="2185.1" r="2.2" fill="#E98429"/><circle cx="1340.5" cy="1883.2" r="2.2" fill="#E7861D"/><circle cx="1244.6" cy="2111.4" r="2.2" fill="#E5870A"/><circle cx="762.2" cy="2251.6" r="2.2" fill="#E48800"/><circle cx="1233" cy="2060" r="2.2" fill="#E28900"/><circle cx="1302.7" cy="2230.8" r="2.2" fill="#E08B00"/><circle cx="1430.8" cy="2197.6" r="2.2" fill="#DE8C00"/><circle cx="980" cy="2075.1" r="2.2" fill="#DC8D00"/><circle cx="542.2" cy="2211.6" r="2.2" fill="#DA8E00"/><circle cx="1370.8" cy="2128.6" r="2.2" fill="#D88F00"/><circle cx="726.5" cy="2245.7" r="2.2" fill="#D69100"/><circle cx="959.5" cy="2181.6" r="2.2" fill="#D49200"/><circle cx="1188.9" cy="2240.5" r="2.2" fill="#D29300"/><circle cx="1040.3" cy="2142.4" r="2.2" fill="#D09400"/><circle cx="1059.5" cy="2164.3" r="2.2" fill="#CD9500"/><circle cx="1350.3" cy="2111.6" r="2.2" fill="#CB9600"/><circle cx="1272.7" cy="2230.8" r="2.2" fill="#C99800"/><circle cx="378.6" cy="2203" r="2.2" fill="#C69900"/><circle cx="386.5" cy="2225.7" r="2.2" fill="#C49A00"/><circle cx="838.1" cy="2251.9" r="2.2" fill="#C19B00"/><circle cx="727.6" cy="2170" r="2.2" fill="#BE9C00"/><circle cx="738.6" cy="2200" r="2.2" fill="#BC9D00"/><circle cx="1466.8" cy="2182.7" r="2.2" fill="#B99E00"/><circle cx="423" cy="2189.2" r="2.2" fill="#B69F00"/><circle cx="295.7" cy="2229.7" r="2.2" fill="#B3A000"/><circle cx="1278.9" cy="2230" r="2.2" fill="#B0A100"/><circle cx="1186.5" cy="2189.2" r="2.2" fill="#ADA200"/><circle cx="1063.8" cy="2214.6" r="2.2" fill="#AAA300"/><circle cx="731.6" cy="2204.1" r="2.2" fill="#A7A400"/><circle cx="930" cy="2181.6" r="2.2" fill="#A4A500"/><circle cx="1292.7" cy="2123.8" r="2.2" fill="#A1A600"/><circle cx="1147" cy="2221.6" r="2.2" fill="#9DA700"/><circle cx="1328.4" cy="2244.6" r="2.2" fill="#9AA800"/><circle cx="1088.6" cy="2198.1" r="2.2" fill="#96A900"/><circle cx="1397.3" cy="2196.8" r="2.2" fill="#93AA00"/><circle cx="1384.3" cy="2224.9" r="2.2" fill="#8FAA00"/><circle cx="639.2" cy="2218.6" r="2.2" fill="#8BAB00"/><circle cx="905.4" cy="2175.7" r="2.2" fill="#87AC00"/><circle cx="560" cy="2206.5" r="2.2" fill="#82AD00"/><circle cx="1509.7" cy="2226.8" r="2.2" fill="#7EAE00"/><circle cx="753.8" cy="2198.1" r="2.2" fill="#79AF00"/><circle cx="1233.5" cy="2025.7" r="2.2" fill="#74AF00"/><circle cx="997" cy="2068.9" r="2.2" fill="#6FB000"/><circle cx="1074.3" cy="2194.9" r="2.2" fill="#6AB100"/><circle cx="973.8" cy="2208.9" r="2.2" fill="#64B200"/><circle cx="894.1" cy="2193.8" r="2.2" fill="#5EB200"/><circle cx="1068.1" cy="2173.8" r="2.2" fill="#58B300"/><circle cx="598.1" cy="2223.8" r="2.2" fill="#51B400"/><circle cx="1414.6" cy="2215.9" r="2.2" fill="#49B500"/><circle cx="934.3" cy="1997.3" r="2.2" fill="#40B500"/><circle cx="514.9" cy="2230.3" r="2.2" fill="#35B600"/><circle cx="1100.3" cy="2144.1" r="2.2" fill="#27B700"/><circle cx="1442.2" cy="2244.9" r="2.2" fill="#11B700"/><circle cx="1402.7" cy="2194.1" r="2.2" fill="#00B816"/><circle cx="1025.7" cy="2152.7" r="2.2" fill="#00B824"/><circle cx="609.2" cy="2203.2" r="2.2" fill="#00B92E"/><circle cx="1206.8" cy="2200.5" r="2.2" fill="#00B936"/><circle cx="1521.8" cy="2204.1" r="2.2" fill="#00BA3D"/><circle cx="896.5" cy="2185.9" r="2.2" fill="#00BB44"/><circle cx="1316.5" cy="2227" r="2.2" fill="#00BB4A"/><circle cx="1380" cy="2144.9" r="2.2" fill="#00BC4F"/><circle cx="1088.9" cy="2009.7" r="2.2" fill="#00BC55"/><circle cx="1338.9" cy="2168.1" r="2.2" fill="#00BC5A"/><circle cx="850" cy="2158.1" r="2.2" fill="#00BD5F"/><circle cx="473.5" cy="2217.8" r="2.2" fill="#00BD64"/><circle cx="504.3" cy="2190.5" r="2.2" fill="#00BE69"/><circle cx="1055.4" cy="1950.5" r="2.2" fill="#00BE6D"/><circle cx="680.5" cy="2050.3" r="2.2" fill="#00BE71"/><circle cx="800" cy="2166.2" r="2.2" fill="#00BF76"/><circle cx="1314.3" cy="2206.8" r="2.2" fill="#00BF7A"/><circle cx="1473" cy="2233.8" r="2.2" fill="#00BF7E"/><circle cx="915.9" cy="2247.6" r="2.2" fill="#00C082"/><circle cx="1066.5" cy="2221.1" r="2.2" fill="#00C086"/><circle cx="1141.1" cy="2222.7" r="2.2" fill="#00C08A"/><circle cx="1077.3" cy="2221.1" r="2.2" fill="#00C08E"/><circle cx="1467.8" cy="2220.3" r="2.2" fill="#00C092"/><circle cx="1348.1" cy="2177.6" r="2.2" fill="#00C095"/><circle cx="1342.2" cy="2194.3" r="2.2" fill="#00C199"/><circle cx="1115.4" cy="2155.1" r="2.2" fill="#00C19D"/><circle cx="1463.2" cy="2261.1" r="2.2" fill="#00C1A0"/><circle cx="1193.5" cy="2200.3" r="2.2" fill="#00C1A4"/><circle cx="1193" cy="2217.6" r="2.2" fill="#00C1A7"/><circle cx="820.3" cy="2229.7" r="2.2" fill="#00C1AB"/><circle cx="826.5" cy="2014.6" r="2.2" fill="#00C0AE"/><circle cx="1417.6" cy="2228.9" r="2.2" fill="#00C0B1"/><circle cx="968.6" cy="2237.6" r="2.2" fill="#00C0B5"/><circle cx="755.9" cy="2178.9" r="2.2" fill="#00C0B8"/><circle cx="1388.4" cy="2219.2" r="2.2" fill="#00C0BB"/><circle cx="1229.2" cy="2184.6" r="2.2" fill="#00C0BE"/><circle cx="795.4" cy="2056.8" r="2.2" fill="#00BFC1"/><circle cx="503" cy="2204.6" r="2.2" fill="#00BFC4"/><circle cx="1194.3" cy="2149.7" r="2.2" fill="#00BFC7"/><circle cx="1435.9" cy="2223.8" r="2.2" fill="#00BECA"/><circle cx="1487.8" cy="2210.5" r="2.2" fill="#00BECD"/><circle cx="591.9" cy="2228.4" r="2.2" fill="#00BDD0"/><circle cx="562.7" cy="2206.8" r="2.2" fill="#00BDD3"/><circle cx="1224.9" cy="2161.6" r="2.2" fill="#00BCD6"/><circle cx="1055.7" cy="2128.6" r="2.2" fill="#00BCD8"/><circle cx="347.8" cy="2224.3" r="2.2" fill="#00BBDB"/><circle cx="1334.3" cy="2228.6" r="2.2" fill="#00BADE"/><circle cx="913.2" cy="2088.9" r="2.2" fill="#00BAE0"/><circle cx="774.3" cy="2185.9" r="2.2" fill="#00B9E3"/><circle cx="1180.3" cy="2174.3" r="2.2" fill="#00B8E5"/><circle cx="1081.6" cy="2153.5" r="2.2" fill="#00B7E7"/><circle cx="938.1" cy="2038.9" r="2.2" fill="#00B6EA"/><circle cx="1531.9" cy="2226.8" r="2.2" fill="#00B6EC"/><circle cx="994.1" cy="2207.8" r="2.2" fill="#00B5EE"/><circle cx="1323.5" cy="2247.6" r="2.2" fill="#00B4F0"/><circle cx="892.4" cy="2177.3" r="2.2" fill="#00B2F2"/><circle cx="454.9" cy="2183.8" r="2.2" fill="#00B1F4"/><circle cx="838.9" cy="2170.5" r="2.2" fill="#00B0F6"/><circle cx="993.8" cy="2156.8" r="2.2" fill="#00AFF8"/><circle cx="1007.8" cy="2047.8" r="2.2" fill="#00AEFA"/><circle cx="652.7" cy="2248.6" r="2.2" fill="#00ACFB"/><circle cx="1495.1" cy="2205.9" r="2.2" fill="#00ABFD"/><circle cx="1423" cy="2196.8" r="2.2" fill="#00AAFE"/><circle cx="820.5" cy="2218.6" r="2.2" fill="#00A8FF"/><circle cx="782.7" cy="2224.9" r="2.2" fill="#00A7FF"/><circle cx="1194.9" cy="2025.1" r="2.2" fill="#00A5FF"/><circle cx="1240" cy="2247.3" r="2.2" fill="#10A4FF"/><circle cx="1278.9" cy="2152.4" r="2.2" fill="#2FA2FF"/><circle cx="1546.5" cy="2206.8" r="2.2" fill="#41A0FF"/><circle cx="1282.2" cy="2204.6" r="2.2" fill="#4F9FFF"/><circle cx="783.5" cy="2232.2" r="2.2" fill="#5A9DFF"/><circle cx="1246.5" cy="2073.5" r="2.2" fill="#649BFF"/><circle cx="1018.6" cy="2204.1" r="2.2" fill="#6D9AFF"/><circle cx="1162.7" cy="2195.4" r="2.2" fill="#7698FF"/><circle cx="624.1" cy="2131.4" r="2.2" fill="#7E96FF"/><circle cx="1027.6" cy="2152.7" r="2.2" fill="#8594FF"/><circle cx="1075.9" cy="2216.8" r="2.2" fill="#8C92FF"/><circle cx="1056.2" cy="2148.1" r="2.2" fill="#9290FF"/><circle cx="1353.8" cy="2225.9" r="2.2" fill="#988EFF"/><circle cx="1227.6" cy="2209.2" r="2.2" fill="#9E8CFF"/><circle cx="1378.9" cy="2019.2" r="2.2" fill="#A48BFF"/><circle cx="1418.1" cy="2220" r="2.2" fill="#A989FF"/><circle cx="1491.9" cy="2269.2" r="2.2" fill="#AE87FF"/><circle cx="1205.9" cy="2205.4" r="2.2" fill="#B385FF"/><circle cx="1273" cy="2248.1" r="2.2" fill="#B883FF"/><circle cx="1347.3" cy="2220.5" r="2.2" fill="#BD81FF"/><circle cx="657" cy="2216.8" r="2.2" fill="#C17FFF"/><circle cx="1248.1" cy="2072.7" r="2.2" fill="#C57DFF"/><circle cx="1095.7" cy="2108.6" r="2.2" fill="#C97BFF"/><circle cx="1030" cy="1984.6" r="2.2" fill="#CD79FF"/><circle cx="948.9" cy="2083.8" r="2.2" fill="#D077FF"/><circle cx="1494.6" cy="2242.7" r="2.2" fill="#D476FE"/><circle cx="786.5" cy="2201.6" r="2.2" fill="#D774FD"/><circle cx="1359.5" cy="2159.2" r="2.2" fill="#DA72FB"/><circle cx="605.9" cy="2209.7" r="2.2" fill="#DD71FA"/><circle cx="1317.6" cy="2235.1" r="2.2" fill="#E06FF8"/><circle cx="1201.9" cy="2204.6" r="2.2" fill="#E36EF6"/><circle cx="514.6" cy="2226.8" r="2.2" fill="#E66CF4"/><circle cx="1435.1" cy="2271.9" r="2.2" fill="#E86BF2"/><circle cx="1351.1" cy="2240.8" r="2.2" fill="#EA69F0"/><circle cx="1410" cy="2232.4" r="2.2" fill="#ED68EE"/><circle cx="645.7" cy="2093.2" r="2.2" fill="#EF67EC"/><circle cx="1108.6" cy="2000.8" r="2.2" fill="#F166E9"/><circle cx="365.9" cy="2183.8" r="2.2" fill="#F365E7"/><circle cx="1274.6" cy="2228.9" r="2.2" fill="#F464E4"/><circle cx="1149.2" cy="2211.1" r="2.2" fill="#F663E2"/><circle cx="853.8" cy="2158.9" r="2.2" fill="#F763DF"/><circle cx="1023.8" cy="2109.7" r="2.2" fill="#F962DC"/><circle cx="1492.4" cy="2222.7" r="2.2" fill="#FA62DA"/><circle cx="1577.8" cy="2233" r="2.2" fill="#FB61D7"/><circle cx="1003.8" cy="2200.8" r="2.2" fill="#FC61D4"/><circle cx="1469.7" cy="2163.2" r="2.2" fill="#FD61D1"/><circle cx="853" cy="2242.7" r="2.2" fill="#FE61CE"/><circle cx="1114.1" cy="2182.2" r="2.2" fill="#FF61CB"/><circle cx="673.8" cy="2194.9" r="2.2" fill="#FF61C8"/><circle cx="607" cy="2219.2" r="2.2" fill="#FF61C5"/><circle cx="1121.1" cy="2042.7" r="2.2" fill="#FF61C2"/><circle cx="1010" cy="2085.7" r="2.2" fill="#FF62BE"/><circle cx="1273.5" cy="2012.4" r="2.2" fill="#FF62BB"/><circle cx="1113.5" cy="2212.7" r="2.2" fill="#FF63B8"/><circle cx="1113.5" cy="2210.8" r="2.2" fill="#FF63B4"/><circle cx="917.8" cy="2078.9" r="2.2" fill="#FF64B1"/><circle cx="1170" cy="2164.9" r="2.2" fill="#FF65AD"/><circle cx="634.3" cy="2218.4" r="2.2" fill="#FF66AA"/><circle cx="1258.6" cy="2213.2" r="2.2" fill="#FF66A6"/><circle cx="1423" cy="2200" r="2.2" fill="#FF67A3"/><circle cx="1440.5" cy="2191.9" r="2.2" fill="#FF689F"/><circle cx="677.3" cy="2203" r="2.2" fill="#FF699B"/><circle cx="1371.9" cy="2112.2" r="2.2" fill="#FF6A97"/><circle cx="1447" cy="2120.3" r="2.2" fill="#FF6B93"/><circle cx="1182.4" cy="2200.8" r="2.2" fill="#FF6D8F"/><circle cx="1077.3" cy="2233" r="2.2" fill="#FE6E8B"/><circle cx="726.5" cy="2072.7" r="2.2" fill="#FD6F87"/><circle cx="955.1" cy="2209.7" r="2.2" fill="#FD7083"/><circle cx="1013" cy="2192.2" r="2.2" fill="#FC717F"/><circle cx="684.6" cy="2203.2" r="2.2" fill="#FB727A"/><circle cx="787.3" cy="2207.6" r="2.2" fill="#FA7476"/><circle cx="727.8" cy="2129.2" r="2.2" fill="#F97572"/></g>
<path d="M296 2161.6 L299.1 2162.1 L302.9 2162.8 L307.3 2163.5 L312.3 2164.4 L317.7 2165.3 L323.5 2166.3 L329.5 2167.3 L335.8 2168.3 L342.2 2169.3 L348.6 2170.2 L354.9 2171.1 L361.1 2171.9 L367.3 2172.6 L373.7 2173.4 L380.3 2174.1 L387 2174.9 L393.8 2175.6 L400.7 2176.3 L407.6 2176.9 L414.6 2177.5 L421.6 2178.1 L428.5 2178.5 L435.4 2178.9 L442.2 2179.2 L449 2179.4 L455.7 2179.5 L462.5 2179.5 L469.2 2179.5 L476 2179.4 L482.7 2179.3 L489.4 2179.1 L496.2 2178.8 L502.9 2178.6 L509.7 2178.3 L516.4 2178.1 L523.2 2177.8 L530 2177.5 L536.7 2177.2 L543.5 2176.9 L550.2 2176.5 L557 2176.2 L563.7 2175.8 L570.5 2175.3 L577.3 2174.9 L584 2174.5 L590.8 2174 L597.5 2173.5 L604.3 2173 L611.2 2172.5 L618.2 2171.9 L625.4 2171.3 L632.7 2170.7 L639.9 2170 L647.1 2169.3 L654.2 2168.7 L661.1 2168 L667.7 2167.4 L674 2166.8 L679.9 2166.2 L685.4 2165.7 L690.3 2165.2 L694.5 2164.9 L698.3 2164.5 L701.6 2164.2 L704.7 2163.9 L707.7 2163.7 L710.7 2163.4 L713.8 2163 L717.1 2162.7 L720.9 2162.2 L725.1 2161.7 L730 2161 L735.5 2160.2 L741.4 2159.3 L747.7 2158.4 L754.3 2157.3 L761.2 2156.2 L768.3 2155.1 L775.5 2153.9 L782.7 2152.8 L790 2151.7 L797.2 2150.6 L804.2 2149.6 L811.1 2148.6 L817.9 2147.7 L824.6 2146.8 L831.4 2146 L838.1 2145.1 L844.9 2144.3 L851.7 2143.5 L858.4 2142.8 L865.2 2142 L871.9 2141.3 L878.7 2140.6 L885.4 2139.9 L892.2 2139.2 L899 2138.5 L905.7 2137.9 L912.5 2137.2 L919.2 2136.6 L926 2135.9 L932.7 2135.3 L939.4 2134.8 L946.2 2134.2 L952.9 2133.7 L959.7 2133.2 L966.4 2132.8 L973.2 2132.4 L980 2132 L987 2131.7 L994.1 2131.4 L1001.2 2131.2 L1008.4 2131 L1015.4 2130.8 L1022.4 2130.6 L1029.3 2130.5 L1035.9 2130.4 L1042.3 2130.4 L1048.5 2130.3 L1054.3 2130.3 L1059.7 2130.3 L1064.7 2130.3 L1069.3 2130.4 L1073.7 2130.5 L1077.9 2130.6 L1081.9 2130.7 L1086 2130.9 L1090.1 2131.1 L1094.3 2131.3 L1098.7 2131.6 L1103.4 2132 L1108.4 2132.4 L1113.7 2132.9 L1119.2 2133.4 L1124.8 2134 L1130.6 2134.7 L1136.5 2135.4 L1142.5 2136.2 L1148.6 2136.9 L1154.8 2137.7 L1161 2138.5 L1167.3 2139.3 L1173.6 2140.1 L1180 2140.8 L1186.4 2141.5 L1193 2142.2 L1199.6 2142.9 L1206.3 2143.6 L1213.1 2144.3 L1220 2145.1 L1226.8 2145.8 L1233.7 2146.5 L1240.6 2147.3 L1247.5 2148.1 L1254.3 2148.9 L1261.1 2149.7 L1267.9 2150.5 L1274.6 2151.4 L1281.4 2152.2 L1288.1 2153.1 L1294.9 2154 L1301.7 2154.9 L1308.4 2155.8 L1315.2 2156.8 L1321.9 2157.8 L1328.7 2158.8 L1335.4 2159.9 L1342.2 2161.1 L1349 2162.3 L1356 2163.7 L1363.1 2165.1 L1370.2 2166.6 L1377.3 2168.1 L1384.4 2169.6 L1391.4 2171.2 L1398.2 2172.7 L1404.8 2174.2 L1411.3 2175.6 L1417.4 2176.9 L1423.2 2178.1 L1428.7 2179.2 L1433.8 2180.3 L1438.6 2181.3 L1443.2 2182.3 L1447.6 2183.2 L1451.9 2184.1 L1456.1 2185 L1460.3 2185.8 L1464.4 2186.6 L1468.6 2187.4 L1472.9 2188.2 L1477.3 2188.9 L1481.8 2189.6 L1486.4 2190.3 L1491 2191 L1495.6 2191.7 L1500.2 2192.3 L1504.8 2192.9 L1509.4 2193.5 L1513.9 2194 L1518.4 2194.5 L1522.8 2195 L1527.2 2195.4 L1531.4 2195.7 L1535.7 2196 L1540.1 2196.2 L1544.7 2196.3 L1549.2 2196.4 L1553.7 2196.5 L1558.1 2196.5 L1562.3 2196.5 L1566.2 2196.5 L1569.8 2196.5 L1573 2196.5 L1575.8 2196.5 L1578 2196.5 L1578 2292.6 L1575.8 2291.2 L1573 2289.4 L1569.8 2287.3 L1566.2 2284.9 L1562.3 2282.3 L1558.1 2279.6 L1553.7 2276.8 L1549.2 2273.9 L1544.7 2271.1 L1540.1 2268.3 L1535.7 2265.7 L1531.4 2263.2 L1527.2 2260.9 L1522.8 2258.5 L1518.4 2256.2 L1513.9 2253.9 L1509.4 2251.6 L1504.8 2249.3 L1500.2 2247 L1495.6 2244.8 L1491 2242.6 L1486.4 2240.4 L1481.8 2238.3 L1477.3 2236.2 L1472.9 2234.1 L1468.6 2232.1 L1464.4 2230 L1460.3 2228 L1456.1 2226.1 L1451.9 2224.1 L1447.6 2222.2 L1443.2 2220.3 L1438.6 2218.5 L1433.8 2216.7 L1428.7 2214.9 L1423.2 2213.2 L1417.4 2211.5 L1411.3 2209.9 L1404.8 2208.3 L1398.2 2206.8 L1391.4 2205.3 L1384.4 2203.8 L1377.3 2202.3 L1370.2 2200.9 L1363.1 2199.6 L1356 2198.2 L1349 2197 L1342.2 2195.7 L1335.4 2194.5 L1328.7 2193.3 L1321.9 2192.2 L1315.2 2191.1 L1308.4 2190 L1301.7 2189 L1294.9 2188 L1288.1 2187.1 L1281.4 2186.1 L1274.6 2185.2 L1267.9 2184.4 L1261.1 2183.5 L1254.3 2182.7 L1247.5 2181.9 L1240.6 2181.2 L1233.7 2180.4 L1226.8 2179.8 L1220 2179.1 L1213.1 2178.5 L1206.3 2177.8 L1199.6 2177.2 L1193 2176.7 L1186.4 2176.1 L1180 2175.5 L1173.6 2174.9 L1167.3 2174.4 L1161 2173.8 L1154.8 2173.3 L1148.6 2172.7 L1142.5 2172.2 L1136.5 2171.7 L1130.6 2171.3 L1124.8 2170.8 L1119.2 2170.4 L1113.7 2170 L1108.4 2169.7 L1103.4 2169.4 L1098.7 2169.1 L1094.3 2168.8 L1090.1 2168.6 L1086 2168.4 L1081.9 2168.2 L1077.9 2168 L1073.7 2167.9 L1069.3 2167.7 L1064.7 2167.7 L1059.7 2167.6 L1054.3 2167.6 L1048.5 2167.6 L1042.3 2167.7 L1035.9 2167.7 L1029.3 2167.8 L1022.4 2168 L1015.4 2168.1 L1008.4 2168.3 L1001.2 2168.5 L994.1 2168.8 L987 2169 L980 2169.4 L973.2 2169.7 L966.4 2170.1 L959.7 2170.5 L952.9 2170.9 L946.2 2171.4 L939.4 2171.9 L932.7 2172.4 L926 2173 L919.2 2173.6 L912.5 2174.2 L905.7 2174.8 L899 2175.5 L892.2 2176.2 L885.4 2176.9 L878.7 2177.7 L871.9 2178.5 L865.2 2179.3 L858.4 2180.1 L851.7 2181 L844.9 2181.9 L838.1 2182.8 L831.4 2183.7 L824.6 2184.6 L817.9 2185.6 L811.1 2186.5 L804.2 2187.5 L797.2 2188.5 L790 2189.6 L782.7 2190.7 L775.5 2191.9 L768.3 2193 L761.2 2194.1 L754.3 2195.2 L747.7 2196.2 L741.4 2197.2 L735.5 2198 L730 2198.8 L725.1 2199.4 L720.9 2200 L717.1 2200.4 L713.8 2200.8 L710.7 2201.1 L707.7 2201.3 L704.7 2201.6 L701.6 2201.9 L698.3 2202.2 L694.5 2202.5 L690.3 2203 L685.4 2203.5 L679.9 2204.1 L674 2204.8 L667.7 2205.5 L661.1 2206.2 L654.2 2207 L647.1 2207.8 L639.9 2208.6 L632.7 2209.5 L625.4 2210.3 L618.2 2211.2 L611.2 2212.1 L604.3 2213 L597.5 2213.9 L590.8 2214.8 L584 2215.8 L577.3 2216.7 L570.5 2217.7 L563.7 2218.7 L557 2219.7 L550.2 2220.8 L543.5 2221.8 L536.7 2222.9 L530 2224 L523.2 2225.1 L516.4 2226.2 L509.7 2227.4 L502.9 2228.5 L496.2 2229.7 L489.4 2230.8 L482.7 2232 L476 2233.3 L469.2 2234.5 L462.5 2235.8 L455.7 2237.2 L449 2238.6 L442.2 2240 L435.4 2241.5 L428.5 2243.1 L421.6 2244.7 L414.6 2246.4 L407.6 2248.1 L400.7 2249.9 L393.8 2251.7 L387 2253.4 L380.3 2255.2 L373.7 2256.9 L367.3 2258.6 L361.1 2260.3 L354.9 2262 L348.6 2263.7 L342.2 2265.6 L335.8 2267.4 L329.5 2269.2 L323.5 2271 L317.7 2272.7 L312.3 2274.4 L307.3 2275.8 L302.9 2277.2 L299.1 2278.3 L296 2279.2 Z" fill="#999999" fill-opacity="0.35"/>
<path d="M296 2220.3 L299.1 2220.1 L302.9 2219.8 L307.3 2219.4 L312.3 2219 L317.7 2218.6 L323.5 2218.1 L329.5 2217.7 L335.8 2217.2 L342.2 2216.6 L348.6 2216.1 L354.9 2215.6 L361.1 2215.1 L367.3 2214.6 L373.7 2214 L380.3 2213.5 L387 2212.9 L393.8 2212.3 L400.7 2211.7 L407.6 2211.1 L414.6 2210.5 L421.6 2209.9 L428.5 2209.3 L435.4 2208.7 L442.2 2208.1 L449 2207.5 L455.7 2206.9 L462.5 2206.3 L469.2 2205.7 L476 2205.1 L482.7 2204.5 L489.4 2203.9 L496.2 2203.3 L502.9 2202.7 L509.7 2202.1 L516.4 2201.4 L523.2 2200.8 L530 2200.2 L536.7 2199.5 L543.5 2198.8 L550.2 2198.2 L557 2197.5 L563.7 2196.8 L570.5 2196.1 L577.3 2195.4 L584 2194.7 L590.8 2194.1 L597.5 2193.4 L604.3 2192.7 L611.2 2192 L618.2 2191.3 L625.4 2190.6 L632.7 2189.9 L639.9 2189.2 L647.1 2188.4 L654.2 2187.7 L661.1 2187.1 L667.7 2186.4 L674 2185.8 L679.9 2185.2 L685.4 2184.6 L690.3 2184.1 L694.5 2183.7 L698.3 2183.3 L701.6 2183 L704.7 2182.7 L707.7 2182.5 L710.7 2182.2 L713.8 2181.8 L717.1 2181.4 L720.9 2181 L725.1 2180.4 L730 2179.8 L735.5 2179 L741.4 2178.2 L747.7 2177.2 L754.3 2176.2 L761.2 2175.1 L768.3 2174 L775.5 2172.9 L782.7 2171.8 L790 2170.7 L797.2 2169.6 L804.2 2168.6 L811.1 2167.6 L817.9 2166.7 L824.6 2165.7 L831.4 2164.8 L838.1 2163.9 L844.9 2163 L851.7 2162.1 L858.4 2161.2 L865.2 2160.4 L871.9 2159.6 L878.7 2158.8 L885.4 2158 L892.2 2157.3 L899 2156.6 L905.7 2155.9 L912.5 2155.3 L919.2 2154.7 L926 2154.1 L932.7 2153.5 L939.4 2153 L946.2 2152.5 L952.9 2152 L959.7 2151.6 L966.4 2151.2 L973.2 2150.8 L980 2150.5 L987 2150.2 L994.1 2150 L1001.2 2149.8 L1008.4 2149.6 L1015.4 2149.5 L1022.4 2149.3 L1029.3 2149.3 L1035.9 2149.2 L1042.3 2149.2 L1048.5 2149.2 L1054.3 2149.2 L1059.7 2149.2 L1064.7 2149.3 L1069.3 2149.4 L1073.7 2149.5 L1077.9 2149.6 L1081.9 2149.8 L1086 2150 L1090.1 2150.2 L1094.3 2150.4 L1098.7 2150.7 L1103.4 2151 L1108.4 2151.4 L1113.7 2151.8 L1119.2 2152.2 L1124.8 2152.7 L1130.6 2153.3 L1136.5 2153.8 L1142.5 2154.4 L1148.6 2155 L1154.8 2155.7 L1161 2156.3 L1167.3 2156.9 L1173.6 2157.6 L1180 2158.2 L1186.4 2158.8 L1193 2159.4 L1199.6 2160.1 L1206.3 2160.7 L1213.1 2161.3 L1220 2162 L1226.8 2162.7 L1233.7 2163.4 L1240.6 2164.1 L1247.5 2164.9 L1254.3 2165.7 L1261.1 2166.5 L1267.9 2167.4 L1274.6 2168.3 L1281.4 2169.2 L1288.1 2170.1 L1294.9 2171.1 L1301.7 2172.1 L1308.4 2173.2 L1315.2 2174.3 L1321.9 2175.4 L1328.7 2176.5 L1335.4 2177.7 L1342.2 2178.9 L1349 2180.2 L1356 2181.5 L1363.1 2182.9 L1370.2 2184.3 L1377.3 2185.8 L1384.4 2187.3 L1391.4 2188.8 L1398.2 2190.3 L1404.8 2191.8 L1411.3 2193.3 L1417.4 2194.8 L1423.2 2196.2 L1428.7 2197.6 L1433.8 2199 L1438.6 2200.3 L1443.2 2201.6 L1447.6 2203 L1451.9 2204.3 L1456.1 2205.6 L1460.3 2207 L1464.4 2208.3 L1468.6 2209.7 L1472.9 2211 L1477.3 2212.4 L1481.8 2213.8 L1486.4 2215.2 L1491 2216.7 L1495.6 2218.1 L1500.2 2219.6 L1504.8 2221 L1509.4 2222.5 L1513.9 2223.9 L1518.4 2225.4 L1522.8 2226.8 L1527.2 2228.1 L1531.4 2229.5 L1535.7 2230.9 L1540.1 2232.3 L1544.7 2233.7 L1549.2 2235.2 L1553.7 2236.6 L1558.1 2238 L1562.3 2239.4 L1566.2 2240.6 L1569.8 2241.8 L1573 2242.8 L1575.8 2243.7 L1578 2244.4" fill="none" stroke="#6C7B8B" stroke-width="3.0" stroke-linejoin="round"/>
<g><line class="sg" x1="433.9" y1="2137.1" x2="474.9" y2="2164.6" stroke="#F8766D"/><line class="sg" x1="628.1" y1="2161.3" x2="690.5" y2="2200.3" stroke="#F27D53"/><line class="sg" x1="1174.8" y1="2225.4" x2="1188.9" y2="2213.8" stroke="#EF7F48"/><line class="sg" x1="1108" y1="2263.5" x2="1150" y2="2241.4" stroke="#ED8141"/><line class="sg" x1="1681.2" y1="2139.7" x2="1413.5" y2="2201.6" stroke="#EC823A"/><line class="sg" x1="1488.5" y1="2141.6" x2="1430.8" y2="2173.8" stroke="#EA8332"/><line class="sg" x1="1242.4" y1="2091.6" x2="1244.6" y2="2111.4" stroke="#E5870A"/><line class="sg" x1="741" y1="2276.8" x2="762.2" y2="2251.6" stroke="#E48800"/><line class="sg" x1="1473.9" y1="2193.9" x2="1430.8" y2="2197.6" stroke="#DE8C00"/><line class="sg" x1="1421" y1="2114" x2="1370.8" y2="2128.6" stroke="#D88F00"/><line class="sg" x1="686.8" y1="2257.1" x2="726.5" y2="2245.7" stroke="#D69100"/><line class="sg" x1="929" y1="2162.4" x2="959.5" y2="2181.6" stroke="#D49200"/><line class="sg" x1="1169" y1="2281.6" x2="1188.9" y2="2240.5" stroke="#D29300"/><line class="sg" x1="995.4" y1="2124.6" x2="1040.3" y2="2142.4" stroke="#D09400"/><line class="sg" x1="1065.7" y1="2143.8" x2="1059.5" y2="2164.3" stroke="#CD9500"/><line class="sg" x1="1367.9" y1="2091.1" x2="1350.3" y2="2111.6" stroke="#CB9600"/><line class="sg" x1="1319.8" y1="2298.4" x2="1272.7" y2="2230.8" stroke="#C99800"/><line class="sg" x1="335.5" y1="2211.9" x2="378.6" y2="2203" stroke="#C69900"/><line class="sg" x1="817.7" y1="2270.3" x2="838.1" y2="2251.9" stroke="#C19B00"/><line class="sg" x1="708.3" y1="2161.6" x2="727.6" y2="2170" stroke="#BE9C00"/><line class="sg" x1="1659.1" y1="2125.4" x2="1466.8" y2="2182.7" stroke="#B99E00"/><line class="sg" x1="321.1" y1="2194.8" x2="423" y2="2189.2" stroke="#B69F00"/><line class="sg" x1="1365.1" y1="2281.6" x2="1278.9" y2="2230" stroke="#B0A100"/><line class="sg" x1="1199.7" y1="2177" x2="1186.5" y2="2189.2" stroke="#ADA200"/><line class="sg" x1="1022.3" y1="2227.6" x2="1063.8" y2="2214.6" stroke="#AAA300"/><line class="sg" x1="694" y1="2218.9" x2="731.6" y2="2204.1" stroke="#A7A400"/><line class="sg" x1="875.5" y1="2143.2" x2="930" y2="2181.6" stroke="#A4A500"/><line class="sg" x1="1307.1" y1="2110.5" x2="1292.7" y2="2123.8" stroke="#A1A600"/><line class="sg" x1="1063.7" y1="2298.4" x2="1147" y2="2221.6" stroke="#9DA700"/><line class="sg" x1="1412.2" y1="2297.6" x2="1328.4" y2="2244.6" stroke="#9AA800"/><line class="sg" x1="1407.8" y1="2239.8" x2="1384.3" y2="2224.9" stroke="#8FAA00"/><line class="sg" x1="578.8" y1="2248.9" x2="639.2" y2="2218.6" stroke="#8BAB00"/><line class="sg" x1="811.6" y1="2104.3" x2="905.4" y2="2175.7" stroke="#87AC00"/><line class="sg" x1="1599.6" y1="2233.8" x2="1509.7" y2="2226.8" stroke="#7EAE00"/><line class="sg" x1="616.1" y1="2124.6" x2="753.8" y2="2198.1" stroke="#79AF00"/><line class="sg" x1="1047.7" y1="2181.3" x2="1074.3" y2="2194.9" stroke="#6AB100"/><line class="sg" x1="894.9" y1="2232.5" x2="973.8" y2="2208.9" stroke="#64B200"/><line class="sg" x1="948.5" y1="2117.6" x2="1068.1" y2="2173.8" stroke="#58B300"/><line class="sg" x1="1454.3" y1="2180.5" x2="1402.7" y2="2194.1" stroke="#00B816"/><line class="sg" x1="939.7" y1="2104.6" x2="1025.7" y2="2152.7" stroke="#00B824"/><line class="sg" x1="577.6" y1="2175.6" x2="609.2" y2="2203.2" stroke="#00B92E"/><line class="sg" x1="1251.2" y1="2183.5" x2="1206.8" y2="2200.5" stroke="#00B936"/><line class="sg" x1="1704.1" y1="2177.9" x2="1521.8" y2="2204.1" stroke="#00BA3D"/><line class="sg" x1="826" y1="2190.7" x2="896.5" y2="2185.9" stroke="#00BB44"/><line class="sg" x1="1399.3" y1="2137.6" x2="1380" y2="2144.9" stroke="#00BC4F"/><line class="sg" x1="1374.2" y1="2125.9" x2="1338.9" y2="2168.1" stroke="#00BC5A"/><line class="sg" x1="762.7" y1="2123.8" x2="850" y2="2158.1" stroke="#00BD5F"/><line class="sg" x1="413.4" y1="2157.3" x2="504.3" y2="2190.5" stroke="#00BE69"/><line class="sg" x1="770.5" y1="2143.2" x2="800" y2="2166.2" stroke="#00BF76"/><line class="sg" x1="1597.7" y1="2253.3" x2="1473" y2="2233.8" stroke="#00BF7E"/><line class="sg" x1="887.6" y1="2255.6" x2="915.9" y2="2247.6" stroke="#00C082"/><line class="sg" x1="951.4" y1="2271.8" x2="1066.5" y2="2221.1" stroke="#00C086"/><line class="sg" x1="1091.9" y1="2244.9" x2="1141.1" y2="2222.7" stroke="#00C08A"/><line class="sg" x1="1496.3" y1="2215.9" x2="1467.8" y2="2220.3" stroke="#00C092"/><line class="sg" x1="1124.4" y1="2124.3" x2="1115.4" y2="2155.1" stroke="#00C19D"/><line class="sg" x1="1511.8" y1="2278.4" x2="1463.2" y2="2261.1" stroke="#00C1A0"/><line class="sg" x1="1173.1" y1="2244.9" x2="1193" y2="2217.6" stroke="#00C1A7"/><line class="sg" x1="1492" y1="2253.3" x2="1417.6" y2="2228.9" stroke="#00C0B1"/><line class="sg" x1="952.5" y1="2247.1" x2="968.6" y2="2237.6" stroke="#00C0B5"/><line class="sg" x1="696.9" y1="2143.2" x2="755.9" y2="2178.9" stroke="#00C0B8"/><line class="sg" x1="1442" y1="2230" x2="1388.4" y2="2219.2" stroke="#00C0BB"/><line class="sg" x1="1285.8" y1="2159.3" x2="1229.2" y2="2184.6" stroke="#00C0BE"/><line class="sg" x1="371.1" y1="2194.8" x2="503" y2="2204.6" stroke="#00BFC4"/><line class="sg" x1="1536" y1="2239.5" x2="1435.9" y2="2223.8" stroke="#00BECA"/><line class="sg" x1="1599.6" y1="2215.6" x2="1487.8" y2="2210.5" stroke="#00BECD"/><line class="sg" x1="528.2" y1="2191.6" x2="562.7" y2="2206.8" stroke="#00BDD3"/><line class="sg" x1="326.1" y1="2225.7" x2="347.8" y2="2224.3" stroke="#00BBDB"/><line class="sg" x1="1410.4" y1="2258.1" x2="1334.3" y2="2228.6" stroke="#00BADE"/><line class="sg" x1="1233.4" y1="2128.1" x2="1180.3" y2="2174.3" stroke="#00B8E5"/><line class="sg" x1="1663.6" y1="2233.9" x2="1531.9" y2="2226.8" stroke="#00B6EC"/><line class="sg" x1="955.8" y1="2227.6" x2="994.1" y2="2207.8" stroke="#00B5EE"/><line class="sg" x1="1348.5" y1="2262.5" x2="1323.5" y2="2247.6" stroke="#00B4F0"/><line class="sg" x1="823.4" y1="2162.1" x2="838.9" y2="2170.5" stroke="#00B0F6"/><line class="sg" x1="955.2" y1="2143.2" x2="993.8" y2="2156.8" stroke="#00AFF8"/><line class="sg" x1="1530.9" y1="2197.8" x2="1495.1" y2="2205.9" stroke="#00ABFD"/><line class="sg" x1="1552.8" y1="2136" x2="1423" y2="2196.8" stroke="#00AAFE"/><line class="sg" x1="807.6" y1="2241.6" x2="820.5" y2="2218.6" stroke="#00A8FF"/><line class="sg" x1="1234.2" y1="2263.3" x2="1240" y2="2247.3" stroke="#10A4FF"/><line class="sg" x1="1299.4" y1="2144.6" x2="1278.9" y2="2152.4" stroke="#2FA2FF"/><line class="sg" x1="1678.2" y1="2196.4" x2="1546.5" y2="2206.8" stroke="#41A0FF"/><line class="sg" x1="1319" y1="2188.4" x2="1282.2" y2="2204.6" stroke="#4F9FFF"/><line class="sg" x1="748.1" y1="2257.1" x2="783.5" y2="2232.2" stroke="#5A9DFF"/><line class="sg" x1="1213.7" y1="2069.8" x2="1246.5" y2="2073.5" stroke="#649BFF"/><line class="sg" x1="1000" y1="2197.8" x2="1018.6" y2="2204.1" stroke="#6D9AFF"/><line class="sg" x1="1147.4" y1="2143.2" x2="1162.7" y2="2195.4" stroke="#7698FF"/><line class="sg" x1="602.4" y1="2099.5" x2="624.1" y2="2131.4" stroke="#7E96FF"/><line class="sg" x1="1012.8" y1="2143.2" x2="1027.6" y2="2152.7" stroke="#8594FF"/><line class="sg" x1="974.3" y1="2265.2" x2="1075.9" y2="2216.8" stroke="#8C92FF"/><line class="sg" x1="1060.2" y1="2104.6" x2="1056.2" y2="2148.1" stroke="#9290FF"/><line class="sg" x1="1494.2" y1="2233" x2="1418.1" y2="2220" stroke="#A989FF"/><line class="sg" x1="1528.8" y1="2303.1" x2="1491.9" y2="2269.2" stroke="#AE87FF"/><line class="sg" x1="1227.4" y1="2298.4" x2="1205.9" y2="2205.4" stroke="#B385FF"/><line class="sg" x1="1292" y1="2279.5" x2="1273" y2="2248.1" stroke="#B883FF"/><line class="sg" x1="1586" y1="2177.6" x2="1347.3" y2="2220.5" stroke="#BD81FF"/><line class="sg" x1="636.1" y1="2226.2" x2="657" y2="2216.8" stroke="#C17FFF"/><line class="sg" x1="1597.9" y1="2271.7" x2="1494.6" y2="2242.7" stroke="#D476FE"/><line class="sg" x1="1386" y1="2154.7" x2="1359.5" y2="2159.2" stroke="#DA72FB"/><line class="sg" x1="586.7" y1="2200.5" x2="605.9" y2="2209.7" stroke="#DD71FA"/><line class="sg" x1="1352.2" y1="2243.5" x2="1317.6" y2="2235.1" stroke="#E06FF8"/><line class="sg" x1="1232.3" y1="2198.8" x2="1201.9" y2="2204.6" stroke="#E36EF6"/><line class="sg" x1="416.7" y1="2216.3" x2="514.6" y2="2226.8" stroke="#E66CF4"/><line class="sg" x1="1473.3" y1="2297.1" x2="1435.1" y2="2271.9" stroke="#E86BF2"/><line class="sg" x1="1412" y1="2279.5" x2="1351.1" y2="2240.8" stroke="#EA69F0"/><line class="sg" x1="1539.3" y1="2271.8" x2="1410" y2="2232.4" stroke="#ED68EE"/><line class="sg" x1="1294.6" y1="2247.3" x2="1274.6" y2="2228.9" stroke="#F464E4"/><line class="sg" x1="1116.9" y1="2225.2" x2="1149.2" y2="2211.1" stroke="#F663E2"/><line class="sg" x1="826.7" y1="2142.9" x2="853.8" y2="2158.9" stroke="#F763DF"/><line class="sg" x1="1543.9" y1="2216.5" x2="1492.4" y2="2222.7" stroke="#FA62DA"/><line class="sg" x1="1653.9" y1="2252.6" x2="1577.8" y2="2233" stroke="#FB61D7"/><line class="sg" x1="897.4" y1="2226.5" x2="853" y2="2242.7" stroke="#FE61CE"/><line class="sg" x1="1143.9" y1="2162.1" x2="1114.1" y2="2182.2" stroke="#FF61CB"/><line class="sg" x1="647.8" y1="2181.3" x2="673.8" y2="2194.9" stroke="#FF61C8"/><line class="sg" x1="530.8" y1="2172.4" x2="607" y2="2219.2" stroke="#FF61C5"/><line class="sg" x1="1295.3" y1="2003.8" x2="1273.5" y2="2012.4" stroke="#FF62BB"/><line class="sg" x1="1037.2" y1="2263.5" x2="1113.5" y2="2210.8" stroke="#FF63B4"/><line class="sg" x1="931.1" y1="2066.5" x2="917.8" y2="2078.9" stroke="#FF64B1"/><line class="sg" x1="1179.5" y1="2124.3" x2="1170" y2="2164.9" stroke="#FF65AD"/><line class="sg" x1="531.1" y1="2255.2" x2="634.3" y2="2218.4" stroke="#FF66AA"/><line class="sg" x1="1238.6" y1="2228.1" x2="1258.6" y2="2213.2" stroke="#FF66A6"/><line class="sg" x1="1583.3" y1="2158.6" x2="1423" y2="2200" stroke="#FF67A3"/><line class="sg" x1="1488.8" y1="2175.8" x2="1440.5" y2="2191.9" stroke="#FF689F"/><line class="sg" x1="597.9" y1="2137.1" x2="677.3" y2="2203" stroke="#FF699B"/><line class="sg" x1="1430.6" y1="2089.9" x2="1371.9" y2="2112.2" stroke="#FF6A97"/><line class="sg" x1="993.6" y1="2284.1" x2="1077.3" y2="2233" stroke="#FE6E8B"/><line class="sg" x1="988.1" y1="2178.6" x2="1013" y2="2192.2" stroke="#FC717F"/><line class="sg" x1="700.1" y1="2238.4" x2="787.3" y2="2207.6" stroke="#FA7476"/><line class="sg" x1="682.2" y1="2110.8" x2="727.8" y2="2129.2" stroke="#F97572"/></g>
<g><text class="lb" x="365.9" y="2140.1" fill="#F8766D">Afghanistan</text>
<text class="lb" x="1133.8" y="2197.1" fill="#F77768">Albania</text>
<text class="lb" x="1025.7" y="2198.7" fill="#F67963">Algeria</text>
<text class="lb" x="1177.8" y="1862" fill="#F47A5E">American Samoa</text>
<text class="lb" x="1442.7" y="2276" fill="#F37B59">Andorra</text>
<text class="lb" x="607.6" y="2158.7" fill="#F27D53">Angola</text>
<text class="lb" x="1241.1" y="2045.8" fill="#F07E4E">Antigua and Barbuda</text>
<text class="lb" x="1147.3" y="2236.8" fill="#EF7F48">Argentina</text>
<text class="lb" x="1081.9" y="2274.9" fill="#ED8141">Armenia</text>
<text class="lb" x="1683.8" y="2143.9" fill="#EC823A">Australia</text>
<text class="lb" x="1470.8" y="2139" fill="#EA8332">Austria</text>
<text class="lb" x="1115.7" y="2178.2" fill="#E98429">Azerbaijan</text>
<text class="lb" x="1281.6" y="1897.6" fill="#E7861D">Bahamas</text>
<text class="lb" x="1221.1" y="2089" fill="#E5870A">Bahrain</text>
<text class="lb" x="707.6" y="2288.2" fill="#E48800">Bangladesh</text>
<text class="lb" x="1176.8" y="2054.4" fill="#E28900">Barbados</text>
<text class="lb" x="1282.2" y="2241.7" fill="#E08B00">Belarus</text>
<text class="lb" x="1476.5" y="2198.2" fill="#DE8C00">Belgium</text>
<text class="lb" x="960.3" y="2063.3" fill="#DC8D00">Belize</text>
<text class="lb" x="503.5" y="2221.7" fill="#DA8E00">Benin</text>
<text class="lb" x="1402.7" y="2111.4" fill="#D88F00">Bermuda</text>
<text class="lb" x="661.6" y="2268.5" fill="#D69100">Bhutan</text>
<text class="lb" x="843.5" y="2159.8" fill="#D49200">Bolivia (Plurinational State of)</text>
<text class="lb" x="1101.4" y="2293" fill="#D29300">Bosnia and Herzegovina</text>
<text class="lb" x="962.4" y="2122" fill="#D09400">Botswana</text>
<text class="lb" x="1050.3" y="2141.2" fill="#CD9500">Brazil</text>
<text class="lb" x="1315.9" y="2088.5" fill="#CB9600">Brunei Darussalam</text>
<text class="lb" x="1297.6" y="2309.8" fill="#C99800">Bulgaria</text>
<text class="lb" x="260" y="2217.6" fill="#C69900">Burkina Faso</text>
<text class="lb" x="344.6" y="2240.1" fill="#C49A00">Burundi</text>
<text class="lb" x="783.8" y="2281.7" fill="#C19B00">Cabo Verde</text>
<text class="lb" x="672.7" y="2159" fill="#BE9C00">Cambodia</text>
<text class="lb" x="685.4" y="2196.8" fill="#BC9D00">Cameroon</text>
<text class="lb" x="1638.9" y="2122.8" fill="#B99E00">Canada</text>
<text class="lb" x="185.7" y="2199.3" fill="#B69F00">Central African Republic</text>
<text class="lb" x="259.2" y="2240.6" fill="#B3A000">Chad</text>
<text class="lb" x="1351.6" y="2293" fill="#B0A100">Chile</text>
<text class="lb" x="1184.3" y="2174.4" fill="#ADA200">China</text>
<text class="lb" x="988.4" y="2239" fill="#AAA300">Colombia</text>
<text class="lb" x="663" y="2230.3" fill="#A7A400">Comoros</text>
<text class="lb" x="856.2" y="2140.6" fill="#A4A500">Congo</text>
<text class="lb" x="1272.2" y="2107.9" fill="#A1A600">Cook Islands</text>
<text class="lb" x="1032.4" y="2309.8" fill="#9DA700">Costa Rica</text>
<text class="lb" x="1393.2" y="2309" fill="#9AA800">Croatia</text>
<text class="lb" x="1076.2" y="2193.3" fill="#96A900">Cuba</text>
<text class="lb" x="1390.3" y="2192" fill="#93AA00">Cyprus</text>
<text class="lb" x="1388.4" y="2251.2" fill="#8FAA00">Czechia</text>
<text class="lb" x="539.5" y="2260.3" fill="#8BAB00">Côte d&#x27;Ivoire</text>
<text class="lb" x="695.7" y="2101.7" fill="#87AC00">Democratic People&#x27;s Republic of Korea</text>
<text class="lb" x="358.1" y="2202" fill="#82AD00">Democratic Republic of the Congo</text>
<text class="lb" x="1602.2" y="2238.5" fill="#7EAE00">Denmark</text>
<text class="lb" x="594.6" y="2122" fill="#79AF00">Djibouti</text>
<text class="lb" x="1202.4" y="2020.3" fill="#74AF00">Dominica</text>
<text class="lb" x="1004.6" y="2063.6" fill="#6FB000">Dominican Republic</text>
<text class="lb" x="1020.3" y="2178.7" fill="#6AB100">Ecuador</text>
<text class="lb" x="877" y="2243.9" fill="#64B200">Egypt</text>
<text class="lb" x="896.5" y="2201.7" fill="#5EB200">El Salvador</text>
<text class="lb" x="846.8" y="2121.4" fill="#58B300">Equatorial Guinea</text>
<text class="lb" x="554.6" y="2221.4" fill="#51B400">Eritrea</text>
<text class="lb" x="1424.3" y="2214.9" fill="#49B500">Estonia</text>
<text class="lb" x="881.6" y="2010.6" fill="#40B500">Eswatini</text>
<text class="lb" x="462.2" y="2240.9" fill="#35B600">Ethiopia</text>
<text class="lb" x="1097.3" y="2140.1" fill="#27B700">Fiji</text>
<text class="lb" x="1444.3" y="2255.5" fill="#11B700">Finland</text>
<text class="lb" x="1439.7" y="2177.9" fill="#00B816">France</text>
<text class="lb" x="920" y="2102" fill="#00B824">Gabon</text>
<text class="lb" x="554.6" y="2173" fill="#00B92E">Gambia</text>
<text class="lb" x="1233.5" y="2180.9" fill="#00B936">Georgia</text>
<text class="lb" x="1706.7" y="2182" fill="#00BA3D">Germany</text>
<text class="lb" x="786.2" y="2195.2" fill="#00BB44">Ghana</text>
<text class="lb" x="1268.9" y="2222" fill="#00BB4A">Greece</text>
<text class="lb" x="1401.9" y="2139" fill="#00BC4F">Greenland</text>
<text class="lb" x="1033.8" y="2021.7" fill="#00BC55">Grenada</text>
<text class="lb" x="1357.8" y="2123.3" fill="#00BC5A">Guam</text>
<text class="lb" x="728.4" y="2121.2" fill="#00BD5F">Guatemala</text>
<text class="lb" x="424.3" y="2222" fill="#00BD64">Guinea</text>
<text class="lb" x="326.5" y="2160.9" fill="#00BE69">Guinea−Bissau</text>
<text class="lb" x="1062.7" y="1947.1" fill="#00BE6D">Guyana</text>
<text class="lb" x="648.9" y="2060.9" fill="#00BE71">Haiti</text>
<text class="lb" x="741.4" y="2140.6" fill="#00BF76">Honduras</text>
<text class="lb" x="1322.2" y="2213.3" fill="#00BF7A">Hungary</text>
<text class="lb" x="1600.3" y="2258.2" fill="#00BF7E">Iceland</text>
<text class="lb" x="858.1" y="2262.2" fill="#00C082">India</text>
<text class="lb" x="895.1" y="2276.8" fill="#00C086">Indonesia</text>
<text class="lb" x="1006.2" y="2256.3" fill="#00C08A">Iran (Islamic Republic of)</text>
<text class="lb" x="1053.8" y="2236.8" fill="#00C08E">Iraq</text>
<text class="lb" x="1498.9" y="2219.5" fill="#00C092">Ireland</text>
<text class="lb" x="1349.5" y="2174.7" fill="#00C095">Israel</text>
<text class="lb" x="1350.8" y="2193.3" fill="#00C199">Italy</text>
<text class="lb" x="1101.4" y="2121.7" fill="#00C19D">Jamaica</text>
<text class="lb" x="1497.8" y="2289.8" fill="#00C1A0">Japan</text>
<text class="lb" x="1186.2" y="2194.7" fill="#00C1A4">Jordan</text>
<text class="lb" x="1140.3" y="2256.3" fill="#00C1A7">Kazakhstan</text>
<text class="lb" x="831.9" y="2233" fill="#00C1AB">Kenya</text>
<text class="lb" x="781.6" y="2011.4" fill="#00C0AE">Kiribati</text>
<text class="lb" x="1494.6" y="2258.7" fill="#00C0B1">Kuwait</text>
<text class="lb" x="919.2" y="2258.5" fill="#00C0B5">Kyrgyzstan</text>
<text class="lb" x="593.2" y="2140.6" fill="#00C0B8">Lao People&#x27;s Democratic Republic</text>
<text class="lb" x="1444.6" y="2235.5" fill="#00C0BB">Latvia</text>
<text class="lb" x="1288.4" y="2162.5" fill="#00C0BE">Lebanon</text>
<text class="lb" x="802.7" y="2053.3" fill="#00BFC1">Lesotho</text>
<text class="lb" x="331.4" y="2199" fill="#00BFC4">Liberia</text>
<text class="lb" x="1180.3" y="2144.9" fill="#00BFC7">Libya</text>
<text class="lb" x="1538.6" y="2244.4" fill="#00BECA">Lithuania</text>
<text class="lb" x="1602.2" y="2220.1" fill="#00BECD">Luxembourg</text>
<text class="lb" x="524.6" y="2240.9" fill="#00BDD0">Madagascar</text>
<text class="lb" x="505.4" y="2189" fill="#00BDD3">Malawi</text>
<text class="lb" x="1225.7" y="2160.3" fill="#00BCD6">Malaysia</text>
<text class="lb" x="1035.7" y="2121.4" fill="#00BCD8">Maldives</text>
<text class="lb" x="308.1" y="2237.1" fill="#00BBDB">Mali</text>
<text class="lb" x="1396.8" y="2269.5" fill="#00BADE">Malta</text>
<text class="lb" x="822.2" y="2083" fill="#00BAE0">Marshall Islands</text>
<text class="lb" x="734.6" y="2177.6" fill="#00B9E3">Mauritania</text>
<text class="lb" x="1209.5" y="2125.5" fill="#00B8E5">Mauritius</text>
<text class="lb" x="1070.5" y="2160.3" fill="#00B7E7">Mexico</text>
<text class="lb" x="813" y="2033.6" fill="#00B6EA">Micronesia (Federated States of)</text>
<text class="lb" x="1666.2" y="2238.5" fill="#00B6EC">Monaco</text>
<text class="lb" x="926.8" y="2239" fill="#00B5EE">Mongolia</text>
<text class="lb" x="1319.5" y="2273.9" fill="#00B4F0">Montenegro</text>
<text class="lb" x="838.6" y="2183.3" fill="#00B2F2">Morocco</text>
<text class="lb" x="390.5" y="2179.3" fill="#00B1F4">Mozambique</text>
<text class="lb" x="794.3" y="2159.5" fill="#00B0F6">Myanmar</text>
<text class="lb" x="926.8" y="2140.6" fill="#00AFF8">Namibia</text>
<text class="lb" x="1015.7" y="2044.4" fill="#00AEFA">Nauru</text>
<text class="lb" x="618.6" y="2259.3" fill="#00ACFB">Nepal</text>
<text class="lb" x="1533.5" y="2200.6" fill="#00ABFD">Netherlands</text>
<text class="lb" x="1555.4" y="2139.8" fill="#00AAFE">New Zealand</text>
<text class="lb" x="779.2" y="2253" fill="#00A8FF">Nicaragua</text>
<text class="lb" x="729.7" y="2235.2" fill="#00A7FF">Nigeria</text>
<text class="lb" x="1162.4" y="2035.2" fill="#00A5FF">Niue</text>
<text class="lb" x="1187" y="2274.7" fill="#10A4FF">North Macedonia</text>
<text class="lb" x="1242.9" y="2142" fill="#2FA2FF">Northern Mariana Islands</text>
<text class="lb" x="1680.8" y="2200.6" fill="#41A0FF">Norway</text>
<text class="lb" x="1304.9" y="2185.8" fill="#4F9FFF">Oman</text>
<text class="lb" x="722.2" y="2268.5" fill="#5A9DFF">Pakistan</text>
<text class="lb" x="1179.5" y="2073.9" fill="#649BFF">Palau</text>
<text class="lb" x="962.2" y="2195.2" fill="#6D9AFF">Palestine</text>
<text class="lb" x="1124.3" y="2140.6" fill="#7698FF">Panama</text>
<text class="lb" x="492.4" y="2102.5" fill="#7E96FF">Papua New Guinea</text>
<text class="lb" x="984.3" y="2140.6" fill="#8594FF">Paraguay</text>
<text class="lb" x="960.5" y="2276.6" fill="#8C92FF">Peru</text>
<text class="lb" x="1030.3" y="2102" fill="#9290FF">Philippines</text>
<text class="lb" x="1339.7" y="2235.8" fill="#988EFF">Poland</text>
<text class="lb" x="1205.9" y="2220.9" fill="#9E8CFF">Portugal</text>
<text class="lb" x="1381.4" y="2034.1" fill="#A48BFF">Puerto Rico</text>
<text class="lb" x="1496.8" y="2238.2" fill="#A989FF">Qatar</text>
<text class="lb" x="1531.4" y="2308.7" fill="#AE87FF">Republic of Korea</text>
<text class="lb" x="1171.4" y="2309.8" fill="#B385FF">Republic of Moldova</text>
<text class="lb" x="1267.6" y="2290.9" fill="#B883FF">Romania</text>
<text class="lb" x="1588.6" y="2181.7" fill="#BD81FF">Russian Federation</text>
<text class="lb" x="607.3" y="2237.6" fill="#C17FFF">Rwanda</text>
<text class="lb" x="1241.2" y="2067.4" fill="#C57DFF">Saint Kitts and Nevis</text>
<text class="lb" x="1100.3" y="2101.7" fill="#C97BFF">Saint Lucia</text>
<text class="lb" x="902.2" y="1978.7" fill="#CD79FF">Saint Vincent and the Grenadines</text>
<text class="lb" x="958.1" y="2083" fill="#D077FF">Samoa</text>
<text class="lb" x="1600.5" y="2276.8" fill="#D476FE">San Marino</text>
<text class="lb" x="691.6" y="2216" fill="#D774FD">Sao Tome and Principe</text>
<text class="lb" x="1388.6" y="2158.2" fill="#DA72FB">Saudi Arabia</text>
<text class="lb" x="558.4" y="2197.9" fill="#DD71FA">Senegal</text>
<text class="lb" x="1340.5" y="2254.9" fill="#E06FF8">Serbia</text>
<text class="lb" x="1234.9" y="2201.7" fill="#E36EF6">Seychelles</text>
<text class="lb" x="343.2" y="2220.3" fill="#E66CF4">Sierra Leone</text>
<text class="lb" x="1448.1" y="2308.5" fill="#E86BF2">Singapore</text>
<text class="lb" x="1390.3" y="2290.9" fill="#EA69F0">Slovakia</text>
<text class="lb" x="1541.9" y="2276.8" fill="#ED68EE">Slovenia</text>
<text class="lb" x="593" y="2083.6" fill="#EF67EC">Solomon Islands</text>
<text class="lb" x="1110" y="1995.2" fill="#F166E9">South Africa</text>
<text class="lb" x="283.2" y="2179.8" fill="#F365E7">South Sudan</text>
<text class="lb" x="1279.7" y="2258.7" fill="#F464E4">Spain</text>
<text class="lb" x="1084.6" y="2236.6" fill="#F663E2">Sri Lanka</text>
<text class="lb" x="806.5" y="2140.3" fill="#F763DF">Sudan</text>
<text class="lb" x="967" y="2102" fill="#F962DC">Suriname</text>
<text class="lb" x="1546.5" y="2220.3" fill="#FA62DA">Sweden</text>
<text class="lb" x="1656.5" y="2257.9" fill="#FB61D7">Switzerland</text>
<text class="lb" x="954.3" y="2220.3" fill="#FC61D4">Syrian Arab Republic</text>
<text class="lb" x="1453.2" y="2159" fill="#FD61D1">Taiwan (Province of China)</text>
<text class="lb" x="877.8" y="2223.9" fill="#FE61CE">Tajikistan</text>
<text class="lb" x="1122.7" y="2159.5" fill="#FF61CB">Thailand</text>
<text class="lb" x="607.6" y="2178.7" fill="#FF61C8">Timor−Leste</text>
<text class="lb" x="516.8" y="2169.8" fill="#FF61C5">Togo</text>
<text class="lb" x="1092.4" y="2037.1" fill="#FF61C2">Tokelau</text>
<text class="lb" x="1018.1" y="2083" fill="#FF62BE">Tonga</text>
<text class="lb" x="1251.1" y="2001.2" fill="#FF62BB">Trinidad and Tobago</text>
<text class="lb" x="1083.8" y="2213" fill="#FF63B8">Tunisia</text>
<text class="lb" x="997.3" y="2274.9" fill="#FF63B4">Turkmenistan</text>
<text class="lb" x="913.5" y="2063.9" fill="#FF64B1">Tuvalu</text>
<text class="lb" x="1159.2" y="2121.7" fill="#FF65AD">Türkiye</text>
<text class="lb" x="485.1" y="2260.3" fill="#FF66AA">Uganda</text>
<text class="lb" x="1215.4" y="2239.5" fill="#FF66A6">Ukraine</text>
<text class="lb" x="1585.9" y="2162.5" fill="#FF67A3">United Arab Emirates</text>
<text class="lb" x="1491.4" y="2178.7" fill="#FF689F">United Kingdom</text>
<text class="lb" x="441.4" y="2140.9" fill="#FF699B">United Republic of Tanzania</text>
<text class="lb" x="1433.2" y="2093" fill="#FF6A97">United States Virgin Islands</text>
<text class="lb" x="1463.2" y="2118.2" fill="#FF6B93">United States of America</text>
<text class="lb" x="1135.4" y="2216.3" fill="#FF6D8F">Uruguay</text>
<text class="lb" x="960.8" y="2295.5" fill="#FE6E8B">Uzbekistan</text>
<text class="lb" x="734.3" y="2069" fill="#FD6F87">Vanuatu</text>
<text class="lb" x="761" y="2209.5" fill="#FD7083">Venezuela (Bolivarian Republic of)</text>
<text class="lb" x="958.1" y="2176" fill="#FC717F">Viet Nam</text>
<text class="lb" x="630.8" y="2209.5" fill="#FB727A">Yemen</text>
<text class="lb" x="677" y="2249.8" fill="#FA7476">Zambia</text>
<text class="lb" x="647.6" y="2108.2" fill="#F97572">Zimbabwe</text></g>
<path d="M147.1 1845.8 V2314.4 H1776" fill="none" stroke="#000" stroke-width="1.4" stroke-linejoin="miter"/>
<line x1="221.3" y1="2314.4" x2="221.3" y2="2318.1" stroke="#333" stroke-width="1.4"/>
<text class="ax" text-anchor="middle" transform="translate(221.3 2338.3) scale(1 1.05)">0.2</text>
<line x1="406.4" y1="2314.4" x2="406.4" y2="2318.1" stroke="#333" stroke-width="1.4"/>
<text class="ax" text-anchor="middle" transform="translate(406.4 2338.3) scale(1 1.05)">0.3</text>
<line x1="591.5" y1="2314.4" x2="591.5" y2="2318.1" stroke="#333" stroke-width="1.4"/>
<text class="ax" text-anchor="middle" transform="translate(591.5 2338.3) scale(1 1.05)">0.4</text>
<line x1="776.6" y1="2314.4" x2="776.6" y2="2318.1" stroke="#333" stroke-width="1.4"/>
<text class="ax" text-anchor="middle" transform="translate(776.6 2338.3) scale(1 1.05)">0.5</text>
<line x1="961.7" y1="2314.4" x2="961.7" y2="2318.1" stroke="#333" stroke-width="1.4"/>
<text class="ax" text-anchor="middle" transform="translate(961.7 2338.3) scale(1 1.05)">0.6</text>
<line x1="1146.8" y1="2314.4" x2="1146.8" y2="2318.1" stroke="#333" stroke-width="1.4"/>
<text class="ax" text-anchor="middle" transform="translate(1146.8 2338.3) scale(1 1.05)">0.7</text>
<line x1="1331.9" y1="2314.4" x2="1331.9" y2="2318.1" stroke="#333" stroke-width="1.4"/>
<text class="ax" text-anchor="middle" transform="translate(1331.9 2338.3) scale(1 1.05)">0.8</text>
<line x1="1517" y1="2314.4" x2="1517" y2="2318.1" stroke="#333" stroke-width="1.4"/>
<text class="ax" text-anchor="middle" transform="translate(1517 2338.3) scale(1 1.05)">0.9</text>
<line x1="1702.1" y1="2314.4" x2="1702.1" y2="2318.1" stroke="#333" stroke-width="1.4"/>
<text class="ax" text-anchor="middle" transform="translate(1702.1 2338.3) scale(1 1.05)">1.0</text>
<line x1="143.4" y1="1914.1" x2="147.1" y2="1914.1" stroke="#333" stroke-width="1.4"/>
<text class="ax" text-anchor="end" transform="translate(139.8 1923.2) scale(1 1.05)">600</text>
<line x1="143.4" y1="2044.6" x2="147.1" y2="2044.6" stroke="#333" stroke-width="1.4"/>
<text class="ax" text-anchor="end" transform="translate(139.8 2053.7) scale(1 1.05)">400</text>
<line x1="143.4" y1="2175.1" x2="147.1" y2="2175.1" stroke="#333" stroke-width="1.4"/>
<text class="ax" text-anchor="end" transform="translate(139.8 2184.2) scale(1 1.05)">200</text>
<line x1="143.4" y1="2305.7" x2="147.1" y2="2305.7" stroke="#333" stroke-width="1.4"/>
<text class="ax" text-anchor="end" transform="translate(139.8 2314.8) scale(1 1.05)">0</text>
<text class="at" transform="translate(958 2364.5) scale(1 1.04)">SDI</text>
<text class="tt" x="961.5" y="1832.4">DALYs</text>
<text class="tg" transform="translate(6.2 1810.5) scale(1 1.04)">D</text>
<text class="at" transform="translate(41.7 2080.1) rotate(-90)">DALYs Age−standardised rate</text>
<text class="at" transform="translate(68.9 2077.5) rotate(-90)">per 100,000 population</text>
<text class="an" transform="translate(313.6 1881.5) scale(1 1.04)">R = −0.105</text>
<text class="an" transform="translate(313.6 1910) scale(1 1.04)">P = 0.133</text>
</g>
</svg></body></html>
